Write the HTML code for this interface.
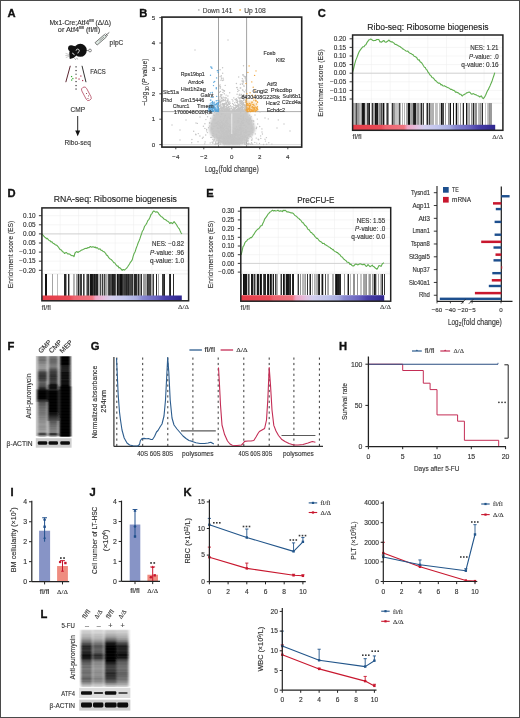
<!DOCTYPE html>
<html><head><meta charset="utf-8"><style>
html,body{margin:0;padding:0;background:#fff;}
body{width:520px;height:718px;overflow:hidden;position:relative;font-family:"Liberation Sans",sans-serif;}
svg{position:absolute;left:0;top:0;display:block;filter:blur(0.45px);}
.brd{position:absolute;left:0;top:0;width:518px;height:716px;border:1px solid #4a4a4a;}
</style></head><body>
<svg width="520" height="718" viewBox="0 0 520 718">
<text x="7.6" y="16.599999999999998" font-size="11.2" font-weight="bold" fill="#111" font-family='"Liberation Sans", sans-serif' stroke="#111" stroke-width="0.35">A</text>
<text x="80.2" y="24.5" font-size="6.9" text-anchor="middle" textLength="61.5" lengthAdjust="spacingAndGlyphs" fill="#333" stroke="#333" stroke-width="0.14" font-family='"Liberation Sans", sans-serif'>Mx1-Cre;Atf4<tspan font-size="3.6" dy="-2.8">fl/fl</tspan><tspan dy="2.8"> (Δ/Δ)</tspan></text>
<text x="79" y="31.5" font-size="6.9" text-anchor="middle" textLength="42.4" lengthAdjust="spacingAndGlyphs" fill="#333" stroke="#333" stroke-width="0.14" font-family='"Liberation Sans", sans-serif'>or Atf4<tspan font-size="3.6" dy="-2.8">fl/fl</tspan><tspan dy="2.8"> (fl/fl)</tspan></text>
<g transform="rotate(-41 101 39.6)"><rect x="94.5" y="38" width="12.5" height="3.2" fill="#dde8e2" stroke="#555" stroke-width="0.7"/><line x1="99" y1="39.6" x2="105" y2="39.6" stroke="#888" stroke-width="0.8"/><line x1="107" y1="39.6" x2="112" y2="39.6" stroke="#555" stroke-width="0.8"/><line x1="108.5" y1="38" x2="108.5" y2="41.2" stroke="#555" stroke-width="0.7"/></g>
<text x="109.5" y="45.2" font-size="6.6" textLength="13.8" lengthAdjust="spacingAndGlyphs" fill="#333" stroke="#333" stroke-width="0.14" font-family='"Liberation Sans", sans-serif'>pIpC</text>
<g><circle cx="80.3" cy="50.3" r="6.5" fill="#111"/><circle cx="71" cy="48.2" r="2.9" fill="#111"/><path d="M71 46 C74 45 77 46.5 78.5 49 C79 53 76 57 72.5 58.3 L69.8 59 C69.2 56 69 53 69.8 50 Z" fill="#111"/><path d="M76.1 50.6 A1.6 1.6 0 1 1 78.3 52.2 L77.8 53.4" stroke="#fff" stroke-width="0.85" fill="none"/><path d="M72.6 53.3 L74.2 54.5" stroke="#fff" stroke-width="1.0" stroke-linecap="round"/><path d="M69.3 54.6 L65.6 53.4 M69.3 55.3 L65.3 55.6 M69.5 56 L65.8 57.6" stroke="#999" stroke-width="0.5"/><path d="M74.5 58.2 L75.8 59.8 M76.6 57.8 L77.6 59.4" stroke="#888" stroke-width="0.8"/><path d="M86.7 50.6 L88.7 50.5" stroke="#333" stroke-width="0.6" fill="none"/><circle cx="90" cy="50.5" r="1.4" fill="#fff" stroke="#555" stroke-width="0.7"/></g>
<line x1="70.3" y1="65.8" x2="65.8" y2="82.2" stroke="#5a2530" stroke-width="1.0"/>
<line x1="82.0" y1="65.8" x2="86.0" y2="82.2" stroke="#333" stroke-width="1.0"/>
<rect x="75.45" y="66.25" width="1.2" height="1.2" fill="#333"/>
<rect x="75.45" y="69.95" width="1.2" height="1.2" fill="#333"/>
<rect x="75.45" y="73.65" width="1.2" height="1.2" fill="#555"/>
<rect x="75.45" y="77.45" width="1.2" height="1.2" fill="#933"/>
<rect x="75.45" y="80.95" width="1.2" height="1.2" fill="#333"/>
<rect x="75.45" y="84.95" width="1.2" height="1.2" fill="#333"/>
<rect x="75.45" y="88.45" width="1.2" height="1.2" fill="#333"/>
<rect x="80.25" y="75.45" width="1.2" height="1.2" fill="#b03050"/>
<rect x="78.45" y="78.45" width="1.2" height="1.2" fill="#b03050"/>
<rect x="82.05" y="79.95" width="1.2" height="1.2" fill="#b03050"/>
<rect x="70.95" y="75.95" width="1.2" height="1.2" fill="#3a3"/>
<rect x="72.25" y="77.95" width="1.2" height="1.2" fill="#3a3"/>
<rect x="71.05" y="79.45" width="1.2" height="1.2" fill="#3a3"/>
<g transform="rotate(-28 86.5 94)"><rect x="83.8" y="86.5" width="5.4" height="14.5" rx="2.6" fill="none" stroke="#b0405a" stroke-width="0.7"/></g>
<rect x="86" y="93" width="0.9" height="0.9" fill="#8a2a3a"/>
<rect x="88" y="95.5" width="0.9" height="0.9" fill="#8a2a3a"/>
<rect x="87.5" y="98" width="0.9" height="0.9" fill="#8a2a3a"/>
<text x="90.3" y="74" font-size="7.0" textLength="15.5" lengthAdjust="spacingAndGlyphs" fill="#333" stroke="#333" stroke-width="0.14" font-family='"Liberation Sans", sans-serif'>FACS</text>
<text x="70.5" y="112.1" font-size="7.0" textLength="14.5" lengthAdjust="spacingAndGlyphs" fill="#333" stroke="#333" stroke-width="0.14" font-family='"Liberation Sans", sans-serif'>CMP</text>
<line x1="77.7" y1="116" x2="77.7" y2="131" stroke="#111" stroke-width="0.9"/>
<path d="M75.2 130.5 L80.2 130.5 L77.7 136.2 Z" fill="#111"/>
<text x="64.6" y="145.4" font-size="7.2" textLength="26.2" lengthAdjust="spacingAndGlyphs" fill="#333" stroke="#333" stroke-width="0.14" font-family='"Liberation Sans", sans-serif'>Ribo-seq</text>
<text x="139.3" y="16.599999999999998" font-size="11.2" font-weight="bold" fill="#111" font-family='"Liberation Sans", sans-serif' stroke="#111" stroke-width="0.35">B</text>
<circle cx="198.8" cy="9.9" r="0.9" fill="#bbb"/>
<text x="202.7" y="12.5" font-size="6.8" textLength="29.7" lengthAdjust="spacingAndGlyphs" fill="#444" stroke="#444" stroke-width="0.14" font-family='"Liberation Sans", sans-serif'>Down 141</text>
<circle cx="240.1" cy="9.9" r="0.9" fill="#f0b050"/>
<text x="244.2" y="12.5" font-size="6.8" textLength="21.6" lengthAdjust="spacingAndGlyphs" fill="#444" stroke="#444" stroke-width="0.14" font-family='"Liberation Sans", sans-serif'>Up 108</text>
<line x1="218.5" y1="17.1" x2="218.5" y2="147.1" stroke="#8a8a8a" stroke-width="0.8"/>
<line x1="246.6" y1="17.1" x2="246.6" y2="147.1" stroke="#8a8a8a" stroke-width="0.8"/>
<line x1="161.9" y1="111.6" x2="301.7" y2="111.6" stroke="#8a8a8a" stroke-width="0.7"/>
<line x1="161.9" y1="144.6" x2="301.7" y2="144.6" stroke="#bbb" stroke-width="0.5"/>
<defs><filter id="vb" x="-10%" y="-10%" width="120%" height="120%"><feGaussianBlur stdDeviation="1.2"/></filter></defs>
<path d="M215.5 111 L212 117 L210 123 L209 129.5 L210.5 134.5 L214 138.5 L219 142.8 L224 145 L240 145 L244 142.8 L249 138.5 L253.5 134 L255.5 129.5 L254 124 L251.5 118 L247.5 111 Z" fill="#c8c8c8" filter="url(#vb)"/>
<g fill="#c4c4c4"><circle cx="218.1" cy="137.8" r="0.7"/><circle cx="242.9" cy="136.4" r="0.7"/><circle cx="216.9" cy="143.4" r="0.7"/><circle cx="237.2" cy="132.2" r="0.7"/><circle cx="218.2" cy="121.5" r="0.7"/><circle cx="239.7" cy="138.3" r="0.7"/><circle cx="249.0" cy="124.3" r="0.7"/><circle cx="230.7" cy="142.4" r="0.7"/><circle cx="260.6" cy="135.9" r="0.7"/><circle cx="223.0" cy="128.7" r="0.7"/><circle cx="232.9" cy="143.5" r="0.7"/><circle cx="227.9" cy="144.0" r="0.7"/><circle cx="234.9" cy="138.1" r="0.7"/><circle cx="244.1" cy="141.1" r="0.7"/><circle cx="211.8" cy="128.5" r="0.7"/><circle cx="215.9" cy="141.2" r="0.7"/><circle cx="215.3" cy="144.6" r="0.7"/><circle cx="223.1" cy="141.6" r="0.7"/><circle cx="268.8" cy="142.8" r="0.7"/><circle cx="241.2" cy="125.4" r="0.7"/><circle cx="228.6" cy="138.3" r="0.7"/><circle cx="230.8" cy="141.7" r="0.7"/><circle cx="233.0" cy="136.6" r="0.7"/><circle cx="238.1" cy="134.8" r="0.7"/><circle cx="252.8" cy="132.6" r="0.7"/><circle cx="239.5" cy="144.6" r="0.7"/><circle cx="242.5" cy="135.3" r="0.7"/><circle cx="243.0" cy="142.6" r="0.7"/><circle cx="245.9" cy="133.2" r="0.7"/><circle cx="233.4" cy="138.2" r="0.7"/><circle cx="240.4" cy="138.1" r="0.7"/><circle cx="250.2" cy="136.4" r="0.7"/><circle cx="238.0" cy="138.5" r="0.7"/><circle cx="235.0" cy="142.6" r="0.7"/><circle cx="233.8" cy="139.4" r="0.7"/><circle cx="220.4" cy="138.2" r="0.7"/><circle cx="238.4" cy="126.1" r="0.7"/><circle cx="242.7" cy="128.0" r="0.7"/><circle cx="240.5" cy="134.9" r="0.7"/><circle cx="233.9" cy="137.9" r="0.7"/><circle cx="251.7" cy="137.1" r="0.7"/><circle cx="224.0" cy="118.8" r="0.7"/><circle cx="234.5" cy="135.7" r="0.7"/><circle cx="241.6" cy="127.8" r="0.7"/><circle cx="233.8" cy="138.2" r="0.7"/><circle cx="233.2" cy="137.4" r="0.7"/><circle cx="230.5" cy="141.6" r="0.7"/><circle cx="244.3" cy="132.6" r="0.7"/><circle cx="232.5" cy="134.4" r="0.7"/><circle cx="223.3" cy="133.7" r="0.7"/><circle cx="244.3" cy="139.7" r="0.7"/><circle cx="211.7" cy="123.8" r="0.7"/><circle cx="234.5" cy="139.8" r="0.7"/><circle cx="249.1" cy="123.7" r="0.7"/><circle cx="231.8" cy="140.1" r="0.7"/><circle cx="230.0" cy="124.7" r="0.7"/><circle cx="240.8" cy="111.8" r="0.7"/><circle cx="243.0" cy="130.0" r="0.7"/><circle cx="227.2" cy="142.2" r="0.7"/><circle cx="259.7" cy="126.5" r="0.7"/><circle cx="233.1" cy="132.1" r="0.7"/><circle cx="230.9" cy="130.2" r="0.7"/><circle cx="224.1" cy="138.4" r="0.7"/><circle cx="239.9" cy="125.5" r="0.7"/><circle cx="239.1" cy="140.7" r="0.7"/><circle cx="211.4" cy="128.0" r="0.7"/><circle cx="225.0" cy="138.0" r="0.7"/><circle cx="238.4" cy="140.5" r="0.7"/><circle cx="240.6" cy="143.4" r="0.7"/><circle cx="228.1" cy="143.4" r="0.7"/><circle cx="236.6" cy="135.3" r="0.7"/><circle cx="226.5" cy="142.0" r="0.7"/><circle cx="216.5" cy="113.8" r="0.7"/><circle cx="248.1" cy="141.0" r="0.7"/><circle cx="226.4" cy="130.7" r="0.7"/><circle cx="233.7" cy="142.8" r="0.7"/><circle cx="256.2" cy="138.1" r="0.7"/><circle cx="247.6" cy="140.9" r="0.7"/><circle cx="213.8" cy="140.7" r="0.7"/><circle cx="244.3" cy="134.9" r="0.7"/><circle cx="229.8" cy="126.3" r="0.7"/><circle cx="230.4" cy="132.0" r="0.7"/><circle cx="238.5" cy="118.3" r="0.7"/><circle cx="221.6" cy="126.2" r="0.7"/><circle cx="250.2" cy="119.0" r="0.7"/><circle cx="214.6" cy="126.4" r="0.7"/><circle cx="241.4" cy="130.2" r="0.7"/><circle cx="224.0" cy="135.4" r="0.7"/><circle cx="218.5" cy="132.6" r="0.7"/><circle cx="245.8" cy="132.1" r="0.7"/><circle cx="254.8" cy="142.4" r="0.7"/><circle cx="230.3" cy="136.5" r="0.7"/><circle cx="230.4" cy="134.0" r="0.7"/><circle cx="211.9" cy="128.7" r="0.7"/><circle cx="247.9" cy="128.0" r="0.7"/><circle cx="246.7" cy="139.8" r="0.7"/><circle cx="223.8" cy="143.4" r="0.7"/><circle cx="227.6" cy="133.1" r="0.7"/><circle cx="212.8" cy="111.8" r="0.7"/><circle cx="231.7" cy="143.5" r="0.7"/><circle cx="226.5" cy="128.6" r="0.7"/><circle cx="233.8" cy="139.6" r="0.7"/><circle cx="245.4" cy="129.9" r="0.7"/><circle cx="209.7" cy="126.1" r="0.7"/><circle cx="224.1" cy="127.4" r="0.7"/><circle cx="235.6" cy="134.5" r="0.7"/><circle cx="240.4" cy="115.9" r="0.7"/><circle cx="239.9" cy="135.6" r="0.7"/><circle cx="223.3" cy="138.6" r="0.7"/><circle cx="240.4" cy="132.3" r="0.7"/><circle cx="243.1" cy="118.0" r="0.7"/><circle cx="225.2" cy="115.5" r="0.7"/><circle cx="230.7" cy="139.9" r="0.7"/><circle cx="223.2" cy="141.2" r="0.7"/><circle cx="234.4" cy="135.5" r="0.7"/><circle cx="222.6" cy="132.7" r="0.7"/><circle cx="223.3" cy="120.4" r="0.7"/><circle cx="244.0" cy="142.5" r="0.7"/><circle cx="234.3" cy="143.6" r="0.7"/><circle cx="234.1" cy="142.8" r="0.7"/><circle cx="228.1" cy="132.1" r="0.7"/><circle cx="224.6" cy="123.6" r="0.7"/><circle cx="237.8" cy="143.8" r="0.7"/><circle cx="229.4" cy="144.0" r="0.7"/><circle cx="235.8" cy="138.0" r="0.7"/><circle cx="234.0" cy="142.5" r="0.7"/><circle cx="223.4" cy="133.8" r="0.7"/><circle cx="220.6" cy="127.7" r="0.7"/><circle cx="228.8" cy="138.9" r="0.7"/><circle cx="224.9" cy="143.4" r="0.7"/><circle cx="244.4" cy="143.3" r="0.7"/><circle cx="230.2" cy="139.6" r="0.7"/><circle cx="230.4" cy="137.2" r="0.7"/><circle cx="227.4" cy="132.6" r="0.7"/><circle cx="217.6" cy="124.4" r="0.7"/><circle cx="216.2" cy="123.3" r="0.7"/><circle cx="235.8" cy="142.2" r="0.7"/><circle cx="248.1" cy="131.4" r="0.7"/><circle cx="240.2" cy="133.6" r="0.7"/><circle cx="214.5" cy="112.2" r="0.7"/><circle cx="221.4" cy="130.7" r="0.7"/><circle cx="246.3" cy="121.8" r="0.7"/><circle cx="243.5" cy="138.3" r="0.7"/><circle cx="227.4" cy="138.8" r="0.7"/><circle cx="228.2" cy="126.6" r="0.7"/><circle cx="220.6" cy="124.9" r="0.7"/><circle cx="237.3" cy="120.8" r="0.7"/><circle cx="262.4" cy="134.0" r="0.7"/><circle cx="212.5" cy="135.5" r="0.7"/><circle cx="221.3" cy="114.1" r="0.7"/><circle cx="238.2" cy="135.8" r="0.7"/><circle cx="242.3" cy="136.4" r="0.7"/><circle cx="213.6" cy="133.2" r="0.7"/><circle cx="229.1" cy="144.4" r="0.7"/><circle cx="233.3" cy="141.8" r="0.7"/><circle cx="233.9" cy="139.5" r="0.7"/><circle cx="221.8" cy="121.9" r="0.7"/><circle cx="235.8" cy="140.1" r="0.7"/><circle cx="213.9" cy="141.1" r="0.7"/><circle cx="241.0" cy="126.1" r="0.7"/><circle cx="244.1" cy="138.1" r="0.7"/><circle cx="236.3" cy="143.2" r="0.7"/><circle cx="234.2" cy="133.8" r="0.7"/><circle cx="227.3" cy="128.0" r="0.7"/><circle cx="223.0" cy="131.6" r="0.7"/><circle cx="239.8" cy="130.4" r="0.7"/><circle cx="227.7" cy="135.3" r="0.7"/><circle cx="245.4" cy="113.0" r="0.7"/><circle cx="237.5" cy="122.9" r="0.7"/><circle cx="245.2" cy="140.4" r="0.7"/><circle cx="225.1" cy="140.9" r="0.7"/><circle cx="218.9" cy="140.0" r="0.7"/><circle cx="229.7" cy="143.3" r="0.7"/><circle cx="245.0" cy="140.6" r="0.7"/><circle cx="215.5" cy="123.6" r="0.7"/><circle cx="219.8" cy="137.2" r="0.7"/><circle cx="230.3" cy="141.8" r="0.7"/><circle cx="220.6" cy="140.6" r="0.7"/><circle cx="256.3" cy="128.5" r="0.7"/><circle cx="230.3" cy="135.4" r="0.7"/><circle cx="240.1" cy="134.2" r="0.7"/><circle cx="241.5" cy="115.7" r="0.7"/><circle cx="222.1" cy="142.7" r="0.7"/><circle cx="237.4" cy="129.8" r="0.7"/><circle cx="237.1" cy="141.9" r="0.7"/><circle cx="232.2" cy="143.1" r="0.7"/><circle cx="234.6" cy="138.4" r="0.7"/><circle cx="228.0" cy="136.4" r="0.7"/><circle cx="222.2" cy="128.6" r="0.7"/><circle cx="246.1" cy="126.3" r="0.7"/><circle cx="241.4" cy="132.4" r="0.7"/><circle cx="231.8" cy="139.9" r="0.7"/><circle cx="220.0" cy="141.3" r="0.7"/><circle cx="223.6" cy="134.8" r="0.7"/><circle cx="225.3" cy="143.3" r="0.7"/><circle cx="236.3" cy="130.3" r="0.7"/><circle cx="222.9" cy="131.4" r="0.7"/><circle cx="241.0" cy="128.8" r="0.7"/><circle cx="236.9" cy="138.3" r="0.7"/><circle cx="230.6" cy="130.2" r="0.7"/><circle cx="239.8" cy="137.9" r="0.7"/><circle cx="221.7" cy="113.4" r="0.7"/><circle cx="236.4" cy="140.9" r="0.7"/><circle cx="233.0" cy="131.8" r="0.7"/><circle cx="231.5" cy="141.3" r="0.7"/><circle cx="237.6" cy="134.0" r="0.7"/><circle cx="233.2" cy="140.5" r="0.7"/><circle cx="217.9" cy="128.8" r="0.7"/><circle cx="239.3" cy="143.6" r="0.7"/><circle cx="221.6" cy="114.3" r="0.7"/><circle cx="237.2" cy="143.5" r="0.7"/><circle cx="212.9" cy="143.3" r="0.7"/><circle cx="214.8" cy="144.1" r="0.7"/><circle cx="233.4" cy="141.7" r="0.7"/><circle cx="234.2" cy="143.1" r="0.7"/><circle cx="219.0" cy="138.0" r="0.7"/><circle cx="226.1" cy="141.9" r="0.7"/><circle cx="234.8" cy="138.8" r="0.7"/><circle cx="236.3" cy="142.5" r="0.7"/><circle cx="257.3" cy="119.1" r="0.7"/><circle cx="213.3" cy="135.9" r="0.7"/><circle cx="226.0" cy="133.0" r="0.7"/><circle cx="220.0" cy="142.9" r="0.7"/><circle cx="230.3" cy="143.8" r="0.7"/><circle cx="225.3" cy="122.2" r="0.7"/><circle cx="237.0" cy="133.5" r="0.7"/><circle cx="231.0" cy="136.9" r="0.7"/><circle cx="234.1" cy="139.6" r="0.7"/><circle cx="229.8" cy="144.5" r="0.7"/><circle cx="247.6" cy="122.7" r="0.7"/><circle cx="225.6" cy="121.8" r="0.7"/><circle cx="224.0" cy="134.8" r="0.7"/><circle cx="221.0" cy="133.8" r="0.7"/><circle cx="251.9" cy="140.1" r="0.7"/><circle cx="230.5" cy="127.0" r="0.7"/><circle cx="231.1" cy="131.5" r="0.7"/><circle cx="236.3" cy="134.7" r="0.7"/><circle cx="250.2" cy="117.6" r="0.7"/><circle cx="225.3" cy="125.0" r="0.7"/><circle cx="232.9" cy="136.6" r="0.7"/><circle cx="231.1" cy="141.7" r="0.7"/><circle cx="224.9" cy="132.8" r="0.7"/><circle cx="242.3" cy="143.6" r="0.7"/><circle cx="221.7" cy="128.5" r="0.7"/><circle cx="234.8" cy="122.1" r="0.7"/><circle cx="226.7" cy="135.9" r="0.7"/><circle cx="224.0" cy="130.1" r="0.7"/><circle cx="220.9" cy="141.4" r="0.7"/><circle cx="247.9" cy="144.6" r="0.7"/><circle cx="226.1" cy="125.9" r="0.7"/><circle cx="234.2" cy="144.4" r="0.7"/><circle cx="218.1" cy="125.1" r="0.7"/><circle cx="231.3" cy="137.1" r="0.7"/><circle cx="238.8" cy="142.0" r="0.7"/><circle cx="228.2" cy="141.4" r="0.7"/><circle cx="231.7" cy="129.2" r="0.7"/><circle cx="219.1" cy="138.3" r="0.7"/><circle cx="246.0" cy="139.7" r="0.7"/><circle cx="247.8" cy="143.7" r="0.7"/><circle cx="233.4" cy="141.5" r="0.7"/><circle cx="216.3" cy="125.8" r="0.7"/><circle cx="256.6" cy="127.3" r="0.7"/><circle cx="238.6" cy="132.8" r="0.7"/><circle cx="238.2" cy="132.3" r="0.7"/><circle cx="228.8" cy="142.5" r="0.7"/><circle cx="242.8" cy="139.0" r="0.7"/><circle cx="216.9" cy="140.3" r="0.7"/><circle cx="225.7" cy="137.3" r="0.7"/><circle cx="223.7" cy="130.4" r="0.7"/><circle cx="228.1" cy="129.1" r="0.7"/><circle cx="231.3" cy="143.4" r="0.7"/><circle cx="231.9" cy="142.5" r="0.7"/><circle cx="242.2" cy="123.3" r="0.7"/><circle cx="213.4" cy="115.1" r="0.7"/><circle cx="231.8" cy="142.3" r="0.7"/><circle cx="258.7" cy="139.8" r="0.7"/><circle cx="253.6" cy="121.0" r="0.7"/><circle cx="220.3" cy="136.7" r="0.7"/><circle cx="240.1" cy="142.9" r="0.7"/><circle cx="205.7" cy="135.0" r="0.7"/><circle cx="229.7" cy="135.0" r="0.7"/><circle cx="252.2" cy="138.9" r="0.7"/><circle cx="227.4" cy="141.5" r="0.7"/><circle cx="223.0" cy="133.7" r="0.7"/><circle cx="232.9" cy="142.1" r="0.7"/><circle cx="226.1" cy="143.6" r="0.7"/><circle cx="216.2" cy="134.5" r="0.7"/><circle cx="223.4" cy="141.7" r="0.7"/><circle cx="221.6" cy="136.8" r="0.7"/><circle cx="234.2" cy="133.8" r="0.7"/><circle cx="259.5" cy="143.5" r="0.7"/><circle cx="231.0" cy="139.0" r="0.7"/><circle cx="249.7" cy="115.2" r="0.7"/><circle cx="235.2" cy="131.4" r="0.7"/><circle cx="226.2" cy="137.5" r="0.7"/><circle cx="226.1" cy="130.9" r="0.7"/><circle cx="218.5" cy="131.0" r="0.7"/><circle cx="232.0" cy="140.0" r="0.7"/><circle cx="232.0" cy="124.6" r="0.7"/><circle cx="251.7" cy="120.9" r="0.7"/><circle cx="235.6" cy="143.7" r="0.7"/><circle cx="230.3" cy="136.0" r="0.7"/><circle cx="228.1" cy="141.4" r="0.7"/><circle cx="227.6" cy="143.6" r="0.7"/><circle cx="246.2" cy="130.3" r="0.7"/><circle cx="216.8" cy="136.2" r="0.7"/><circle cx="222.9" cy="133.1" r="0.7"/><circle cx="234.3" cy="136.6" r="0.7"/><circle cx="231.1" cy="130.2" r="0.7"/><circle cx="236.9" cy="142.1" r="0.7"/><circle cx="237.5" cy="129.6" r="0.7"/><circle cx="232.7" cy="139.3" r="0.7"/><circle cx="224.1" cy="140.0" r="0.7"/><circle cx="235.7" cy="135.6" r="0.7"/><circle cx="225.4" cy="131.0" r="0.7"/><circle cx="231.2" cy="127.8" r="0.7"/><circle cx="222.1" cy="138.4" r="0.7"/><circle cx="250.5" cy="119.0" r="0.7"/><circle cx="235.9" cy="142.6" r="0.7"/><circle cx="219.9" cy="137.2" r="0.7"/><circle cx="228.1" cy="136.9" r="0.7"/><circle cx="232.5" cy="141.6" r="0.7"/><circle cx="235.6" cy="130.3" r="0.7"/><circle cx="240.1" cy="138.9" r="0.7"/><circle cx="229.1" cy="130.7" r="0.7"/><circle cx="230.5" cy="140.2" r="0.7"/><circle cx="220.5" cy="124.5" r="0.7"/><circle cx="228.1" cy="140.9" r="0.7"/><circle cx="228.1" cy="132.1" r="0.7"/><circle cx="255.0" cy="115.0" r="0.7"/><circle cx="242.1" cy="136.2" r="0.7"/><circle cx="234.9" cy="137.0" r="0.7"/><circle cx="227.1" cy="134.7" r="0.7"/><circle cx="253.6" cy="124.0" r="0.7"/><circle cx="231.9" cy="137.9" r="0.7"/><circle cx="224.7" cy="135.6" r="0.7"/><circle cx="223.0" cy="136.1" r="0.7"/><circle cx="236.7" cy="131.4" r="0.7"/><circle cx="235.9" cy="132.4" r="0.7"/><circle cx="239.2" cy="130.4" r="0.7"/><circle cx="240.2" cy="123.9" r="0.7"/><circle cx="238.5" cy="137.8" r="0.7"/><circle cx="245.2" cy="141.6" r="0.7"/><circle cx="217.9" cy="138.2" r="0.7"/><circle cx="247.7" cy="138.6" r="0.7"/><circle cx="233.2" cy="141.8" r="0.7"/><circle cx="212.9" cy="133.3" r="0.7"/><circle cx="235.8" cy="142.5" r="0.7"/><circle cx="229.9" cy="126.4" r="0.7"/><circle cx="245.5" cy="131.7" r="0.7"/><circle cx="243.3" cy="123.6" r="0.7"/><circle cx="226.8" cy="138.0" r="0.7"/><circle cx="235.3" cy="128.2" r="0.7"/><circle cx="212.9" cy="139.5" r="0.7"/><circle cx="223.8" cy="137.1" r="0.7"/><circle cx="248.2" cy="138.7" r="0.7"/><circle cx="217.9" cy="143.7" r="0.7"/><circle cx="228.6" cy="129.9" r="0.7"/><circle cx="241.7" cy="136.8" r="0.7"/><circle cx="239.5" cy="127.4" r="0.7"/><circle cx="244.1" cy="120.4" r="0.7"/><circle cx="243.6" cy="114.9" r="0.7"/><circle cx="247.3" cy="137.4" r="0.7"/><circle cx="214.4" cy="139.7" r="0.7"/><circle cx="235.6" cy="134.7" r="0.7"/><circle cx="226.3" cy="141.5" r="0.7"/><circle cx="229.9" cy="118.6" r="0.7"/><circle cx="227.0" cy="140.0" r="0.7"/><circle cx="235.1" cy="134.9" r="0.7"/><circle cx="240.8" cy="140.2" r="0.7"/><circle cx="244.0" cy="128.7" r="0.7"/><circle cx="232.9" cy="139.7" r="0.7"/><circle cx="243.3" cy="137.8" r="0.7"/><circle cx="210.6" cy="118.2" r="0.7"/><circle cx="237.0" cy="143.4" r="0.7"/><circle cx="234.9" cy="138.5" r="0.7"/><circle cx="233.4" cy="131.5" r="0.7"/><circle cx="225.2" cy="139.7" r="0.7"/><circle cx="235.4" cy="137.2" r="0.7"/><circle cx="240.6" cy="123.7" r="0.7"/><circle cx="226.5" cy="131.5" r="0.7"/><circle cx="237.0" cy="133.0" r="0.7"/><circle cx="230.3" cy="127.5" r="0.7"/><circle cx="240.6" cy="138.0" r="0.7"/><circle cx="204.9" cy="123.7" r="0.7"/><circle cx="223.9" cy="143.6" r="0.7"/><circle cx="257.7" cy="124.0" r="0.7"/><circle cx="235.3" cy="135.5" r="0.7"/><circle cx="218.5" cy="140.9" r="0.7"/><circle cx="227.3" cy="138.1" r="0.7"/><circle cx="244.4" cy="143.3" r="0.7"/><circle cx="218.0" cy="121.4" r="0.7"/><circle cx="228.3" cy="131.6" r="0.7"/><circle cx="235.4" cy="139.8" r="0.7"/><circle cx="228.0" cy="137.6" r="0.7"/><circle cx="241.0" cy="132.0" r="0.7"/><circle cx="230.4" cy="134.6" r="0.7"/><circle cx="243.0" cy="122.4" r="0.7"/><circle cx="252.6" cy="144.2" r="0.7"/><circle cx="243.6" cy="119.5" r="0.7"/><circle cx="239.5" cy="139.4" r="0.7"/><circle cx="230.7" cy="141.1" r="0.7"/><circle cx="219.3" cy="142.2" r="0.7"/><circle cx="246.1" cy="137.8" r="0.7"/><circle cx="237.7" cy="136.8" r="0.7"/><circle cx="234.6" cy="135.3" r="0.7"/><circle cx="236.0" cy="142.3" r="0.7"/><circle cx="235.3" cy="138.7" r="0.7"/><circle cx="218.6" cy="138.8" r="0.7"/><circle cx="243.4" cy="118.9" r="0.7"/><circle cx="228.2" cy="136.7" r="0.7"/><circle cx="240.3" cy="139.2" r="0.7"/><circle cx="214.4" cy="137.8" r="0.7"/><circle cx="220.9" cy="126.2" r="0.7"/><circle cx="240.6" cy="135.9" r="0.7"/><circle cx="203.4" cy="126.2" r="0.7"/><circle cx="239.6" cy="127.7" r="0.7"/><circle cx="242.7" cy="143.4" r="0.7"/><circle cx="229.7" cy="138.5" r="0.7"/><circle cx="220.4" cy="137.6" r="0.7"/><circle cx="266.4" cy="137.6" r="0.7"/><circle cx="234.1" cy="138.9" r="0.7"/><circle cx="224.9" cy="137.7" r="0.7"/><circle cx="221.9" cy="131.5" r="0.7"/><circle cx="228.8" cy="136.5" r="0.7"/><circle cx="218.9" cy="128.5" r="0.7"/><circle cx="231.5" cy="139.8" r="0.7"/><circle cx="230.6" cy="137.6" r="0.7"/><circle cx="245.4" cy="136.8" r="0.7"/><circle cx="230.2" cy="137.2" r="0.7"/><circle cx="234.1" cy="141.2" r="0.7"/><circle cx="235.0" cy="141.3" r="0.7"/><circle cx="224.1" cy="126.1" r="0.7"/><circle cx="236.6" cy="134.6" r="0.7"/><circle cx="239.6" cy="129.5" r="0.7"/><circle cx="238.6" cy="139.8" r="0.7"/><circle cx="235.0" cy="140.5" r="0.7"/><circle cx="228.2" cy="142.5" r="0.7"/><circle cx="242.2" cy="136.9" r="0.7"/><circle cx="215.7" cy="142.5" r="0.7"/><circle cx="234.0" cy="128.5" r="0.7"/><circle cx="224.2" cy="136.9" r="0.7"/><circle cx="230.1" cy="143.8" r="0.7"/><circle cx="217.7" cy="128.1" r="0.7"/><circle cx="251.5" cy="140.1" r="0.7"/><circle cx="223.6" cy="128.9" r="0.7"/><circle cx="241.8" cy="143.0" r="0.7"/><circle cx="222.9" cy="127.5" r="0.7"/><circle cx="240.4" cy="136.3" r="0.7"/><circle cx="212.1" cy="142.2" r="0.7"/><circle cx="238.8" cy="129.2" r="0.7"/><circle cx="242.2" cy="122.7" r="0.7"/><circle cx="243.4" cy="132.9" r="0.7"/><circle cx="223.9" cy="132.1" r="0.7"/><circle cx="242.9" cy="125.1" r="0.7"/><circle cx="245.2" cy="142.8" r="0.7"/><circle cx="227.2" cy="124.8" r="0.7"/><circle cx="240.6" cy="112.7" r="0.7"/><circle cx="226.6" cy="139.3" r="0.7"/><circle cx="239.1" cy="139.8" r="0.7"/><circle cx="216.5" cy="130.9" r="0.7"/><circle cx="223.8" cy="133.2" r="0.7"/><circle cx="247.8" cy="112.4" r="0.7"/><circle cx="218.0" cy="138.4" r="0.7"/><circle cx="223.6" cy="140.7" r="0.7"/><circle cx="238.1" cy="129.8" r="0.7"/><circle cx="246.8" cy="120.0" r="0.7"/><circle cx="226.1" cy="120.7" r="0.7"/><circle cx="232.6" cy="134.6" r="0.7"/><circle cx="235.3" cy="139.1" r="0.7"/><circle cx="227.5" cy="143.4" r="0.7"/><circle cx="238.7" cy="143.0" r="0.7"/><circle cx="258.2" cy="139.2" r="0.7"/><circle cx="226.6" cy="136.6" r="0.7"/><circle cx="223.1" cy="124.5" r="0.7"/><circle cx="220.8" cy="130.3" r="0.7"/><circle cx="232.5" cy="143.3" r="0.7"/><circle cx="235.7" cy="133.8" r="0.7"/><circle cx="238.7" cy="134.9" r="0.7"/><circle cx="225.5" cy="141.5" r="0.7"/><circle cx="223.1" cy="143.2" r="0.7"/><circle cx="222.6" cy="139.3" r="0.7"/><circle cx="229.8" cy="142.8" r="0.7"/><circle cx="228.8" cy="140.0" r="0.7"/><circle cx="246.5" cy="138.2" r="0.7"/><circle cx="220.5" cy="141.5" r="0.7"/><circle cx="219.6" cy="126.7" r="0.7"/><circle cx="232.7" cy="131.7" r="0.7"/><circle cx="195.7" cy="134.3" r="0.7"/><circle cx="243.4" cy="117.5" r="0.7"/><circle cx="221.8" cy="135.9" r="0.7"/><circle cx="209.5" cy="123.0" r="0.7"/><circle cx="218.3" cy="141.1" r="0.7"/><circle cx="209.7" cy="122.6" r="0.7"/><circle cx="230.2" cy="142.1" r="0.7"/><circle cx="228.1" cy="123.6" r="0.7"/><circle cx="230.1" cy="133.4" r="0.7"/><circle cx="231.9" cy="138.6" r="0.7"/><circle cx="228.3" cy="142.5" r="0.7"/><circle cx="240.4" cy="133.9" r="0.7"/><circle cx="220.5" cy="144.3" r="0.7"/><circle cx="248.1" cy="134.7" r="0.7"/><circle cx="223.6" cy="143.0" r="0.7"/><circle cx="227.9" cy="135.1" r="0.7"/><circle cx="232.2" cy="141.9" r="0.7"/><circle cx="220.4" cy="116.8" r="0.7"/><circle cx="214.0" cy="126.4" r="0.7"/><circle cx="235.1" cy="128.9" r="0.7"/><circle cx="209.7" cy="122.9" r="0.7"/><circle cx="248.0" cy="124.1" r="0.7"/><circle cx="241.7" cy="131.6" r="0.7"/><circle cx="232.2" cy="144.5" r="0.7"/><circle cx="232.2" cy="138.5" r="0.7"/><circle cx="230.0" cy="141.9" r="0.7"/><circle cx="248.1" cy="122.1" r="0.7"/><circle cx="223.4" cy="136.9" r="0.7"/><circle cx="228.9" cy="143.1" r="0.7"/><circle cx="255.3" cy="133.9" r="0.7"/><circle cx="227.1" cy="132.8" r="0.7"/><circle cx="260.0" cy="111.9" r="0.7"/><circle cx="224.3" cy="143.1" r="0.7"/><circle cx="224.7" cy="117.1" r="0.7"/><circle cx="237.7" cy="139.9" r="0.7"/><circle cx="237.3" cy="135.5" r="0.7"/><circle cx="225.0" cy="143.3" r="0.7"/><circle cx="236.5" cy="130.1" r="0.7"/><circle cx="240.1" cy="118.5" r="0.7"/><circle cx="236.8" cy="143.0" r="0.7"/><circle cx="230.3" cy="137.6" r="0.7"/><circle cx="250.1" cy="119.0" r="0.7"/><circle cx="230.4" cy="140.4" r="0.7"/><circle cx="223.0" cy="113.5" r="0.7"/><circle cx="227.5" cy="143.2" r="0.7"/><circle cx="233.4" cy="137.6" r="0.7"/><circle cx="230.0" cy="139.2" r="0.7"/><circle cx="235.2" cy="138.1" r="0.7"/><circle cx="221.7" cy="121.7" r="0.7"/><circle cx="220.3" cy="127.5" r="0.7"/><circle cx="243.0" cy="130.5" r="0.7"/><circle cx="233.0" cy="137.9" r="0.7"/><circle cx="246.7" cy="132.2" r="0.7"/><circle cx="229.1" cy="131.7" r="0.7"/><circle cx="219.0" cy="136.9" r="0.7"/><circle cx="228.5" cy="144.0" r="0.7"/><circle cx="224.4" cy="138.4" r="0.7"/><circle cx="231.7" cy="131.8" r="0.7"/><circle cx="239.6" cy="139.0" r="0.7"/><circle cx="232.1" cy="139.2" r="0.7"/><circle cx="229.2" cy="133.4" r="0.7"/><circle cx="241.1" cy="116.3" r="0.7"/><circle cx="234.7" cy="144.4" r="0.7"/><circle cx="213.7" cy="136.1" r="0.7"/><circle cx="224.7" cy="144.6" r="0.7"/><circle cx="216.7" cy="135.1" r="0.7"/><circle cx="221.4" cy="127.3" r="0.7"/><circle cx="234.6" cy="133.7" r="0.7"/><circle cx="210.2" cy="142.9" r="0.7"/><circle cx="226.3" cy="132.0" r="0.7"/><circle cx="238.4" cy="142.3" r="0.7"/><circle cx="233.0" cy="139.9" r="0.7"/><circle cx="225.4" cy="139.0" r="0.7"/><circle cx="213.8" cy="131.2" r="0.7"/><circle cx="236.3" cy="126.4" r="0.7"/><circle cx="232.9" cy="135.5" r="0.7"/><circle cx="234.5" cy="132.8" r="0.7"/><circle cx="228.8" cy="144.6" r="0.7"/><circle cx="217.2" cy="127.8" r="0.7"/><circle cx="211.4" cy="123.8" r="0.7"/><circle cx="234.5" cy="139.8" r="0.7"/><circle cx="244.8" cy="142.3" r="0.7"/><circle cx="220.7" cy="137.8" r="0.7"/><circle cx="230.2" cy="129.8" r="0.7"/><circle cx="253.7" cy="121.1" r="0.7"/><circle cx="219.1" cy="135.6" r="0.7"/><circle cx="233.9" cy="138.4" r="0.7"/><circle cx="237.7" cy="136.6" r="0.7"/><circle cx="241.2" cy="141.3" r="0.7"/><circle cx="221.9" cy="132.1" r="0.7"/><circle cx="230.4" cy="133.9" r="0.7"/><circle cx="249.4" cy="124.0" r="0.7"/><circle cx="235.9" cy="137.7" r="0.7"/><circle cx="241.0" cy="126.1" r="0.7"/><circle cx="241.4" cy="122.1" r="0.7"/><circle cx="242.5" cy="138.6" r="0.7"/><circle cx="226.6" cy="138.8" r="0.7"/><circle cx="235.0" cy="144.1" r="0.7"/><circle cx="212.9" cy="142.1" r="0.7"/><circle cx="238.0" cy="144.0" r="0.7"/><circle cx="214.0" cy="134.9" r="0.7"/><circle cx="239.9" cy="142.2" r="0.7"/><circle cx="236.6" cy="140.8" r="0.7"/><circle cx="224.4" cy="137.9" r="0.7"/><circle cx="227.8" cy="142.7" r="0.7"/><circle cx="268.3" cy="118.9" r="0.7"/><circle cx="233.3" cy="131.3" r="0.7"/><circle cx="232.9" cy="138.7" r="0.7"/><circle cx="223.9" cy="141.4" r="0.7"/><circle cx="206.6" cy="129.5" r="0.7"/><circle cx="225.1" cy="136.2" r="0.7"/><circle cx="247.1" cy="141.5" r="0.7"/><circle cx="242.8" cy="140.6" r="0.7"/><circle cx="229.5" cy="142.1" r="0.7"/><circle cx="222.3" cy="125.9" r="0.7"/><circle cx="241.7" cy="129.7" r="0.7"/><circle cx="241.2" cy="134.0" r="0.7"/><circle cx="214.9" cy="120.1" r="0.7"/><circle cx="217.5" cy="122.8" r="0.7"/><circle cx="234.0" cy="136.7" r="0.7"/><circle cx="237.5" cy="131.3" r="0.7"/><circle cx="235.7" cy="138.8" r="0.7"/><circle cx="234.6" cy="134.5" r="0.7"/><circle cx="227.4" cy="133.9" r="0.7"/><circle cx="248.7" cy="143.3" r="0.7"/><circle cx="236.7" cy="139.0" r="0.7"/><circle cx="228.6" cy="142.1" r="0.7"/><circle cx="228.0" cy="135.7" r="0.7"/><circle cx="231.5" cy="143.2" r="0.7"/><circle cx="235.4" cy="137.6" r="0.7"/><circle cx="211.9" cy="112.3" r="0.7"/><circle cx="229.9" cy="138.0" r="0.7"/><circle cx="227.6" cy="140.0" r="0.7"/><circle cx="241.5" cy="139.2" r="0.7"/><circle cx="233.6" cy="131.2" r="0.7"/><circle cx="233.7" cy="143.6" r="0.7"/><circle cx="227.0" cy="135.0" r="0.7"/><circle cx="251.9" cy="120.8" r="0.7"/><circle cx="223.0" cy="123.2" r="0.7"/><circle cx="228.1" cy="144.2" r="0.7"/><circle cx="225.3" cy="139.1" r="0.7"/><circle cx="238.0" cy="142.9" r="0.7"/><circle cx="229.4" cy="143.3" r="0.7"/><circle cx="227.3" cy="134.3" r="0.7"/><circle cx="226.0" cy="142.9" r="0.7"/><circle cx="229.5" cy="138.0" r="0.7"/><circle cx="229.3" cy="131.4" r="0.7"/><circle cx="236.4" cy="138.9" r="0.7"/><circle cx="228.4" cy="129.6" r="0.7"/><circle cx="222.6" cy="136.7" r="0.7"/><circle cx="237.1" cy="138.6" r="0.7"/><circle cx="229.1" cy="136.5" r="0.7"/><circle cx="232.5" cy="142.5" r="0.7"/><circle cx="247.4" cy="140.4" r="0.7"/><circle cx="213.2" cy="128.6" r="0.7"/><circle cx="241.1" cy="142.7" r="0.7"/><circle cx="219.8" cy="111.9" r="0.7"/><circle cx="235.4" cy="129.9" r="0.7"/><circle cx="237.3" cy="138.5" r="0.7"/><circle cx="228.5" cy="141.5" r="0.7"/><circle cx="221.8" cy="138.0" r="0.7"/><circle cx="242.0" cy="139.1" r="0.7"/><circle cx="225.6" cy="132.3" r="0.7"/><circle cx="230.6" cy="140.0" r="0.7"/><circle cx="221.4" cy="134.6" r="0.7"/><circle cx="240.1" cy="127.2" r="0.7"/><circle cx="232.1" cy="141.4" r="0.7"/><circle cx="225.4" cy="134.0" r="0.7"/><circle cx="240.4" cy="129.7" r="0.7"/><circle cx="227.5" cy="132.0" r="0.7"/><circle cx="231.1" cy="143.0" r="0.7"/><circle cx="223.5" cy="136.4" r="0.7"/><circle cx="242.3" cy="138.6" r="0.7"/><circle cx="244.1" cy="138.0" r="0.7"/><circle cx="221.0" cy="135.6" r="0.7"/><circle cx="227.9" cy="137.7" r="0.7"/><circle cx="242.0" cy="142.5" r="0.7"/><circle cx="243.0" cy="131.6" r="0.7"/><circle cx="230.6" cy="132.8" r="0.7"/><circle cx="236.7" cy="133.3" r="0.7"/><circle cx="222.3" cy="130.1" r="0.7"/><circle cx="249.8" cy="131.6" r="0.7"/><circle cx="220.9" cy="129.0" r="0.7"/><circle cx="222.0" cy="136.4" r="0.7"/><circle cx="228.4" cy="126.5" r="0.7"/><circle cx="239.8" cy="135.6" r="0.7"/><circle cx="234.4" cy="143.2" r="0.7"/><circle cx="240.6" cy="132.1" r="0.7"/><circle cx="228.0" cy="135.8" r="0.7"/><circle cx="238.1" cy="143.6" r="0.7"/><circle cx="234.7" cy="138.4" r="0.7"/><circle cx="228.3" cy="138.1" r="0.7"/><circle cx="245.8" cy="144.5" r="0.7"/><circle cx="225.3" cy="139.0" r="0.7"/><circle cx="215.6" cy="143.4" r="0.7"/><circle cx="216.8" cy="136.7" r="0.7"/><circle cx="212.2" cy="128.7" r="0.7"/><circle cx="241.7" cy="142.0" r="0.7"/><circle cx="218.5" cy="114.4" r="0.7"/><circle cx="224.9" cy="126.3" r="0.7"/><circle cx="226.1" cy="128.0" r="0.7"/><circle cx="252.2" cy="134.9" r="0.7"/><circle cx="240.2" cy="128.5" r="0.7"/><circle cx="217.4" cy="143.2" r="0.7"/><circle cx="225.5" cy="137.4" r="0.7"/><circle cx="231.7" cy="135.9" r="0.7"/><circle cx="232.5" cy="138.9" r="0.7"/><circle cx="228.6" cy="139.3" r="0.7"/><circle cx="226.0" cy="144.1" r="0.7"/><circle cx="235.7" cy="143.1" r="0.7"/><circle cx="245.8" cy="127.6" r="0.7"/><circle cx="241.1" cy="134.3" r="0.7"/><circle cx="233.6" cy="135.1" r="0.7"/><circle cx="243.5" cy="116.6" r="0.7"/><circle cx="234.3" cy="142.4" r="0.7"/><circle cx="231.5" cy="136.0" r="0.7"/><circle cx="235.0" cy="135.5" r="0.7"/><circle cx="230.0" cy="138.3" r="0.7"/><circle cx="229.7" cy="137.1" r="0.7"/><circle cx="222.3" cy="123.3" r="0.7"/><circle cx="243.4" cy="119.2" r="0.7"/><circle cx="221.1" cy="137.9" r="0.7"/><circle cx="227.6" cy="130.7" r="0.7"/><circle cx="241.6" cy="121.3" r="0.7"/><circle cx="239.5" cy="135.6" r="0.7"/><circle cx="227.9" cy="138.2" r="0.7"/><circle cx="232.5" cy="143.4" r="0.7"/><circle cx="208.9" cy="113.8" r="0.7"/><circle cx="237.7" cy="143.4" r="0.7"/><circle cx="227.3" cy="134.4" r="0.7"/><circle cx="224.2" cy="134.9" r="0.7"/><circle cx="248.7" cy="134.9" r="0.7"/><circle cx="234.2" cy="142.8" r="0.7"/><circle cx="227.7" cy="128.4" r="0.7"/><circle cx="237.5" cy="144.4" r="0.7"/><circle cx="230.5" cy="143.0" r="0.7"/><circle cx="219.4" cy="139.5" r="0.7"/><circle cx="225.1" cy="137.0" r="0.7"/><circle cx="238.5" cy="122.3" r="0.7"/><circle cx="229.5" cy="136.0" r="0.7"/><circle cx="217.7" cy="123.7" r="0.7"/><circle cx="242.8" cy="142.7" r="0.7"/><circle cx="227.0" cy="131.8" r="0.7"/><circle cx="233.8" cy="140.0" r="0.7"/><circle cx="234.2" cy="140.8" r="0.7"/><circle cx="239.6" cy="140.5" r="0.7"/><circle cx="226.1" cy="144.2" r="0.7"/><circle cx="230.8" cy="143.2" r="0.7"/><circle cx="226.1" cy="142.0" r="0.7"/><circle cx="225.5" cy="137.8" r="0.7"/><circle cx="233.6" cy="135.0" r="0.7"/><circle cx="226.0" cy="137.9" r="0.7"/><circle cx="235.7" cy="143.4" r="0.7"/><circle cx="239.3" cy="137.6" r="0.7"/><circle cx="238.1" cy="141.0" r="0.7"/><circle cx="193.7" cy="131.3" r="0.7"/><circle cx="238.5" cy="121.0" r="0.7"/><circle cx="220.3" cy="142.9" r="0.7"/><circle cx="235.7" cy="135.1" r="0.7"/><circle cx="245.0" cy="136.7" r="0.7"/><circle cx="223.2" cy="128.4" r="0.7"/><circle cx="227.3" cy="120.0" r="0.7"/><circle cx="211.9" cy="129.5" r="0.7"/><circle cx="230.7" cy="139.8" r="0.7"/><circle cx="238.5" cy="143.3" r="0.7"/><circle cx="235.0" cy="142.0" r="0.7"/><circle cx="219.9" cy="123.3" r="0.7"/><circle cx="226.8" cy="132.4" r="0.7"/><circle cx="239.5" cy="144.0" r="0.7"/><circle cx="233.4" cy="144.3" r="0.7"/><circle cx="211.7" cy="137.4" r="0.7"/><circle cx="236.6" cy="127.6" r="0.7"/><circle cx="215.5" cy="123.3" r="0.7"/><circle cx="240.8" cy="123.2" r="0.7"/><circle cx="236.9" cy="144.1" r="0.7"/><circle cx="242.6" cy="139.7" r="0.7"/><circle cx="229.4" cy="138.1" r="0.7"/><circle cx="233.9" cy="143.6" r="0.7"/><circle cx="224.7" cy="140.4" r="0.7"/><circle cx="223.6" cy="136.2" r="0.7"/><circle cx="220.5" cy="120.3" r="0.7"/><circle cx="221.3" cy="128.1" r="0.7"/><circle cx="226.3" cy="137.3" r="0.7"/><circle cx="240.0" cy="137.9" r="0.7"/><circle cx="240.2" cy="137.7" r="0.7"/><circle cx="231.4" cy="139.6" r="0.7"/><circle cx="231.2" cy="135.2" r="0.7"/><circle cx="228.8" cy="139.3" r="0.7"/><circle cx="236.7" cy="140.9" r="0.7"/><circle cx="224.8" cy="133.8" r="0.7"/><circle cx="245.0" cy="143.4" r="0.7"/><circle cx="223.7" cy="137.8" r="0.7"/><circle cx="204.9" cy="128.4" r="0.7"/><circle cx="238.3" cy="120.5" r="0.7"/><circle cx="223.7" cy="124.3" r="0.7"/><circle cx="205.8" cy="114.4" r="0.7"/><circle cx="234.0" cy="135.8" r="0.7"/><circle cx="229.9" cy="139.5" r="0.7"/><circle cx="229.3" cy="131.3" r="0.7"/><circle cx="241.1" cy="140.5" r="0.7"/><circle cx="236.1" cy="135.7" r="0.7"/><circle cx="238.1" cy="144.1" r="0.7"/><circle cx="224.6" cy="135.3" r="0.7"/><circle cx="227.0" cy="138.7" r="0.7"/><circle cx="214.4" cy="115.4" r="0.7"/><circle cx="241.6" cy="128.3" r="0.7"/><circle cx="217.3" cy="143.9" r="0.7"/><circle cx="247.9" cy="119.8" r="0.7"/><circle cx="227.3" cy="133.8" r="0.7"/><circle cx="225.9" cy="134.1" r="0.7"/><circle cx="225.7" cy="138.9" r="0.7"/><circle cx="220.0" cy="132.0" r="0.7"/><circle cx="228.9" cy="144.4" r="0.7"/><circle cx="223.3" cy="133.9" r="0.7"/><circle cx="219.3" cy="132.0" r="0.7"/><circle cx="237.6" cy="141.8" r="0.7"/><circle cx="197.3" cy="123.4" r="0.7"/><circle cx="231.1" cy="138.1" r="0.7"/><circle cx="229.0" cy="116.9" r="0.7"/><circle cx="213.4" cy="119.5" r="0.7"/><circle cx="223.6" cy="144.0" r="0.7"/><circle cx="240.5" cy="127.6" r="0.7"/><circle cx="251.3" cy="128.4" r="0.7"/><circle cx="235.8" cy="133.0" r="0.7"/><circle cx="235.9" cy="144.5" r="0.7"/><circle cx="243.9" cy="125.5" r="0.7"/><circle cx="231.7" cy="131.8" r="0.7"/><circle cx="218.5" cy="138.4" r="0.7"/><circle cx="236.7" cy="139.2" r="0.7"/><circle cx="228.8" cy="131.4" r="0.7"/><circle cx="244.6" cy="134.9" r="0.7"/><circle cx="234.8" cy="134.0" r="0.7"/><circle cx="232.8" cy="130.6" r="0.7"/><circle cx="243.6" cy="122.4" r="0.7"/><circle cx="208.6" cy="127.7" r="0.7"/><circle cx="233.7" cy="139.9" r="0.7"/><circle cx="228.4" cy="141.3" r="0.7"/><circle cx="241.8" cy="141.4" r="0.7"/><circle cx="245.8" cy="118.7" r="0.7"/><circle cx="237.0" cy="139.8" r="0.7"/><circle cx="215.1" cy="119.2" r="0.7"/><circle cx="213.9" cy="113.9" r="0.7"/><circle cx="236.0" cy="130.5" r="0.7"/><circle cx="244.7" cy="125.1" r="0.7"/><circle cx="237.2" cy="128.7" r="0.7"/><circle cx="230.0" cy="144.0" r="0.7"/><circle cx="226.6" cy="136.4" r="0.7"/><circle cx="225.6" cy="137.6" r="0.7"/><circle cx="218.0" cy="127.9" r="0.7"/><circle cx="234.3" cy="140.3" r="0.7"/><circle cx="227.5" cy="133.6" r="0.7"/><circle cx="235.6" cy="141.0" r="0.7"/><circle cx="246.1" cy="135.4" r="0.7"/><circle cx="227.2" cy="139.1" r="0.7"/><circle cx="249.0" cy="143.6" r="0.7"/><circle cx="230.9" cy="137.3" r="0.7"/><circle cx="227.6" cy="134.7" r="0.7"/><circle cx="241.4" cy="128.2" r="0.7"/><circle cx="213.3" cy="126.3" r="0.7"/><circle cx="221.4" cy="135.5" r="0.7"/><circle cx="205.1" cy="141.9" r="0.7"/><circle cx="221.9" cy="125.5" r="0.7"/><circle cx="233.2" cy="134.0" r="0.7"/><circle cx="226.9" cy="122.9" r="0.7"/><circle cx="226.8" cy="123.6" r="0.7"/><circle cx="226.3" cy="133.4" r="0.7"/><circle cx="241.9" cy="138.6" r="0.7"/><circle cx="231.2" cy="134.4" r="0.7"/><circle cx="227.9" cy="143.4" r="0.7"/><circle cx="223.8" cy="139.3" r="0.7"/><circle cx="205.9" cy="119.6" r="0.7"/><circle cx="227.2" cy="128.8" r="0.7"/><circle cx="227.9" cy="137.9" r="0.7"/><circle cx="226.7" cy="141.5" r="0.7"/><circle cx="238.6" cy="138.8" r="0.7"/><circle cx="222.8" cy="138.4" r="0.7"/><circle cx="241.2" cy="119.2" r="0.7"/><circle cx="220.0" cy="133.5" r="0.7"/><circle cx="251.1" cy="116.7" r="0.7"/><circle cx="240.8" cy="137.5" r="0.7"/><circle cx="219.2" cy="125.2" r="0.7"/><circle cx="226.8" cy="135.8" r="0.7"/><circle cx="247.5" cy="140.6" r="0.7"/><circle cx="221.4" cy="141.8" r="0.7"/><circle cx="222.3" cy="141.8" r="0.7"/><circle cx="224.5" cy="129.3" r="0.7"/><circle cx="261.9" cy="128.9" r="0.7"/><circle cx="240.7" cy="95.1" r="0.7"/><circle cx="223.6" cy="106.5" r="0.7"/><circle cx="238.7" cy="77.0" r="0.7"/><circle cx="224.5" cy="110.2" r="0.7"/><circle cx="221.2" cy="110.5" r="0.7"/><circle cx="221.9" cy="100.5" r="0.7"/><circle cx="239.1" cy="98.3" r="0.7"/><circle cx="244.1" cy="110.0" r="0.7"/><circle cx="230.1" cy="103.2" r="0.7"/><circle cx="245.0" cy="111.3" r="0.7"/><circle cx="222.9" cy="103.6" r="0.7"/><circle cx="220.8" cy="107.1" r="0.7"/><circle cx="237.3" cy="106.2" r="0.7"/><circle cx="228.3" cy="107.4" r="0.7"/><circle cx="220.9" cy="108.1" r="0.7"/><circle cx="229.0" cy="110.3" r="0.7"/><circle cx="222.7" cy="105.0" r="0.7"/><circle cx="237.0" cy="100.0" r="0.7"/><circle cx="219.4" cy="101.5" r="0.7"/><circle cx="222.2" cy="89.5" r="0.7"/><circle cx="240.9" cy="111.5" r="0.7"/><circle cx="220.5" cy="94.9" r="0.7"/><circle cx="237.8" cy="106.4" r="0.7"/><circle cx="227.9" cy="109.4" r="0.7"/><circle cx="243.0" cy="90.3" r="0.7"/><circle cx="224.1" cy="110.8" r="0.7"/><circle cx="227.9" cy="96.0" r="0.7"/><circle cx="223.4" cy="100.8" r="0.7"/><circle cx="245.4" cy="100.4" r="0.7"/><circle cx="245.1" cy="105.0" r="0.7"/><circle cx="221.2" cy="108.0" r="0.7"/><circle cx="223.9" cy="105.3" r="0.7"/><circle cx="223.9" cy="105.8" r="0.7"/><circle cx="220.4" cy="110.8" r="0.7"/><circle cx="242.2" cy="106.2" r="0.7"/><circle cx="228.1" cy="108.8" r="0.7"/><circle cx="223.4" cy="108.9" r="0.7"/><circle cx="241.6" cy="111.5" r="0.7"/><circle cx="219.4" cy="111.5" r="0.7"/><circle cx="245.5" cy="105.4" r="0.7"/><circle cx="240.4" cy="108.3" r="0.7"/><circle cx="242.6" cy="107.4" r="0.7"/><circle cx="223.1" cy="97.1" r="0.7"/><circle cx="228.2" cy="109.9" r="0.7"/><circle cx="220.7" cy="104.7" r="0.7"/><circle cx="240.8" cy="108.4" r="0.7"/><circle cx="236.6" cy="87.6" r="0.7"/><circle cx="240.0" cy="108.3" r="0.7"/><circle cx="244.2" cy="98.9" r="0.7"/><circle cx="221.0" cy="111.0" r="0.7"/><circle cx="242.2" cy="83.7" r="0.7"/><circle cx="235.1" cy="99.4" r="0.7"/><circle cx="242.5" cy="111.5" r="0.7"/><circle cx="241.0" cy="100.7" r="0.7"/><circle cx="245.2" cy="110.6" r="0.7"/><circle cx="241.2" cy="98.0" r="0.7"/><circle cx="223.8" cy="106.0" r="0.7"/><circle cx="225.1" cy="100.1" r="0.7"/><circle cx="227.8" cy="100.4" r="0.7"/><circle cx="242.2" cy="110.3" r="0.7"/><circle cx="225.2" cy="85.4" r="0.7"/><circle cx="245.2" cy="108.4" r="0.7"/><circle cx="222.9" cy="92.4" r="0.7"/><circle cx="220.1" cy="103.3" r="0.7"/><circle cx="223.9" cy="107.0" r="0.7"/><circle cx="245.3" cy="102.6" r="0.7"/><circle cx="240.6" cy="97.6" r="0.7"/><circle cx="221.1" cy="109.4" r="0.7"/><circle cx="238.5" cy="108.4" r="0.7"/><circle cx="224.8" cy="103.6" r="0.7"/><circle cx="240.6" cy="103.7" r="0.7"/><circle cx="240.3" cy="103.7" r="0.7"/><circle cx="219.3" cy="106.2" r="0.7"/><circle cx="238.9" cy="109.2" r="0.7"/><circle cx="242.4" cy="108.4" r="0.7"/><circle cx="220.5" cy="105.6" r="0.7"/><circle cx="241.1" cy="102.3" r="0.7"/><circle cx="245.6" cy="79.0" r="0.7"/><circle cx="223.4" cy="108.9" r="0.7"/><circle cx="236.9" cy="109.4" r="0.7"/><circle cx="235.5" cy="105.8" r="0.7"/><circle cx="242.2" cy="107.3" r="0.7"/><circle cx="219.6" cy="92.2" r="0.7"/><circle cx="236.8" cy="102.4" r="0.7"/><circle cx="226.6" cy="106.0" r="0.7"/><circle cx="237.2" cy="102.4" r="0.7"/><circle cx="245.1" cy="77.9" r="0.7"/><circle cx="240.4" cy="84.3" r="0.7"/><circle cx="239.6" cy="95.3" r="0.7"/><circle cx="239.3" cy="109.3" r="0.7"/><circle cx="222.9" cy="108.5" r="0.7"/><circle cx="225.9" cy="110.5" r="0.7"/><circle cx="225.6" cy="108.8" r="0.7"/><circle cx="223.2" cy="90.3" r="0.7"/><circle cx="220.2" cy="86.8" r="0.7"/><circle cx="242.2" cy="97.6" r="0.7"/><circle cx="243.2" cy="82.8" r="0.7"/><circle cx="239.2" cy="111.1" r="0.7"/><circle cx="240.4" cy="97.6" r="0.7"/><circle cx="223.7" cy="107.0" r="0.7"/><circle cx="245.4" cy="102.2" r="0.7"/><circle cx="240.2" cy="109.2" r="0.7"/><circle cx="237.1" cy="94.2" r="0.7"/><circle cx="236.4" cy="98.7" r="0.7"/><circle cx="222.6" cy="110.2" r="0.7"/><circle cx="239.8" cy="94.1" r="0.7"/><circle cx="221.8" cy="110.8" r="0.7"/><circle cx="222.6" cy="67.8" r="0.7"/><circle cx="244.7" cy="91.9" r="0.7"/><circle cx="236.5" cy="107.4" r="0.7"/><circle cx="223.0" cy="107.0" r="0.7"/><circle cx="226.6" cy="102.6" r="0.7"/><circle cx="223.4" cy="110.8" r="0.7"/><circle cx="222.7" cy="73.2" r="0.7"/><circle cx="237.5" cy="109.3" r="0.7"/><circle cx="221.5" cy="78.7" r="0.7"/><circle cx="245.4" cy="76.8" r="0.7"/><circle cx="245.3" cy="111.3" r="0.7"/><circle cx="222.4" cy="98.9" r="0.7"/><circle cx="242.8" cy="81.5" r="0.7"/><circle cx="223.1" cy="78.3" r="0.7"/><circle cx="227.9" cy="99.0" r="0.7"/><circle cx="235.2" cy="111.4" r="0.7"/><circle cx="243.4" cy="103.0" r="0.7"/><circle cx="244.0" cy="91.6" r="0.7"/><circle cx="228.7" cy="102.9" r="0.7"/><circle cx="244.6" cy="105.0" r="0.7"/><circle cx="224.8" cy="111.4" r="0.7"/><circle cx="239.2" cy="104.5" r="0.7"/><circle cx="240.1" cy="101.7" r="0.7"/><circle cx="226.1" cy="95.1" r="0.7"/><circle cx="227.3" cy="109.6" r="0.7"/><circle cx="220.8" cy="106.6" r="0.7"/><circle cx="221.9" cy="108.1" r="0.7"/><circle cx="239.1" cy="94.9" r="0.7"/><circle cx="226.1" cy="108.8" r="0.7"/><circle cx="221.3" cy="98.2" r="0.7"/><circle cx="242.1" cy="110.7" r="0.7"/><circle cx="239.0" cy="109.7" r="0.7"/><circle cx="219.3" cy="105.3" r="0.7"/><circle cx="227.5" cy="101.4" r="0.7"/><circle cx="240.1" cy="97.8" r="0.7"/><circle cx="225.5" cy="104.1" r="0.7"/><circle cx="241.5" cy="94.5" r="0.7"/><circle cx="223.3" cy="106.7" r="0.7"/><circle cx="219.8" cy="109.5" r="0.7"/><circle cx="220.1" cy="69.8" r="0.7"/><circle cx="240.2" cy="88.0" r="0.7"/><circle cx="221.4" cy="77.1" r="0.7"/><circle cx="227.5" cy="104.2" r="0.7"/><circle cx="243.7" cy="76.0" r="0.7"/><circle cx="224.5" cy="110.4" r="0.7"/><circle cx="219.6" cy="110.6" r="0.7"/><circle cx="224.8" cy="111.1" r="0.7"/><circle cx="226.8" cy="110.6" r="0.7"/><circle cx="242.1" cy="102.7" r="0.7"/><circle cx="242.0" cy="80.9" r="0.7"/><circle cx="226.3" cy="111.0" r="0.7"/><circle cx="221.0" cy="80.2" r="0.7"/><circle cx="237.9" cy="108.8" r="0.7"/><circle cx="239.6" cy="98.4" r="0.7"/><circle cx="241.4" cy="102.4" r="0.7"/><circle cx="241.4" cy="109.5" r="0.7"/><circle cx="245.6" cy="111.2" r="0.7"/><circle cx="240.8" cy="111.1" r="0.7"/><circle cx="226.9" cy="102.2" r="0.7"/><circle cx="230.0" cy="110.5" r="0.7"/><circle cx="241.7" cy="100.8" r="0.7"/><circle cx="226.8" cy="111.5" r="0.7"/><circle cx="229.3" cy="110.1" r="0.7"/><circle cx="240.4" cy="105.8" r="0.7"/><circle cx="239.9" cy="107.8" r="0.7"/><circle cx="242.5" cy="105.7" r="0.7"/><circle cx="241.4" cy="107.6" r="0.7"/><circle cx="238.9" cy="90.4" r="0.7"/><circle cx="244.9" cy="109.3" r="0.7"/><circle cx="245.7" cy="106.9" r="0.7"/><circle cx="221.3" cy="108.4" r="0.7"/><circle cx="237.8" cy="91.5" r="0.7"/><circle cx="228.2" cy="104.6" r="0.7"/><circle cx="222.7" cy="104.2" r="0.7"/><circle cx="241.9" cy="106.7" r="0.7"/><circle cx="223.3" cy="108.4" r="0.7"/><circle cx="242.9" cy="104.6" r="0.7"/><circle cx="223.3" cy="104.9" r="0.7"/><circle cx="245.6" cy="107.1" r="0.7"/><circle cx="228.4" cy="102.3" r="0.7"/><circle cx="220.5" cy="91.4" r="0.7"/><circle cx="219.9" cy="102.4" r="0.7"/><circle cx="222.7" cy="80.5" r="0.7"/><circle cx="223.4" cy="108.1" r="0.7"/><circle cx="241.8" cy="107.3" r="0.7"/><circle cx="226.4" cy="98.1" r="0.7"/><circle cx="245.6" cy="77.8" r="0.7"/><circle cx="244.3" cy="96.1" r="0.7"/><circle cx="244.3" cy="109.2" r="0.7"/><circle cx="239.7" cy="109.2" r="0.7"/><circle cx="235.1" cy="108.4" r="0.7"/><circle cx="220.8" cy="99.9" r="0.7"/><circle cx="245.3" cy="97.8" r="0.7"/><circle cx="221.8" cy="110.2" r="0.7"/><circle cx="244.9" cy="106.8" r="0.7"/><circle cx="221.5" cy="95.0" r="0.7"/><circle cx="242.9" cy="110.1" r="0.7"/><circle cx="236.1" cy="100.9" r="0.7"/><circle cx="244.2" cy="86.1" r="0.7"/><circle cx="245.4" cy="98.0" r="0.7"/><circle cx="224.4" cy="107.6" r="0.7"/><circle cx="227.1" cy="100.7" r="0.7"/><circle cx="221.9" cy="94.6" r="0.7"/><circle cx="241.9" cy="107.7" r="0.7"/><circle cx="226.7" cy="104.1" r="0.7"/><circle cx="245.4" cy="106.2" r="0.7"/><circle cx="245.2" cy="107.1" r="0.7"/><circle cx="242.8" cy="75.0" r="0.7"/><circle cx="240.1" cy="108.7" r="0.7"/><circle cx="241.6" cy="111.2" r="0.7"/><circle cx="242.1" cy="104.9" r="0.7"/><circle cx="239.1" cy="109.8" r="0.7"/><circle cx="239.0" cy="108.5" r="0.7"/><circle cx="229.1" cy="109.3" r="0.7"/><circle cx="245.4" cy="97.9" r="0.7"/><circle cx="224.2" cy="109.1" r="0.7"/><circle cx="219.5" cy="109.8" r="0.7"/><circle cx="221.6" cy="94.9" r="0.7"/><circle cx="243.0" cy="80.1" r="0.7"/><circle cx="239.1" cy="105.4" r="0.7"/><circle cx="242.0" cy="109.4" r="0.7"/><circle cx="236.0" cy="110.7" r="0.7"/><circle cx="239.4" cy="101.2" r="0.7"/><circle cx="239.9" cy="99.0" r="0.7"/><circle cx="243.6" cy="104.4" r="0.7"/><circle cx="228.0" cy="107.6" r="0.7"/><circle cx="245.0" cy="110.8" r="0.7"/><circle cx="225.7" cy="102.0" r="0.7"/><circle cx="227.6" cy="108.0" r="0.7"/><circle cx="243.9" cy="105.4" r="0.7"/><circle cx="243.4" cy="100.5" r="0.7"/><circle cx="221.4" cy="110.0" r="0.7"/><circle cx="223.5" cy="111.4" r="0.7"/><circle cx="224.3" cy="105.7" r="0.7"/><circle cx="219.5" cy="85.9" r="0.7"/><circle cx="222.4" cy="107.4" r="0.7"/><circle cx="237.2" cy="109.3" r="0.7"/><circle cx="220.2" cy="102.4" r="0.7"/><circle cx="224.2" cy="91.2" r="0.7"/><circle cx="220.8" cy="96.4" r="0.7"/><circle cx="224.6" cy="106.4" r="0.7"/><circle cx="225.1" cy="103.2" r="0.7"/><circle cx="225.3" cy="99.0" r="0.7"/><circle cx="223.5" cy="90.4" r="0.7"/><circle cx="224.5" cy="90.7" r="0.7"/><circle cx="244.2" cy="105.3" r="0.7"/><circle cx="243.8" cy="107.4" r="0.7"/><circle cx="245.4" cy="97.3" r="0.7"/><circle cx="241.1" cy="101.3" r="0.7"/><circle cx="220.9" cy="102.1" r="0.7"/><circle cx="240.1" cy="100.6" r="0.7"/><circle cx="224.1" cy="97.8" r="0.7"/><circle cx="222.2" cy="108.8" r="0.7"/><circle cx="219.2" cy="108.6" r="0.7"/><circle cx="236.1" cy="106.9" r="0.7"/><circle cx="244.6" cy="105.3" r="0.7"/><circle cx="243.6" cy="94.6" r="0.7"/><circle cx="242.5" cy="108.4" r="0.7"/><circle cx="242.3" cy="103.2" r="0.7"/><circle cx="237.5" cy="101.7" r="0.7"/><circle cx="221.3" cy="75.8" r="0.7"/><circle cx="222.6" cy="103.5" r="0.7"/><circle cx="227.0" cy="104.8" r="0.7"/><circle cx="243.2" cy="107.7" r="0.7"/><circle cx="241.0" cy="110.1" r="0.7"/><circle cx="241.4" cy="104.1" r="0.7"/><circle cx="242.4" cy="78.6" r="0.7"/><circle cx="221.0" cy="110.6" r="0.7"/><circle cx="221.6" cy="97.9" r="0.7"/><circle cx="240.6" cy="108.6" r="0.7"/><circle cx="222.9" cy="111.3" r="0.7"/><circle cx="221.8" cy="109.7" r="0.7"/><circle cx="220.1" cy="76.6" r="0.7"/><circle cx="226.9" cy="110.7" r="0.7"/><circle cx="220.7" cy="94.9" r="0.7"/><circle cx="223.4" cy="99.5" r="0.7"/><circle cx="220.5" cy="86.9" r="0.7"/><circle cx="221.5" cy="97.5" r="0.7"/><circle cx="220.1" cy="108.4" r="0.7"/><circle cx="225.2" cy="106.6" r="0.7"/><circle cx="242.4" cy="101.5" r="0.7"/><circle cx="238.7" cy="109.7" r="0.7"/><circle cx="237.7" cy="89.2" r="0.7"/><circle cx="223.8" cy="106.1" r="0.7"/><circle cx="245.2" cy="96.7" r="0.7"/><circle cx="224.7" cy="100.6" r="0.7"/><circle cx="220.1" cy="84.9" r="0.7"/><circle cx="224.6" cy="109.2" r="0.7"/><circle cx="235.8" cy="105.5" r="0.7"/><circle cx="220.4" cy="101.6" r="0.7"/><circle cx="236.8" cy="111.3" r="0.7"/><circle cx="219.3" cy="99.1" r="0.7"/><circle cx="236.2" cy="111.0" r="0.7"/><circle cx="221.5" cy="109.3" r="0.7"/><circle cx="221.8" cy="97.9" r="0.7"/><circle cx="223.6" cy="108.2" r="0.7"/><circle cx="240.3" cy="107.6" r="0.7"/><circle cx="225.4" cy="109.1" r="0.7"/><circle cx="225.2" cy="103.9" r="0.7"/><circle cx="227.9" cy="100.0" r="0.7"/><circle cx="223.1" cy="107.7" r="0.7"/><circle cx="243.9" cy="99.8" r="0.7"/><circle cx="243.4" cy="103.5" r="0.7"/><circle cx="224.3" cy="105.1" r="0.7"/><circle cx="223.0" cy="103.6" r="0.7"/><circle cx="245.0" cy="108.3" r="0.7"/><circle cx="225.3" cy="111.3" r="0.7"/><circle cx="242.8" cy="107.8" r="0.7"/><circle cx="220.2" cy="88.3" r="0.7"/><circle cx="243.4" cy="95.6" r="0.7"/><circle cx="224.3" cy="104.1" r="0.7"/><circle cx="245.7" cy="77.6" r="0.7"/><circle cx="236.4" cy="110.0" r="0.7"/><circle cx="242.2" cy="103.9" r="0.7"/><circle cx="220.2" cy="102.2" r="0.7"/><circle cx="236.4" cy="83.5" r="0.7"/><circle cx="227.3" cy="108.3" r="0.7"/><circle cx="237.1" cy="106.5" r="0.7"/><circle cx="241.1" cy="97.7" r="0.7"/><circle cx="242.5" cy="109.5" r="0.7"/><circle cx="219.9" cy="96.9" r="0.7"/><circle cx="223.8" cy="103.9" r="0.7"/><circle cx="222.5" cy="100.8" r="0.7"/><circle cx="226.3" cy="103.5" r="0.7"/><circle cx="228.6" cy="103.6" r="0.7"/><circle cx="219.5" cy="100.6" r="0.7"/><circle cx="222.0" cy="108.2" r="0.7"/><circle cx="243.7" cy="94.7" r="0.7"/><circle cx="229.5" cy="103.9" r="0.7"/><circle cx="226.5" cy="111.4" r="0.7"/><circle cx="223.5" cy="79.9" r="0.7"/><circle cx="225.8" cy="97.5" r="0.7"/><circle cx="222.0" cy="100.8" r="0.7"/><circle cx="235.7" cy="107.4" r="0.7"/><circle cx="220.5" cy="107.9" r="0.7"/><circle cx="238.2" cy="106.7" r="0.7"/><circle cx="239.0" cy="109.0" r="0.7"/><circle cx="243.3" cy="110.8" r="0.7"/><circle cx="226.1" cy="108.9" r="0.7"/><circle cx="243.5" cy="65.8" r="0.7"/><circle cx="242.9" cy="106.2" r="0.7"/><circle cx="241.7" cy="111.0" r="0.7"/><circle cx="224.4" cy="104.6" r="0.7"/><circle cx="229.7" cy="92.7" r="0.7"/><circle cx="225.0" cy="110.2" r="0.7"/><circle cx="245.2" cy="109.0" r="0.7"/><circle cx="241.7" cy="96.8" r="0.7"/><circle cx="238.9" cy="109.9" r="0.7"/><circle cx="236.5" cy="100.3" r="0.7"/><circle cx="226.7" cy="107.0" r="0.7"/><circle cx="242.8" cy="96.3" r="0.7"/><circle cx="243.7" cy="110.9" r="0.7"/><circle cx="237.7" cy="110.4" r="0.7"/><circle cx="229.7" cy="101.9" r="0.7"/><circle cx="228.4" cy="111.3" r="0.7"/><circle cx="242.7" cy="84.3" r="0.7"/><circle cx="227.9" cy="109.5" r="0.7"/><circle cx="227.9" cy="110.2" r="0.7"/><circle cx="238.0" cy="110.3" r="0.7"/><circle cx="240.5" cy="110.1" r="0.7"/><circle cx="241.8" cy="106.5" r="0.7"/><circle cx="229.4" cy="106.9" r="0.7"/><circle cx="224.9" cy="111.5" r="0.7"/><circle cx="242.5" cy="106.2" r="0.7"/><circle cx="245.4" cy="109.7" r="0.7"/><circle cx="221.4" cy="106.1" r="0.7"/><circle cx="245.1" cy="111.0" r="0.7"/><circle cx="225.4" cy="100.0" r="0.7"/><circle cx="243.5" cy="81.2" r="0.7"/><circle cx="224.3" cy="93.7" r="0.7"/><circle cx="237.1" cy="87.4" r="0.7"/><circle cx="244.8" cy="105.8" r="0.7"/><circle cx="245.5" cy="80.9" r="0.7"/><circle cx="243.1" cy="74.7" r="0.7"/><circle cx="224.2" cy="103.8" r="0.7"/><circle cx="220.8" cy="110.8" r="0.7"/><circle cx="239.4" cy="108.4" r="0.7"/><circle cx="238.3" cy="107.3" r="0.7"/><circle cx="245.7" cy="107.4" r="0.7"/><circle cx="221.5" cy="109.1" r="0.7"/><circle cx="238.4" cy="105.6" r="0.7"/><circle cx="230.9" cy="111.6" r="0.7"/><circle cx="225.0" cy="108.8" r="0.7"/><circle cx="243.0" cy="110.8" r="0.7"/><circle cx="238.9" cy="106.5" r="0.7"/><circle cx="244.7" cy="76.5" r="0.7"/><circle cx="225.1" cy="107.2" r="0.7"/><circle cx="221.2" cy="104.1" r="0.7"/><circle cx="237.7" cy="101.3" r="0.7"/><circle cx="238.5" cy="104.5" r="0.7"/><circle cx="229.5" cy="109.0" r="0.7"/><circle cx="221.2" cy="101.4" r="0.7"/><circle cx="245.6" cy="110.8" r="0.7"/><circle cx="229.5" cy="108.6" r="0.7"/><circle cx="243.4" cy="102.4" r="0.7"/><circle cx="240.5" cy="110.5" r="0.7"/><circle cx="235.2" cy="110.4" r="0.7"/><circle cx="227.1" cy="111.1" r="0.7"/><circle cx="237.4" cy="105.6" r="0.7"/><circle cx="240.2" cy="110.4" r="0.7"/><circle cx="243.7" cy="85.9" r="0.7"/><circle cx="242.5" cy="90.0" r="0.7"/><circle cx="245.6" cy="107.0" r="0.7"/><circle cx="242.9" cy="104.5" r="0.7"/><circle cx="223.5" cy="108.5" r="0.7"/><circle cx="241.8" cy="104.2" r="0.7"/><circle cx="227.6" cy="105.5" r="0.7"/><circle cx="245.7" cy="90.1" r="0.7"/><circle cx="223.7" cy="104.6" r="0.7"/><circle cx="240.7" cy="88.0" r="0.7"/><circle cx="226.9" cy="109.1" r="0.7"/><circle cx="233.1" cy="109.9" r="0.7"/><circle cx="234.2" cy="109.6" r="0.7"/><circle cx="232.5" cy="111.3" r="0.7"/><circle cx="231.1" cy="111.0" r="0.7"/><circle cx="229.6" cy="109.5" r="0.7"/><circle cx="224.9" cy="109.3" r="0.7"/><circle cx="226.8" cy="110.2" r="0.7"/><circle cx="224.6" cy="110.7" r="0.7"/><circle cx="241.2" cy="111.5" r="0.7"/><circle cx="237.3" cy="111.0" r="0.7"/><circle cx="228.3" cy="111.0" r="0.7"/><circle cx="239.7" cy="111.3" r="0.7"/><circle cx="226.6" cy="107.3" r="0.7"/><circle cx="233.9" cy="108.0" r="0.7"/><circle cx="238.4" cy="111.4" r="0.7"/><circle cx="237.2" cy="111.0" r="0.7"/><circle cx="230.5" cy="105.8" r="0.7"/><circle cx="233.7" cy="107.6" r="0.7"/><circle cx="233.5" cy="109.2" r="0.7"/><circle cx="240.5" cy="110.7" r="0.7"/><circle cx="226.7" cy="111.4" r="0.7"/><circle cx="227.5" cy="110.2" r="0.7"/><circle cx="228.7" cy="102.1" r="0.7"/><circle cx="234.6" cy="111.3" r="0.7"/><circle cx="240.3" cy="101.8" r="0.7"/><circle cx="239.9" cy="110.1" r="0.7"/><circle cx="230.0" cy="106.7" r="0.7"/><circle cx="240.7" cy="111.4" r="0.7"/><circle cx="226.8" cy="108.9" r="0.7"/><circle cx="237.0" cy="100.2" r="0.7"/><circle cx="237.9" cy="104.0" r="0.7"/><circle cx="232.6" cy="110.1" r="0.7"/><circle cx="239.6" cy="110.9" r="0.7"/><circle cx="232.1" cy="110.0" r="0.7"/><circle cx="223.1" cy="109.5" r="0.7"/><circle cx="229.5" cy="109.2" r="0.7"/><circle cx="224.0" cy="111.1" r="0.7"/><circle cx="235.3" cy="104.9" r="0.7"/><circle cx="234.4" cy="109.0" r="0.7"/><circle cx="229.2" cy="109.8" r="0.7"/><circle cx="228.3" cy="110.8" r="0.7"/><circle cx="240.0" cy="111.1" r="0.7"/><circle cx="231.3" cy="107.0" r="0.7"/><circle cx="226.2" cy="106.0" r="0.7"/><circle cx="228.0" cy="108.0" r="0.7"/><circle cx="243.1" cy="109.6" r="0.7"/><circle cx="222.1" cy="107.6" r="0.7"/><circle cx="228.4" cy="109.8" r="0.7"/><circle cx="236.6" cy="107.6" r="0.7"/><circle cx="229.4" cy="104.4" r="0.7"/><circle cx="236.7" cy="105.5" r="0.7"/><circle cx="227.7" cy="109.7" r="0.7"/><circle cx="222.9" cy="107.7" r="0.7"/><circle cx="232.5" cy="111.2" r="0.7"/><circle cx="237.4" cy="105.5" r="0.7"/><circle cx="236.7" cy="109.8" r="0.7"/><circle cx="230.2" cy="111.1" r="0.7"/><circle cx="237.5" cy="103.1" r="0.7"/><circle cx="238.7" cy="111.2" r="0.7"/><circle cx="232.2" cy="110.6" r="0.7"/><circle cx="241.9" cy="103.6" r="0.7"/><circle cx="228.7" cy="110.7" r="0.7"/><circle cx="237.6" cy="110.3" r="0.7"/><circle cx="228.5" cy="106.6" r="0.7"/><circle cx="234.6" cy="111.5" r="0.7"/><circle cx="226.0" cy="110.1" r="0.7"/><circle cx="224.8" cy="110.8" r="0.7"/><circle cx="234.1" cy="105.6" r="0.7"/><circle cx="234.0" cy="108.1" r="0.7"/><circle cx="238.6" cy="108.1" r="0.7"/><circle cx="233.1" cy="110.1" r="0.7"/><circle cx="238.2" cy="109.9" r="0.7"/><circle cx="233.8" cy="97.9" r="0.7"/><circle cx="224.4" cy="103.9" r="0.7"/><circle cx="242.3" cy="108.3" r="0.7"/><circle cx="239.6" cy="111.2" r="0.7"/><circle cx="239.7" cy="108.5" r="0.7"/><circle cx="234.5" cy="109.6" r="0.7"/><circle cx="233.9" cy="110.9" r="0.7"/><circle cx="239.8" cy="102.9" r="0.7"/><circle cx="232.1" cy="99.6" r="0.7"/><circle cx="232.9" cy="109.1" r="0.7"/><circle cx="224.4" cy="105.9" r="0.7"/><circle cx="230.9" cy="108.7" r="0.7"/><circle cx="229.6" cy="109.5" r="0.7"/><circle cx="223.7" cy="107.1" r="0.7"/><circle cx="231.6" cy="108.4" r="0.7"/><circle cx="235.0" cy="111.2" r="0.7"/><circle cx="222.4" cy="111.0" r="0.7"/><circle cx="235.7" cy="99.4" r="0.7"/><circle cx="233.5" cy="110.2" r="0.7"/><circle cx="226.7" cy="108.4" r="0.7"/><circle cx="234.8" cy="110.3" r="0.7"/><circle cx="233.4" cy="104.5" r="0.7"/><circle cx="227.6" cy="105.4" r="0.7"/><circle cx="239.6" cy="111.2" r="0.7"/><circle cx="232.6" cy="103.4" r="0.7"/><circle cx="236.5" cy="106.0" r="0.7"/><circle cx="234.4" cy="108.2" r="0.7"/><circle cx="229.6" cy="108.8" r="0.7"/><circle cx="227.5" cy="110.7" r="0.7"/><circle cx="228.3" cy="107.3" r="0.7"/><circle cx="233.5" cy="111.1" r="0.7"/><circle cx="234.9" cy="108.7" r="0.7"/><circle cx="235.3" cy="108.3" r="0.7"/><circle cx="232.8" cy="109.8" r="0.7"/><circle cx="238.2" cy="97.2" r="0.7"/><circle cx="241.3" cy="110.8" r="0.7"/><circle cx="232.9" cy="101.0" r="0.7"/><circle cx="222.2" cy="110.7" r="0.7"/><circle cx="234.9" cy="110.6" r="0.7"/><circle cx="234.8" cy="102.8" r="0.7"/><circle cx="237.9" cy="111.1" r="0.7"/><circle cx="229.1" cy="109.9" r="0.7"/><circle cx="232.9" cy="106.7" r="0.7"/><circle cx="240.6" cy="105.9" r="0.7"/><circle cx="226.8" cy="109.2" r="0.7"/><circle cx="234.9" cy="109.8" r="0.7"/><circle cx="203.2" cy="137.2" r="0.7"/><circle cx="240.1" cy="142.0" r="0.7"/><circle cx="250.4" cy="144.2" r="0.7"/><circle cx="237.2" cy="143.5" r="0.7"/><circle cx="266.7" cy="144.3" r="0.7"/><circle cx="218.5" cy="141.0" r="0.7"/><circle cx="248.9" cy="134.4" r="0.7"/><circle cx="251.7" cy="144.0" r="0.7"/><circle cx="265.0" cy="139.3" r="0.7"/><circle cx="235.0" cy="142.5" r="0.7"/><circle cx="238.2" cy="126.6" r="0.7"/><circle cx="247.6" cy="140.3" r="0.7"/><circle cx="218.2" cy="138.0" r="0.7"/><circle cx="249.3" cy="120.9" r="0.7"/><circle cx="191.9" cy="139.5" r="0.7"/><circle cx="202.4" cy="138.3" r="0.7"/><circle cx="235.2" cy="140.4" r="0.7"/><circle cx="222.4" cy="126.5" r="0.7"/><circle cx="243.8" cy="130.6" r="0.7"/><circle cx="271.9" cy="144.1" r="0.7"/><circle cx="226.4" cy="126.8" r="0.7"/><circle cx="251.5" cy="142.7" r="0.7"/><circle cx="232.7" cy="142.1" r="0.7"/><circle cx="263.6" cy="144.5" r="0.7"/><circle cx="210.8" cy="137.4" r="0.7"/><circle cx="244.7" cy="144.4" r="0.7"/><circle cx="223.7" cy="138.7" r="0.7"/><circle cx="216.0" cy="144.2" r="0.7"/><circle cx="227.0" cy="144.5" r="0.7"/><circle cx="247.6" cy="144.3" r="0.7"/><circle cx="245.2" cy="137.2" r="0.7"/><circle cx="219.0" cy="144.5" r="0.7"/><circle cx="237.3" cy="139.2" r="0.7"/><circle cx="207.4" cy="132.6" r="0.7"/><circle cx="241.6" cy="124.0" r="0.7"/><circle cx="195.9" cy="134.7" r="0.7"/><circle cx="206.6" cy="130.9" r="0.7"/><circle cx="226.4" cy="143.2" r="0.7"/><circle cx="232.1" cy="127.3" r="0.7"/><circle cx="204.7" cy="143.9" r="0.7"/><circle cx="198.0" cy="141.7" r="0.7"/><circle cx="265.5" cy="141.1" r="0.7"/><circle cx="199.9" cy="136.0" r="0.7"/><circle cx="234.0" cy="144.5" r="0.7"/><circle cx="227.6" cy="137.8" r="0.7"/><circle cx="191.7" cy="142.8" r="0.7"/><circle cx="231.0" cy="128.9" r="0.7"/><circle cx="224.9" cy="144.1" r="0.7"/><circle cx="227.0" cy="118.3" r="0.7"/><circle cx="239.6" cy="142.8" r="0.7"/><circle cx="227.5" cy="143.4" r="0.7"/><circle cx="260.8" cy="138.4" r="0.7"/><circle cx="207.6" cy="116.8" r="0.7"/><circle cx="242.3" cy="120.7" r="0.7"/><circle cx="233.8" cy="135.2" r="0.7"/><circle cx="246.3" cy="137.9" r="0.7"/><circle cx="248.7" cy="144.5" r="0.7"/><circle cx="230.9" cy="139.7" r="0.7"/><circle cx="234.9" cy="142.8" r="0.7"/><circle cx="227.0" cy="122.2" r="0.7"/><circle cx="231.0" cy="114.8" r="0.7"/><circle cx="240.9" cy="133.8" r="0.7"/><circle cx="231.1" cy="140.2" r="0.7"/><circle cx="198.3" cy="133.6" r="0.7"/><circle cx="219.2" cy="140.1" r="0.7"/><circle cx="256.8" cy="143.1" r="0.7"/><circle cx="278.3" cy="119.9" r="0.7"/><circle cx="220.0" cy="122.5" r="0.7"/><circle cx="224.8" cy="125.2" r="0.7"/><circle cx="228.7" cy="143.4" r="0.7"/><circle cx="172.0" cy="125.0" r="0.7"/><circle cx="180.0" cy="130.0" r="0.7"/><circle cx="186.0" cy="120.0" r="0.7"/><circle cx="277.0" cy="128.0" r="0.7"/><circle cx="284.0" cy="124.0" r="0.7"/><circle cx="290.0" cy="131.0" r="0.7"/><circle cx="265.0" cy="118.0" r="0.7"/><circle cx="196.0" cy="123.0" r="0.7"/><circle cx="200.0" cy="117.0" r="0.7"/><circle cx="195.0" cy="50.0" r="0.7"/><circle cx="228.0" cy="40.0" r="0.7"/><circle cx="250.0" cy="110.0" r="0.7"/><circle cx="262.0" cy="132.0" r="0.7"/><circle cx="180.0" cy="140.0" r="0.7"/></g>
<path d="M231.3 113.5 L232.3 113.5 L232.20000000000002 134 L231.4 134 Z" fill="#fff" opacity="0.7"/>
<path d="M209 105 L218 102 L218.5 111.5 L208 111.5 Z" fill="#7ab8e6" opacity="0.4" filter="url(#vb)"/>
<path d="M245.5 100 L257 103 L258 111.5 L245.5 111.5 Z" fill="#f3b45a" opacity="0.4" filter="url(#vb)"/>
<g fill="#4d9fd8" opacity="0.9"><circle cx="217.9" cy="110.8" r="0.7"/><circle cx="214.1" cy="105.2" r="0.7"/><circle cx="211.7" cy="67.3" r="0.7"/><circle cx="211.4" cy="105.7" r="0.7"/><circle cx="216.5" cy="103.5" r="0.7"/><circle cx="218.5" cy="109.0" r="0.7"/><circle cx="216.3" cy="110.5" r="0.7"/><circle cx="211.9" cy="68.4" r="0.7"/><circle cx="212.5" cy="110.7" r="0.7"/><circle cx="217.8" cy="103.9" r="0.7"/><circle cx="211.8" cy="104.5" r="0.7"/><circle cx="209.1" cy="107.2" r="0.7"/><circle cx="214.0" cy="103.9" r="0.7"/><circle cx="212.5" cy="110.9" r="0.7"/><circle cx="210.4" cy="100.1" r="0.7"/><circle cx="210.9" cy="100.1" r="0.7"/><circle cx="209.7" cy="110.9" r="0.7"/><circle cx="208.8" cy="111.1" r="0.7"/><circle cx="211.7" cy="107.7" r="0.7"/><circle cx="212.6" cy="108.8" r="0.7"/><circle cx="215.2" cy="107.9" r="0.7"/><circle cx="218.4" cy="111.1" r="0.7"/><circle cx="215.6" cy="104.8" r="0.7"/><circle cx="217.9" cy="111.1" r="0.7"/><circle cx="210.5" cy="110.5" r="0.7"/><circle cx="211.2" cy="97.3" r="0.7"/><circle cx="211.2" cy="102.6" r="0.7"/><circle cx="212.9" cy="97.4" r="0.7"/><circle cx="217.2" cy="105.0" r="0.7"/><circle cx="214.7" cy="81.4" r="0.7"/><circle cx="216.0" cy="110.6" r="0.7"/><circle cx="212.0" cy="106.9" r="0.7"/><circle cx="209.8" cy="107.8" r="0.7"/><circle cx="212.8" cy="105.3" r="0.7"/><circle cx="209.2" cy="105.4" r="0.7"/><circle cx="210.7" cy="66.9" r="0.7"/><circle cx="210.5" cy="75.3" r="0.7"/><circle cx="218.1" cy="111.4" r="0.7"/><circle cx="211.9" cy="104.9" r="0.7"/><circle cx="210.9" cy="105.6" r="0.7"/><circle cx="213.3" cy="110.8" r="0.7"/><circle cx="210.9" cy="107.0" r="0.7"/><circle cx="218.5" cy="102.5" r="0.7"/><circle cx="217.9" cy="107.3" r="0.7"/><circle cx="212.5" cy="101.5" r="0.7"/><circle cx="216.3" cy="100.7" r="0.7"/><circle cx="213.7" cy="106.9" r="0.7"/><circle cx="210.4" cy="109.0" r="0.7"/><circle cx="218.2" cy="72.5" r="0.7"/><circle cx="216.2" cy="104.4" r="0.7"/><circle cx="211.4" cy="111.5" r="0.7"/><circle cx="209.5" cy="108.3" r="0.7"/><circle cx="214.9" cy="109.8" r="0.7"/><circle cx="209.9" cy="110.5" r="0.7"/><circle cx="215.0" cy="109.9" r="0.7"/><circle cx="217.6" cy="105.9" r="0.7"/><circle cx="214.2" cy="110.0" r="0.7"/><circle cx="214.6" cy="107.5" r="0.7"/><circle cx="213.1" cy="103.0" r="0.7"/><circle cx="216.3" cy="88.8" r="0.7"/><circle cx="215.7" cy="109.3" r="0.7"/><circle cx="218.0" cy="70.4" r="0.7"/><circle cx="210.2" cy="107.5" r="0.7"/><circle cx="211.4" cy="107.8" r="0.7"/><circle cx="218.5" cy="109.9" r="0.7"/><circle cx="213.8" cy="82.2" r="0.7"/><circle cx="217.2" cy="106.6" r="0.7"/><circle cx="210.4" cy="92.9" r="0.7"/><circle cx="217.1" cy="110.2" r="0.7"/><circle cx="210.6" cy="111.5" r="0.7"/><circle cx="210.3" cy="106.8" r="0.7"/><circle cx="217.9" cy="102.7" r="0.7"/><circle cx="208.8" cy="110.1" r="0.7"/><circle cx="211.1" cy="105.8" r="0.7"/><circle cx="215.8" cy="110.1" r="0.7"/><circle cx="213.5" cy="85.6" r="0.7"/><circle cx="217.9" cy="109.4" r="0.7"/><circle cx="211.3" cy="111.0" r="0.7"/><circle cx="214.2" cy="102.3" r="0.7"/><circle cx="217.1" cy="108.2" r="0.7"/><circle cx="217.3" cy="70.7" r="0.7"/><circle cx="212.5" cy="108.8" r="0.7"/><circle cx="216.9" cy="109.8" r="0.7"/><circle cx="212.3" cy="92.4" r="0.7"/><circle cx="214.3" cy="104.1" r="0.7"/><circle cx="218.0" cy="100.5" r="0.7"/><circle cx="209.4" cy="109.3" r="0.7"/><circle cx="210.6" cy="107.9" r="0.7"/><circle cx="218.3" cy="107.8" r="0.7"/><circle cx="211.2" cy="109.6" r="0.7"/><circle cx="215.7" cy="111.3" r="0.7"/><circle cx="209.8" cy="107.3" r="0.7"/><circle cx="212.8" cy="111.2" r="0.7"/><circle cx="218.1" cy="103.5" r="0.7"/><circle cx="217.5" cy="111.1" r="0.7"/><circle cx="214.9" cy="108.5" r="0.7"/><circle cx="210.3" cy="104.0" r="0.7"/><circle cx="212.8" cy="110.6" r="0.7"/><circle cx="212.9" cy="111.4" r="0.7"/><circle cx="216.3" cy="87.7" r="0.7"/><circle cx="214.2" cy="107.6" r="0.7"/><circle cx="213.1" cy="105.8" r="0.7"/><circle cx="213.1" cy="111.3" r="0.7"/><circle cx="209.2" cy="108.7" r="0.7"/><circle cx="213.4" cy="108.2" r="0.7"/><circle cx="216.3" cy="110.6" r="0.7"/><circle cx="216.6" cy="77.9" r="0.7"/><circle cx="212.6" cy="108.3" r="0.7"/><circle cx="212.5" cy="109.8" r="0.7"/><circle cx="211.3" cy="105.6" r="0.7"/><circle cx="212.5" cy="102.5" r="0.7"/><circle cx="214.3" cy="108.7" r="0.7"/><circle cx="216.7" cy="96.4" r="0.7"/><circle cx="212.4" cy="107.1" r="0.7"/><circle cx="218.3" cy="104.1" r="0.7"/><circle cx="214.2" cy="106.8" r="0.7"/><circle cx="212.3" cy="103.7" r="0.7"/><circle cx="211.9" cy="109.1" r="0.7"/><circle cx="209.0" cy="108.2" r="0.7"/><circle cx="216.9" cy="111.2" r="0.7"/></g>
<g fill="#f0a030" opacity="0.9"><circle cx="254.3" cy="108.3" r="0.7"/><circle cx="256.0" cy="70.9" r="0.7"/><circle cx="256.6" cy="104.0" r="0.7"/><circle cx="250.0" cy="109.0" r="0.7"/><circle cx="247.2" cy="105.5" r="0.7"/><circle cx="252.9" cy="110.0" r="0.7"/><circle cx="252.9" cy="110.6" r="0.7"/><circle cx="253.5" cy="104.6" r="0.7"/><circle cx="247.7" cy="110.9" r="0.7"/><circle cx="249.0" cy="105.6" r="0.7"/><circle cx="255.3" cy="110.2" r="0.7"/><circle cx="249.8" cy="107.7" r="0.7"/><circle cx="251.0" cy="109.8" r="0.7"/><circle cx="256.2" cy="107.6" r="0.7"/><circle cx="252.7" cy="104.6" r="0.7"/><circle cx="254.6" cy="75.4" r="0.7"/><circle cx="246.0" cy="101.8" r="0.7"/><circle cx="247.9" cy="108.2" r="0.7"/><circle cx="246.0" cy="99.9" r="0.7"/><circle cx="251.6" cy="110.8" r="0.7"/><circle cx="256.0" cy="101.2" r="0.7"/><circle cx="250.2" cy="105.0" r="0.7"/><circle cx="256.8" cy="107.9" r="0.7"/><circle cx="249.1" cy="111.2" r="0.7"/><circle cx="248.7" cy="109.0" r="0.7"/><circle cx="254.0" cy="105.5" r="0.7"/><circle cx="257.6" cy="102.2" r="0.7"/><circle cx="247.9" cy="72.4" r="0.7"/><circle cx="247.0" cy="109.3" r="0.7"/><circle cx="248.9" cy="111.1" r="0.7"/><circle cx="247.6" cy="103.8" r="0.7"/><circle cx="252.2" cy="95.2" r="0.7"/><circle cx="255.1" cy="106.9" r="0.7"/><circle cx="251.8" cy="81.9" r="0.7"/><circle cx="249.2" cy="106.0" r="0.7"/><circle cx="251.2" cy="109.5" r="0.7"/><circle cx="250.6" cy="105.8" r="0.7"/><circle cx="249.6" cy="105.8" r="0.7"/><circle cx="250.5" cy="111.5" r="0.7"/><circle cx="247.6" cy="110.9" r="0.7"/><circle cx="250.6" cy="111.5" r="0.7"/><circle cx="250.9" cy="104.0" r="0.7"/><circle cx="247.0" cy="107.3" r="0.7"/><circle cx="251.5" cy="111.4" r="0.7"/><circle cx="253.3" cy="107.8" r="0.7"/><circle cx="256.6" cy="108.9" r="0.7"/><circle cx="246.0" cy="83.5" r="0.7"/><circle cx="246.6" cy="103.4" r="0.7"/><circle cx="254.9" cy="110.9" r="0.7"/><circle cx="252.0" cy="102.5" r="0.7"/><circle cx="248.0" cy="104.1" r="0.7"/><circle cx="252.5" cy="110.4" r="0.7"/><circle cx="255.8" cy="100.3" r="0.7"/><circle cx="255.0" cy="109.3" r="0.7"/><circle cx="248.7" cy="105.0" r="0.7"/><circle cx="252.3" cy="106.6" r="0.7"/><circle cx="248.6" cy="108.7" r="0.7"/><circle cx="249.5" cy="103.4" r="0.7"/><circle cx="253.3" cy="111.2" r="0.7"/><circle cx="257.4" cy="102.0" r="0.7"/><circle cx="253.6" cy="107.5" r="0.7"/><circle cx="252.0" cy="101.9" r="0.7"/><circle cx="249.1" cy="65.9" r="0.7"/><circle cx="257.4" cy="109.5" r="0.7"/><circle cx="246.0" cy="110.0" r="0.7"/><circle cx="253.8" cy="110.1" r="0.7"/><circle cx="247.9" cy="109.1" r="0.7"/><circle cx="255.5" cy="111.5" r="0.7"/><circle cx="247.5" cy="111.5" r="0.7"/><circle cx="254.3" cy="109.6" r="0.7"/><circle cx="254.4" cy="90.9" r="0.7"/><circle cx="252.4" cy="106.8" r="0.7"/><circle cx="253.9" cy="98.7" r="0.7"/><circle cx="254.9" cy="107.7" r="0.7"/><circle cx="252.4" cy="111.4" r="0.7"/><circle cx="252.7" cy="96.3" r="0.7"/><circle cx="247.2" cy="104.9" r="0.7"/><circle cx="256.5" cy="110.4" r="0.7"/><circle cx="249.2" cy="107.4" r="0.7"/><circle cx="257.1" cy="108.5" r="0.7"/><circle cx="254.5" cy="108.5" r="0.7"/><circle cx="250.1" cy="92.8" r="0.7"/><circle cx="246.9" cy="110.1" r="0.7"/><circle cx="257.4" cy="106.6" r="0.7"/><circle cx="255.8" cy="100.5" r="0.7"/><circle cx="246.6" cy="104.9" r="0.7"/><circle cx="253.2" cy="87.2" r="0.7"/><circle cx="251.6" cy="111.1" r="0.7"/><circle cx="247.6" cy="109.5" r="0.7"/><circle cx="257.2" cy="108.0" r="0.7"/><circle cx="249.5" cy="106.6" r="0.7"/><circle cx="253.8" cy="110.2" r="0.7"/><circle cx="249.7" cy="110.5" r="0.7"/><circle cx="246.9" cy="98.8" r="0.7"/><circle cx="249.4" cy="108.8" r="0.7"/><circle cx="252.0" cy="107.4" r="0.7"/><circle cx="246.9" cy="93.8" r="0.7"/><circle cx="249.3" cy="109.3" r="0.7"/><circle cx="252.0" cy="110.6" r="0.7"/><circle cx="255.6" cy="95.3" r="0.7"/><circle cx="252.2" cy="110.3" r="0.7"/><circle cx="257.7" cy="109.8" r="0.7"/><circle cx="253.0" cy="108.2" r="0.7"/><circle cx="253.9" cy="100.6" r="0.7"/><circle cx="247.1" cy="111.1" r="0.7"/></g>
<rect x="161.9" y="17.1" width="139.79999999999998" height="130.0" fill="none" stroke="#222" stroke-width="1.6"/>
<line x1="159.3" y1="144.6" x2="161.9" y2="144.6" stroke="#222" stroke-width="0.8"/>
<text x="155.3" y="146.7" font-size="6.2" text-anchor="end" fill="#333" stroke="#333" stroke-width="0.14" font-family='"Liberation Sans", sans-serif'>0</text>
<line x1="159.3" y1="119.19999999999999" x2="161.9" y2="119.19999999999999" stroke="#222" stroke-width="0.8"/>
<text x="155.3" y="121.29999999999998" font-size="6.2" text-anchor="end" fill="#333" stroke="#333" stroke-width="0.14" font-family='"Liberation Sans", sans-serif'>1</text>
<line x1="159.3" y1="93.8" x2="161.9" y2="93.8" stroke="#222" stroke-width="0.8"/>
<text x="155.3" y="95.89999999999999" font-size="6.2" text-anchor="end" fill="#333" stroke="#333" stroke-width="0.14" font-family='"Liberation Sans", sans-serif'>2</text>
<line x1="159.3" y1="68.4" x2="161.9" y2="68.4" stroke="#222" stroke-width="0.8"/>
<text x="155.3" y="70.5" font-size="6.2" text-anchor="end" fill="#333" stroke="#333" stroke-width="0.14" font-family='"Liberation Sans", sans-serif'>3</text>
<line x1="159.3" y1="43.0" x2="161.9" y2="43.0" stroke="#222" stroke-width="0.8"/>
<text x="155.3" y="45.1" font-size="6.2" text-anchor="end" fill="#333" stroke="#333" stroke-width="0.14" font-family='"Liberation Sans", sans-serif'>4</text>
<line x1="159.3" y1="17.599999999999994" x2="161.9" y2="17.599999999999994" stroke="#222" stroke-width="0.8"/>
<text x="155.3" y="19.699999999999996" font-size="6.2" text-anchor="end" fill="#333" stroke="#333" stroke-width="0.14" font-family='"Liberation Sans", sans-serif'>5</text>
<line x1="175.8" y1="147.1" x2="175.8" y2="149.29999999999998" stroke="#222" stroke-width="0.8"/>
<text x="175.8" y="159.4" font-size="6.2" text-anchor="middle" fill="#333" stroke="#333" stroke-width="0.14" font-family='"Liberation Sans", sans-serif'>−4</text>
<line x1="203.8" y1="147.1" x2="203.8" y2="149.29999999999998" stroke="#222" stroke-width="0.8"/>
<text x="203.8" y="159.4" font-size="6.2" text-anchor="middle" fill="#333" stroke="#333" stroke-width="0.14" font-family='"Liberation Sans", sans-serif'>−2</text>
<line x1="231.8" y1="147.1" x2="231.8" y2="149.29999999999998" stroke="#222" stroke-width="0.8"/>
<text x="231.8" y="159.4" font-size="6.2" text-anchor="middle" fill="#333" stroke="#333" stroke-width="0.14" font-family='"Liberation Sans", sans-serif'>0</text>
<line x1="259.8" y1="147.1" x2="259.8" y2="149.29999999999998" stroke="#222" stroke-width="0.8"/>
<text x="259.8" y="159.4" font-size="6.2" text-anchor="middle" fill="#333" stroke="#333" stroke-width="0.14" font-family='"Liberation Sans", sans-serif'>2</text>
<line x1="287.8" y1="147.1" x2="287.8" y2="149.29999999999998" stroke="#222" stroke-width="0.8"/>
<text x="287.8" y="159.4" font-size="6.2" text-anchor="middle" fill="#333" stroke="#333" stroke-width="0.14" font-family='"Liberation Sans", sans-serif'>4</text>
<text x="205.0" y="171.8" font-size="8.2" textLength="10.49" lengthAdjust="spacingAndGlyphs" fill="#333" stroke="#333" stroke-width="0.14" font-family='"Liberation Sans", sans-serif'>Log</text>
<text x="215.5986" y="173.5" font-size="4.755999999999999" fill="#333" stroke="#333" stroke-width="0.14" font-family='"Liberation Sans", sans-serif'>2</text>
<text x="218.45" y="171.8" font-size="8.2" textLength="40.35" lengthAdjust="spacingAndGlyphs" fill="#333" stroke="#333" stroke-width="0.14" font-family='"Liberation Sans", sans-serif'>(fold change)</text>
<g transform="translate(146.9 105.6) rotate(-90)">
<text x="0" y="0" font-size="8.0" textLength="13.6" lengthAdjust="spacingAndGlyphs" fill="#333" stroke="#333" stroke-width="0.14" font-family='"Liberation Sans", sans-serif'>−Log</text>
<text x="14.5" y="1.8" font-size="4.8" textLength="4.8" lengthAdjust="spacingAndGlyphs" fill="#333" stroke="#333" stroke-width="0.14" font-family='"Liberation Sans", sans-serif'>10</text>
<text x="20.4" y="0" font-size="8.0" textLength="26.6" lengthAdjust="spacingAndGlyphs" fill="#333" stroke="#333" stroke-width="0.14" font-family='"Liberation Sans", sans-serif'>(<tspan font-style="italic">P</tspan> value)</text>
</g>
<text x="180.8" y="75.5" font-size="5.6" textLength="24.0" lengthAdjust="spacingAndGlyphs" fill="#333" stroke="#333" stroke-width="0.14" font-family='"Liberation Sans", sans-serif'>Rps19bp1</text>
<text x="188" y="83.8" font-size="5.6" textLength="15.8" lengthAdjust="spacingAndGlyphs" fill="#333" stroke="#333" stroke-width="0.14" font-family='"Liberation Sans", sans-serif'>Arrdc4</text>
<text x="180.8" y="90.5" font-size="5.6" textLength="25.0" lengthAdjust="spacingAndGlyphs" fill="#333" stroke="#333" stroke-width="0.14" font-family='"Liberation Sans", sans-serif'>Hist1h2ag</text>
<text x="163" y="94.4" font-size="5.6" textLength="15.8" lengthAdjust="spacingAndGlyphs" fill="#333" stroke="#333" stroke-width="0.14" font-family='"Liberation Sans", sans-serif'>Slc51a</text>
<text x="200.4" y="97" font-size="5.6" textLength="13.1" lengthAdjust="spacingAndGlyphs" fill="#333" stroke="#333" stroke-width="0.14" font-family='"Liberation Sans", sans-serif'>Galnt</text>
<text x="163" y="101.7" font-size="5.6" textLength="9" lengthAdjust="spacingAndGlyphs" fill="#333" stroke="#333" stroke-width="0.14" font-family='"Liberation Sans", sans-serif'>Rhd</text>
<text x="180.4" y="101.7" font-size="5.6" textLength="23.8" lengthAdjust="spacingAndGlyphs" fill="#333" stroke="#333" stroke-width="0.14" font-family='"Liberation Sans", sans-serif'>Gm15446</text>
<text x="172.7" y="108" font-size="5.6" textLength="16.7" lengthAdjust="spacingAndGlyphs" fill="#333" stroke="#333" stroke-width="0.14" font-family='"Liberation Sans", sans-serif'>Churc1</text>
<text x="197" y="108.2" font-size="5.6" textLength="16.5" lengthAdjust="spacingAndGlyphs" fill="#333" stroke="#333" stroke-width="0.14" font-family='"Liberation Sans", sans-serif'>Tmem</text>
<text x="174" y="113.8" font-size="5.6" textLength="38.5" lengthAdjust="spacingAndGlyphs" fill="#333" stroke="#333" stroke-width="0.14" font-family='"Liberation Sans", sans-serif'>1700048O20Rik</text>
<text x="263.6" y="55" font-size="5.6" textLength="11.9" lengthAdjust="spacingAndGlyphs" fill="#333" stroke="#333" stroke-width="0.14" font-family='"Liberation Sans", sans-serif'>Fosb</text>
<text x="276" y="62" font-size="5.6" textLength="9" lengthAdjust="spacingAndGlyphs" fill="#333" stroke="#333" stroke-width="0.14" font-family='"Liberation Sans", sans-serif'>Klf2</text>
<text x="266.7" y="85.7" font-size="5.6" textLength="10.3" lengthAdjust="spacingAndGlyphs" fill="#333" stroke="#333" stroke-width="0.14" font-family='"Liberation Sans", sans-serif'>Atf3</text>
<text x="270.8" y="91.7" font-size="5.6" textLength="21.2" lengthAdjust="spacingAndGlyphs" fill="#333" stroke="#333" stroke-width="0.14" font-family='"Liberation Sans", sans-serif'>Prkcdbp</text>
<text x="252.5" y="92.5" font-size="5.6" textLength="15.5" lengthAdjust="spacingAndGlyphs" fill="#333" stroke="#333" stroke-width="0.14" font-family='"Liberation Sans", sans-serif'>Gngt2</text>
<text x="282.6" y="97.7" font-size="5.6" textLength="18.4" lengthAdjust="spacingAndGlyphs" fill="#333" stroke="#333" stroke-width="0.14" font-family='"Liberation Sans", sans-serif'>Sult6b1</text>
<text x="241.4" y="99.3" font-size="5.6" textLength="38.6" lengthAdjust="spacingAndGlyphs" fill="#333" stroke="#333" stroke-width="0.14" font-family='"Liberation Sans", sans-serif'>8430408G22Rik</text>
<text x="266" y="104.7" font-size="5.6" textLength="14" lengthAdjust="spacingAndGlyphs" fill="#333" stroke="#333" stroke-width="0.14" font-family='"Liberation Sans", sans-serif'>Hcar2</text>
<text x="281.7" y="104.1" font-size="5.6" textLength="19.3" lengthAdjust="spacingAndGlyphs" fill="#333" stroke="#333" stroke-width="0.14" font-family='"Liberation Sans", sans-serif'>C2cd4a</text>
<text x="266.7" y="111.9" font-size="5.6" textLength="18.3" lengthAdjust="spacingAndGlyphs" fill="#333" stroke="#333" stroke-width="0.14" font-family='"Liberation Sans", sans-serif'>Echdc2</text>
<text x="317.8" y="17.299999999999997" font-size="11.2" font-weight="bold" fill="#111" font-family='"Liberation Sans", sans-serif' stroke="#111" stroke-width="0.35">C</text>
<g stroke="#ececec" stroke-width="0.5"><line x1="352.6" y1="38.8" x2="502.9" y2="38.8"/><line x1="352.6" y1="47.4" x2="502.9" y2="47.4"/><line x1="352.6" y1="56.0" x2="502.9" y2="56.0"/><line x1="352.6" y1="64.6" x2="502.9" y2="64.6"/><line x1="352.6" y1="73.2" x2="502.9" y2="73.2"/><line x1="352.6" y1="81.8" x2="502.9" y2="81.8"/><line x1="352.6" y1="90.4" x2="502.9" y2="90.4"/><line x1="352.6" y1="99.0" x2="502.9" y2="99.0"/><line x1="371.4" y1="35.0" x2="371.4" y2="103.2"/><line x1="390.2" y1="35.0" x2="390.2" y2="103.2"/><line x1="409.0" y1="35.0" x2="409.0" y2="103.2"/><line x1="427.8" y1="35.0" x2="427.8" y2="103.2"/><line x1="446.5" y1="35.0" x2="446.5" y2="103.2"/><line x1="465.3" y1="35.0" x2="465.3" y2="103.2"/><line x1="484.1" y1="35.0" x2="484.1" y2="103.2"/></g>
<line x1="352.6" y1="73.2" x2="502.9" y2="73.2" stroke="#bbb" stroke-width="0.6"/>
<line x1="352.6" y1="103.2" x2="502.9" y2="103.2" stroke="#ddd" stroke-width="0.5"/>
<g shape-rendering="crispEdges"><rect x="353.1" y="103.2" width="1.0" height="21.6" fill="rgb(174,174,174)"/><rect x="354.1" y="103.2" width="1.3" height="21.6" fill="rgb(178,178,178)"/><rect x="355.4" y="103.2" width="0.8" height="21.6" fill="rgb(144,144,144)"/><rect x="356.2" y="103.2" width="1.0" height="21.6" fill="rgb(75,75,75)"/><rect x="357.2" y="103.2" width="1.3" height="21.6" fill="rgb(152,152,152)"/><rect x="358.5" y="103.2" width="1.3" height="21.6" fill="rgb(175,175,175)"/><rect x="359.8" y="103.2" width="1.0" height="21.6" fill="rgb(195,195,195)"/><rect x="360.8" y="103.2" width="1.3" height="21.6" fill="rgb(149,149,149)"/><rect x="362.1" y="103.2" width="1.0" height="21.6" fill="rgb(23,23,23)"/><rect x="363.1" y="103.2" width="1.0" height="21.6" fill="rgb(20,20,20)"/><rect x="364.1" y="103.2" width="1.3" height="21.6" fill="rgb(49,49,49)"/><rect x="365.4" y="103.2" width="1.3" height="21.6" fill="rgb(198,198,198)"/><rect x="366.7" y="103.2" width="1.3" height="21.6" fill="rgb(69,69,69)"/><rect x="368.0" y="103.2" width="1.0" height="21.6" fill="rgb(71,71,71)"/><rect x="369.0" y="103.2" width="0.8" height="21.6" fill="rgb(27,27,27)"/><rect x="370.8" y="103.2" width="1.3" height="21.6" fill="rgb(183,183,183)"/><rect x="372.1" y="103.2" width="1.3" height="21.6" fill="rgb(53,53,53)"/><rect x="373.4" y="103.2" width="1.0" height="21.6" fill="rgb(164,164,164)"/><rect x="374.4" y="103.2" width="1.0" height="21.6" fill="rgb(166,166,166)"/><rect x="375.4" y="103.2" width="1.0" height="21.6" fill="rgb(18,18,18)"/><rect x="376.4" y="103.2" width="1.0" height="21.6" fill="rgb(35,35,35)"/><rect x="377.4" y="103.2" width="1.0" height="21.6" fill="rgb(28,28,28)"/><rect x="378.4" y="103.2" width="1.0" height="21.6" fill="rgb(176,176,176)"/><rect x="379.4" y="103.2" width="1.3" height="21.6" fill="rgb(144,144,144)"/><rect x="380.7" y="103.2" width="0.8" height="21.6" fill="rgb(76,76,76)"/><rect x="381.5" y="103.2" width="1.3" height="21.6" fill="rgb(144,144,144)"/><rect x="382.8" y="103.2" width="1.0" height="21.6" fill="rgb(17,17,17)"/><rect x="383.8" y="103.2" width="0.8" height="21.6" fill="rgb(166,166,166)"/><rect x="385.6" y="103.2" width="1.3" height="21.6" fill="rgb(142,142,142)"/><rect x="386.9" y="103.2" width="1.0" height="21.6" fill="rgb(57,57,57)"/><rect x="387.9" y="103.2" width="1.0" height="21.6" fill="rgb(142,142,142)"/><rect x="390.9" y="103.2" width="1.0" height="21.6" fill="rgb(200,200,200)"/><rect x="391.9" y="103.2" width="1.0" height="21.6" fill="rgb(52,52,52)"/><rect x="392.9" y="103.2" width="1.0" height="21.6" fill="rgb(142,142,142)"/><rect x="393.9" y="103.2" width="1.3" height="21.6" fill="rgb(148,148,148)"/><rect x="395.2" y="103.2" width="1.3" height="21.6" fill="rgb(195,195,195)"/><rect x="396.5" y="103.2" width="0.8" height="21.6" fill="rgb(178,178,178)"/><rect x="397.3" y="103.2" width="1.0" height="21.6" fill="rgb(200,200,200)"/><rect x="398.3" y="103.2" width="1.0" height="21.6" fill="rgb(186,186,186)"/><rect x="399.3" y="103.2" width="1.0" height="21.6" fill="rgb(70,70,70)"/><rect x="400.3" y="103.2" width="1.0" height="21.6" fill="rgb(175,175,175)"/><rect x="402.3" y="103.2" width="1.0" height="21.6" fill="rgb(177,177,177)"/><rect x="404.3" y="103.2" width="1.0" height="21.6" fill="rgb(180,180,180)"/><rect x="406.3" y="103.2" width="1.0" height="21.6" fill="rgb(169,169,169)"/><rect x="407.3" y="103.2" width="1.0" height="21.6" fill="rgb(162,162,162)"/><rect x="408.3" y="103.2" width="0.8" height="21.6" fill="rgb(17,17,17)"/><rect x="409.1" y="103.2" width="1.0" height="21.6" fill="rgb(17,17,17)"/><rect x="410.1" y="103.2" width="1.0" height="21.6" fill="rgb(169,169,169)"/><rect x="411.1" y="103.2" width="1.0" height="21.6" fill="rgb(160,160,160)"/><rect x="412.1" y="103.2" width="1.0" height="21.6" fill="rgb(160,160,160)"/><rect x="413.1" y="103.2" width="1.0" height="21.6" fill="rgb(48,48,48)"/><rect x="414.1" y="103.2" width="0.8" height="21.6" fill="rgb(28,28,28)"/><rect x="414.9" y="103.2" width="1.0" height="21.6" fill="rgb(31,31,31)"/><rect x="415.9" y="103.2" width="1.0" height="21.6" fill="rgb(181,181,181)"/><rect x="416.9" y="103.2" width="1.3" height="21.6" fill="rgb(151,151,151)"/><rect x="418.2" y="103.2" width="0.8" height="21.6" fill="rgb(146,146,146)"/><rect x="419.0" y="103.2" width="1.0" height="21.6" fill="rgb(200,200,200)"/><rect x="420.0" y="103.2" width="1.3" height="21.6" fill="rgb(154,154,154)"/><rect x="421.3" y="103.2" width="0.8" height="21.6" fill="rgb(36,36,36)"/><rect x="422.1" y="103.2" width="1.0" height="21.6" fill="rgb(181,181,181)"/><rect x="423.1" y="103.2" width="1.0" height="21.6" fill="rgb(72,72,72)"/><rect x="426.1" y="103.2" width="1.0" height="21.6" fill="rgb(152,152,152)"/><rect x="427.1" y="103.2" width="1.0" height="21.6" fill="rgb(38,38,38)"/><rect x="428.1" y="103.2" width="0.8" height="21.6" fill="rgb(192,192,192)"/><rect x="428.9" y="103.2" width="1.0" height="21.6" fill="rgb(59,59,59)"/><rect x="429.9" y="103.2" width="1.0" height="21.6" fill="rgb(173,173,173)"/><rect x="430.9" y="103.2" width="1.3" height="21.6" fill="rgb(180,180,180)"/><rect x="432.2" y="103.2" width="1.3" height="21.6" fill="rgb(176,176,176)"/><rect x="434.5" y="103.2" width="0.8" height="21.6" fill="rgb(152,152,152)"/><rect x="435.3" y="103.2" width="1.3" height="21.6" fill="rgb(193,193,193)"/><rect x="436.6" y="103.2" width="1.0" height="21.6" fill="rgb(199,199,199)"/><rect x="438.6" y="103.2" width="1.0" height="21.6" fill="rgb(188,188,188)"/><rect x="439.6" y="103.2" width="1.0" height="21.6" fill="rgb(196,196,196)"/><rect x="440.6" y="103.2" width="0.8" height="21.6" fill="rgb(51,51,51)"/><rect x="441.4" y="103.2" width="0.8" height="21.6" fill="rgb(20,20,20)"/><rect x="442.2" y="103.2" width="1.0" height="21.6" fill="rgb(80,80,80)"/><rect x="443.2" y="103.2" width="0.8" height="21.6" fill="rgb(70,70,70)"/><rect x="445.0" y="103.2" width="1.0" height="21.6" fill="rgb(150,150,150)"/><rect x="448.0" y="103.2" width="0.8" height="21.6" fill="rgb(143,143,143)"/><rect x="448.8" y="103.2" width="1.3" height="21.6" fill="rgb(156,156,156)"/><rect x="450.1" y="103.2" width="1.0" height="21.6" fill="rgb(22,22,22)"/><rect x="453.1" y="103.2" width="1.0" height="21.6" fill="rgb(30,30,30)"/><rect x="455.1" y="103.2" width="1.0" height="21.6" fill="rgb(196,196,196)"/><rect x="456.1" y="103.2" width="1.3" height="21.6" fill="rgb(15,15,15)"/><rect x="457.4" y="103.2" width="1.3" height="21.6" fill="rgb(195,195,195)"/><rect x="459.7" y="103.2" width="1.3" height="21.6" fill="rgb(157,157,157)"/><rect x="462.0" y="103.2" width="0.8" height="21.6" fill="rgb(192,192,192)"/><rect x="462.8" y="103.2" width="0.8" height="21.6" fill="rgb(31,31,31)"/><rect x="465.6" y="103.2" width="1.3" height="21.6" fill="rgb(26,26,26)"/><rect x="466.9" y="103.2" width="0.8" height="21.6" fill="rgb(160,160,160)"/><rect x="467.7" y="103.2" width="1.3" height="21.6" fill="rgb(181,181,181)"/><rect x="469.0" y="103.2" width="1.0" height="21.6" fill="rgb(163,163,163)"/><rect x="471.0" y="103.2" width="1.0" height="21.6" fill="rgb(147,147,147)"/><rect x="472.0" y="103.2" width="1.3" height="21.6" fill="rgb(185,185,185)"/><rect x="473.3" y="103.2" width="0.8" height="21.6" fill="rgb(37,37,37)"/><rect x="474.1" y="103.2" width="1.3" height="21.6" fill="rgb(178,178,178)"/><rect x="475.4" y="103.2" width="1.3" height="21.6" fill="rgb(142,142,142)"/><rect x="477.7" y="103.2" width="1.0" height="21.6" fill="rgb(188,188,188)"/><rect x="478.7" y="103.2" width="1.3" height="21.6" fill="rgb(184,184,184)"/><rect x="480.0" y="103.2" width="1.0" height="21.6" fill="rgb(155,155,155)"/><rect x="481.0" y="103.2" width="0.8" height="21.6" fill="rgb(184,184,184)"/><rect x="481.8" y="103.2" width="1.3" height="21.6" fill="rgb(43,43,43)"/><rect x="485.1" y="103.2" width="1.0" height="21.6" fill="rgb(197,197,197)"/><rect x="487.1" y="103.2" width="1.3" height="21.6" fill="rgb(200,200,200)"/><rect x="488.4" y="103.2" width="1.0" height="21.6" fill="rgb(186,186,186)"/><rect x="489.4" y="103.2" width="0.8" height="21.6" fill="rgb(146,146,146)"/><rect x="490.2" y="103.2" width="1.3" height="21.6" fill="rgb(155,155,155)"/><rect x="494.5" y="103.2" width="0.8" height="21.6" fill="rgb(37,37,37)"/></g>
<defs><linearGradient id="cb3" x1="0" x2="1" y1="0" y2="0"><stop offset="0" stop-color="#e43c48"/><stop offset="0.2" stop-color="#e84a56"/><stop offset="0.23" stop-color="#ee6470"/><stop offset="0.36" stop-color="#f07480"/><stop offset="0.385" stop-color="#f0a4c4"/><stop offset="0.45" stop-color="#e4c0e0"/><stop offset="0.5" stop-color="#d4d0f0"/><stop offset="0.6" stop-color="#c0c4ec"/><stop offset="0.68" stop-color="#a8ace0"/><stop offset="0.72" stop-color="#8888d0"/><stop offset="0.82" stop-color="#6a64c0"/><stop offset="0.88" stop-color="#4a40aa"/><stop offset="1" stop-color="#2e268e"/></linearGradient></defs>
<rect x="352.6" y="124.8" width="142.6" height="5.5" fill="url(#cb3)"/>
<polyline points="352.4,72.7 353.5,69.0 354.6,64.4 355.8,60.1 356.9,57.6 358.0,54.5 359.0,52.0 360.0,50.4 361.5,48.4 363.0,46.7 364.0,46.7 364.9,45.2 365.9,44.8 366.9,42.7 368.0,41.2 368.9,39.8 369.9,39.6 370.8,39.1 371.6,39.4 372.5,40.3 373.5,40.7 374.5,40.5 375.5,40.5 376.5,39.6 377.6,39.5 378.8,39.5 380.0,41.9 380.9,41.7 381.7,42.2 383.0,40.9 384.0,40.6 385.0,41.9 386.0,42.3 387.5,41.3 389.0,40.0 390.0,41.3 391.0,41.9 392.1,41.8 393.3,42.6 394.2,43.2 395.1,44.5 396.1,44.4 397.0,45.1 397.8,45.3 398.6,46.0 399.4,46.3 400.3,46.8 401.1,47.5 401.9,48.0 402.7,48.9 403.5,49.1 404.4,49.9 405.2,50.4 406.0,51.0 406.9,51.2 407.8,51.1 408.8,52.4 409.7,53.0 410.6,53.4 411.5,53.8 412.4,54.6 413.2,54.8 414.1,56.2 415.0,56.6 415.8,57.0 416.7,57.5 417.5,59.2 418.4,60.1 419.2,59.8 420.1,61.7 420.9,62.3 421.8,63.0 422.6,64.2 423.5,65.8 424.4,67.2 425.3,67.5 426.1,69.4 427.0,70.0 427.9,72.0 428.7,72.7 429.5,74.3 430.4,75.4 431.2,76.0 432.0,77.5 432.9,77.8 433.8,78.5 434.7,80.0 435.6,80.4 436.5,81.6 437.4,82.3 438.3,83.1 439.2,83.1 440.1,83.5 441.0,84.9 441.8,84.6 442.7,85.7 443.5,86.0 444.4,85.7 445.2,86.2 446.1,86.7 447.1,87.3 448.1,87.7 449.0,88.1 449.8,88.6 450.6,89.4 451.4,89.3 452.2,89.7 453.0,90.4 453.8,90.3 454.6,90.9 455.5,92.1 456.3,92.1 457.2,92.6 458.0,92.5 458.9,93.5 459.8,94.2 460.7,94.2 461.6,95.4 462.5,95.9 463.3,94.7 464.2,94.7 465.0,94.0 465.8,93.7 466.6,92.8 467.5,92.7 468.3,92.3 469.2,92.0 470.1,92.5 471.0,93.7 472.0,94.2 473.0,93.6 474.0,94.0 475.0,94.6 476.0,94.8 477.0,95.4 477.9,95.8 478.9,96.3 479.8,97.0 480.6,96.2 481.5,95.9 482.4,97.9 483.3,98.7 484.5,97.1 485.6,95.2 486.6,92.7 487.5,90.7 488.3,89.7 489.2,87.5 490.0,85.9 490.9,83.7 491.9,81.6 492.8,78.6 493.8,75.7 494.8,72.7" stroke="#5fae4e" stroke-width="1.1" fill="none" stroke-linejoin="round"/>
<rect x="352.6" y="35.0" width="150.3" height="95.3" fill="none" stroke="#222" stroke-width="1.5"/>
<line x1="349.6" y1="38.800000000000004" x2="352.6" y2="38.800000000000004" stroke="#222" stroke-width="0.9"/>
<text x="346.20000000000005" y="41.00000000000001" font-size="6.4" text-anchor="end" fill="#333" stroke="#333" stroke-width="0.14" font-family='"Liberation Sans", sans-serif'>0.20</text>
<line x1="349.6" y1="47.400000000000006" x2="352.6" y2="47.400000000000006" stroke="#222" stroke-width="0.9"/>
<text x="346.20000000000005" y="49.60000000000001" font-size="6.4" text-anchor="end" fill="#333" stroke="#333" stroke-width="0.14" font-family='"Liberation Sans", sans-serif'>0.15</text>
<line x1="349.6" y1="56.0" x2="352.6" y2="56.0" stroke="#222" stroke-width="0.9"/>
<text x="346.20000000000005" y="58.2" font-size="6.4" text-anchor="end" fill="#333" stroke="#333" stroke-width="0.14" font-family='"Liberation Sans", sans-serif'>0.10</text>
<line x1="349.6" y1="64.60000000000001" x2="352.6" y2="64.60000000000001" stroke="#222" stroke-width="0.9"/>
<text x="346.20000000000005" y="66.80000000000001" font-size="6.4" text-anchor="end" fill="#333" stroke="#333" stroke-width="0.14" font-family='"Liberation Sans", sans-serif'>0.05</text>
<line x1="349.6" y1="73.2" x2="352.6" y2="73.2" stroke="#222" stroke-width="0.9"/>
<text x="346.20000000000005" y="75.4" font-size="6.4" text-anchor="end" fill="#333" stroke="#333" stroke-width="0.14" font-family='"Liberation Sans", sans-serif'>0.00</text>
<line x1="349.6" y1="81.8" x2="352.6" y2="81.8" stroke="#222" stroke-width="0.9"/>
<text x="346.20000000000005" y="84.0" font-size="6.4" text-anchor="end" fill="#333" stroke="#333" stroke-width="0.14" font-family='"Liberation Sans", sans-serif'>−0.05</text>
<line x1="349.6" y1="90.4" x2="352.6" y2="90.4" stroke="#222" stroke-width="0.9"/>
<text x="346.20000000000005" y="92.60000000000001" font-size="6.4" text-anchor="end" fill="#333" stroke="#333" stroke-width="0.14" font-family='"Liberation Sans", sans-serif'>−0.10</text>
<line x1="349.6" y1="99.0" x2="352.6" y2="99.0" stroke="#222" stroke-width="0.9"/>
<text x="346.20000000000005" y="101.2" font-size="6.4" text-anchor="end" fill="#333" stroke="#333" stroke-width="0.14" font-family='"Liberation Sans", sans-serif'>−0.15</text>
<text x="367.3" y="29.7" font-size="8.9" textLength="121.3" lengthAdjust="spacingAndGlyphs" fill="#222" stroke="#222" stroke-width="0.14" font-family='"Liberation Sans", sans-serif'>Ribo-seq: Ribosome biogenesis</text>
<text x="498.6" y="50.4" font-size="6.5" text-anchor="end" textLength="28.4" lengthAdjust="spacingAndGlyphs" fill="#333" stroke="#333" stroke-width="0.14" font-family='"Liberation Sans", sans-serif'>NES: 1.21</text>
<text x="498.6" y="59" font-size="6.5" text-anchor="end" textLength="29.6" lengthAdjust="spacingAndGlyphs" fill="#333" stroke="#333" stroke-width="0.14" font-family='"Liberation Sans", sans-serif'><tspan font-style="italic">P</tspan>-value: .0</text>
<text x="498.6" y="67.2" font-size="6.5" text-anchor="end" textLength="37.3" lengthAdjust="spacingAndGlyphs" fill="#333" stroke="#333" stroke-width="0.14" font-family='"Liberation Sans", sans-serif'>q-value: 0.16</text>
<text x="323.5" y="83.1" font-size="7.8" text-anchor="middle" textLength="67.5" lengthAdjust="spacingAndGlyphs" transform="rotate(-90 323.5 83.1)" fill="#333" stroke="#333" stroke-width="0.14" font-family='"Liberation Sans", sans-serif'>Enrichment score (ES)</text>
<text x="352.40000000000003" y="139.20000000000002" font-size="7.2" textLength="9.3" lengthAdjust="spacingAndGlyphs" fill="#444" stroke="#444" stroke-width="0.14" font-family='"Liberation Sans", sans-serif'>fl/fl</text>
<text x="503.29999999999995" y="138.5" font-size="6.2" text-anchor="end" textLength="11" lengthAdjust="spacingAndGlyphs" fill="#444" stroke="#444" stroke-width="0.14" font-family='"Liberation Serif", serif'>Δ/Δ</text>
<text x="7.5" y="196.6" font-size="11.2" font-weight="bold" fill="#111" font-family='"Liberation Sans", sans-serif' stroke="#111" stroke-width="0.35">D</text>
<g stroke="#ececec" stroke-width="0.5"><line x1="41.9" y1="215.7" x2="188.6" y2="215.7"/><line x1="41.9" y1="224.8" x2="188.6" y2="224.8"/><line x1="41.9" y1="233.9" x2="188.6" y2="233.9"/><line x1="41.9" y1="243.0" x2="188.6" y2="243.0"/><line x1="41.9" y1="252.1" x2="188.6" y2="252.1"/><line x1="41.9" y1="261.2" x2="188.6" y2="261.2"/><line x1="41.9" y1="270.3" x2="188.6" y2="270.3"/><line x1="60.2" y1="207.9" x2="60.2" y2="273.9"/><line x1="78.6" y1="207.9" x2="78.6" y2="273.9"/><line x1="96.9" y1="207.9" x2="96.9" y2="273.9"/><line x1="115.2" y1="207.9" x2="115.2" y2="273.9"/><line x1="133.6" y1="207.9" x2="133.6" y2="273.9"/><line x1="151.9" y1="207.9" x2="151.9" y2="273.9"/><line x1="170.3" y1="207.9" x2="170.3" y2="273.9"/></g>
<line x1="41.9" y1="233.9" x2="188.6" y2="233.9" stroke="#bbb" stroke-width="0.6"/>
<line x1="41.9" y1="273.9" x2="188.6" y2="273.9" stroke="#ddd" stroke-width="0.5"/>
<g shape-rendering="crispEdges"><rect x="45.4" y="273.9" width="1.3" height="21.6" fill="rgb(18,18,18)"/><rect x="51.7" y="273.9" width="0.8" height="21.6" fill="rgb(164,164,164)"/><rect x="56.5" y="273.9" width="1.3" height="21.6" fill="rgb(189,189,189)"/><rect x="63.8" y="273.9" width="1.0" height="21.6" fill="rgb(41,41,41)"/><rect x="64.8" y="273.9" width="1.0" height="21.6" fill="rgb(36,36,36)"/><rect x="65.8" y="273.9" width="1.0" height="21.6" fill="rgb(152,152,152)"/><rect x="67.8" y="273.9" width="1.3" height="21.6" fill="rgb(40,40,40)"/><rect x="69.1" y="273.9" width="1.3" height="21.6" fill="rgb(163,163,163)"/><rect x="73.4" y="273.9" width="0.8" height="21.6" fill="rgb(178,178,178)"/><rect x="74.2" y="273.9" width="1.0" height="21.6" fill="rgb(185,185,185)"/><rect x="76.2" y="273.9" width="1.3" height="21.6" fill="rgb(159,159,159)"/><rect x="77.5" y="273.9" width="1.3" height="21.6" fill="rgb(38,38,38)"/><rect x="78.8" y="273.9" width="0.8" height="21.6" fill="rgb(151,151,151)"/><rect x="79.6" y="273.9" width="0.8" height="21.6" fill="rgb(200,200,200)"/><rect x="80.4" y="273.9" width="1.3" height="21.6" fill="rgb(60,60,60)"/><rect x="82.7" y="273.9" width="1.3" height="21.6" fill="rgb(61,61,61)"/><rect x="84.0" y="273.9" width="1.3" height="21.6" fill="rgb(140,140,140)"/><rect x="86.3" y="273.9" width="0.8" height="21.6" fill="rgb(152,152,152)"/><rect x="87.1" y="273.9" width="1.0" height="21.6" fill="rgb(74,74,74)"/><rect x="88.1" y="273.9" width="1.3" height="21.6" fill="rgb(47,47,47)"/><rect x="89.4" y="273.9" width="1.0" height="21.6" fill="rgb(187,187,187)"/><rect x="90.4" y="273.9" width="1.3" height="21.6" fill="rgb(19,19,19)"/><rect x="91.7" y="273.9" width="1.0" height="21.6" fill="rgb(26,26,26)"/><rect x="92.7" y="273.9" width="1.0" height="21.6" fill="rgb(61,61,61)"/><rect x="93.7" y="273.9" width="1.0" height="21.6" fill="rgb(26,26,26)"/><rect x="94.7" y="273.9" width="1.0" height="21.6" fill="rgb(54,54,54)"/><rect x="95.7" y="273.9" width="1.0" height="21.6" fill="rgb(34,34,34)"/><rect x="96.7" y="273.9" width="0.8" height="21.6" fill="rgb(35,35,35)"/><rect x="97.5" y="273.9" width="1.3" height="21.6" fill="rgb(178,178,178)"/><rect x="98.8" y="273.9" width="1.0" height="21.6" fill="rgb(187,187,187)"/><rect x="99.8" y="273.9" width="1.3" height="21.6" fill="rgb(73,73,73)"/><rect x="101.1" y="273.9" width="0.8" height="21.6" fill="rgb(198,198,198)"/><rect x="101.9" y="273.9" width="1.0" height="21.6" fill="rgb(57,57,57)"/><rect x="102.9" y="273.9" width="1.0" height="21.6" fill="rgb(186,186,186)"/><rect x="103.9" y="273.9" width="0.8" height="21.6" fill="rgb(67,67,67)"/><rect x="104.7" y="273.9" width="1.0" height="21.6" fill="rgb(163,163,163)"/><rect x="105.7" y="273.9" width="1.0" height="21.6" fill="rgb(166,166,166)"/><rect x="106.7" y="273.9" width="1.0" height="21.6" fill="rgb(199,199,199)"/><rect x="107.7" y="273.9" width="1.3" height="21.6" fill="rgb(73,73,73)"/><rect x="109.0" y="273.9" width="1.3" height="21.6" fill="rgb(55,55,55)"/><rect x="110.3" y="273.9" width="1.3" height="21.6" fill="rgb(75,75,75)"/><rect x="111.6" y="273.9" width="1.3" height="21.6" fill="rgb(29,29,29)"/><rect x="112.9" y="273.9" width="1.3" height="21.6" fill="rgb(37,37,37)"/><rect x="114.2" y="273.9" width="0.8" height="21.6" fill="rgb(38,38,38)"/><rect x="115.0" y="273.9" width="1.0" height="21.6" fill="rgb(80,80,80)"/><rect x="116.0" y="273.9" width="1.0" height="21.6" fill="rgb(190,190,190)"/><rect x="117.0" y="273.9" width="1.0" height="21.6" fill="rgb(19,19,19)"/><rect x="118.0" y="273.9" width="1.3" height="21.6" fill="rgb(50,50,50)"/><rect x="119.3" y="273.9" width="1.0" height="21.6" fill="rgb(52,52,52)"/><rect x="120.3" y="273.9" width="1.3" height="21.6" fill="rgb(16,16,16)"/><rect x="121.6" y="273.9" width="1.0" height="21.6" fill="rgb(47,47,47)"/><rect x="122.6" y="273.9" width="1.0" height="21.6" fill="rgb(74,74,74)"/><rect x="123.6" y="273.9" width="1.0" height="21.6" fill="rgb(60,60,60)"/><rect x="124.6" y="273.9" width="1.3" height="21.6" fill="rgb(59,59,59)"/><rect x="125.9" y="273.9" width="1.3" height="21.6" fill="rgb(37,37,37)"/><rect x="127.2" y="273.9" width="1.0" height="21.6" fill="rgb(57,57,57)"/><rect x="128.2" y="273.9" width="1.0" height="21.6" fill="rgb(36,36,36)"/><rect x="129.2" y="273.9" width="1.0" height="21.6" fill="rgb(76,76,76)"/><rect x="130.2" y="273.9" width="1.0" height="21.6" fill="rgb(68,68,68)"/><rect x="131.2" y="273.9" width="1.0" height="21.6" fill="rgb(68,68,68)"/><rect x="132.2" y="273.9" width="0.8" height="21.6" fill="rgb(49,49,49)"/><rect x="133.0" y="273.9" width="1.3" height="21.6" fill="rgb(177,177,177)"/><rect x="134.3" y="273.9" width="1.0" height="21.6" fill="rgb(38,38,38)"/><rect x="135.3" y="273.9" width="0.8" height="21.6" fill="rgb(38,38,38)"/><rect x="136.1" y="273.9" width="1.0" height="21.6" fill="rgb(43,43,43)"/><rect x="137.1" y="273.9" width="0.8" height="21.6" fill="rgb(148,148,148)"/><rect x="137.9" y="273.9" width="1.3" height="21.6" fill="rgb(38,38,38)"/><rect x="139.2" y="273.9" width="1.3" height="21.6" fill="rgb(142,142,142)"/><rect x="140.5" y="273.9" width="0.8" height="21.6" fill="rgb(63,63,63)"/><rect x="141.3" y="273.9" width="1.0" height="21.6" fill="rgb(45,45,45)"/><rect x="143.3" y="273.9" width="1.3" height="21.6" fill="rgb(157,157,157)"/><rect x="144.6" y="273.9" width="0.8" height="21.6" fill="rgb(62,62,62)"/><rect x="145.4" y="273.9" width="0.8" height="21.6" fill="rgb(159,159,159)"/><rect x="146.2" y="273.9" width="1.0" height="21.6" fill="rgb(172,172,172)"/><rect x="147.2" y="273.9" width="1.0" height="21.6" fill="rgb(52,52,52)"/><rect x="148.2" y="273.9" width="1.3" height="21.6" fill="rgb(68,68,68)"/><rect x="149.5" y="273.9" width="1.3" height="21.6" fill="rgb(62,62,62)"/><rect x="150.8" y="273.9" width="1.3" height="21.6" fill="rgb(178,178,178)"/><rect x="152.1" y="273.9" width="1.0" height="21.6" fill="rgb(152,152,152)"/><rect x="153.1" y="273.9" width="0.8" height="21.6" fill="rgb(59,59,59)"/><rect x="155.9" y="273.9" width="1.0" height="21.6" fill="rgb(33,33,33)"/><rect x="157.9" y="273.9" width="1.3" height="21.6" fill="rgb(164,164,164)"/><rect x="162.2" y="273.9" width="1.3" height="21.6" fill="rgb(63,63,63)"/><rect x="163.5" y="273.9" width="1.0" height="21.6" fill="rgb(35,35,35)"/><rect x="168.5" y="273.9" width="1.3" height="21.6" fill="rgb(54,54,54)"/><rect x="169.8" y="273.9" width="1.3" height="21.6" fill="rgb(33,33,33)"/><rect x="173.1" y="273.9" width="1.0" height="21.6" fill="rgb(46,46,46)"/></g>
<defs><linearGradient id="cb5" x1="0" x2="1" y1="0" y2="0"><stop offset="0" stop-color="#e43c48"/><stop offset="0.2" stop-color="#e84a56"/><stop offset="0.23" stop-color="#ee6470"/><stop offset="0.36" stop-color="#f07480"/><stop offset="0.385" stop-color="#f0a4c4"/><stop offset="0.45" stop-color="#e4c0e0"/><stop offset="0.5" stop-color="#d4d0f0"/><stop offset="0.6" stop-color="#c0c4ec"/><stop offset="0.68" stop-color="#a8ace0"/><stop offset="0.72" stop-color="#8888d0"/><stop offset="0.82" stop-color="#6a64c0"/><stop offset="0.88" stop-color="#4a40aa"/><stop offset="1" stop-color="#2e268e"/></linearGradient></defs>
<rect x="41.9" y="295.5" width="139.9" height="5.3" fill="url(#cb5)"/>
<polyline points="41.9,233.9 43.0,235.2 44.0,236.3 44.8,237.2 45.6,237.7 46.4,238.6 47.2,238.4 48.1,239.4 49.1,240.5 50.0,240.7 51.0,241.9 52.0,241.9 53.0,243.3 54.0,243.6 55.0,244.5 56.0,245.1 56.9,245.3 57.8,246.4 58.7,247.4 59.6,249.0 60.6,249.8 61.5,250.1 62.5,251.8 63.5,252.0 64.5,253.5 65.5,252.8 66.5,252.5 67.7,254.0 68.8,253.9 69.9,254.2 71.0,255.3 72.0,255.7 73.0,255.5 74.0,256.7 75.0,253.0 76.0,252.1 77.0,251.6 78.0,252.5 78.8,251.7 79.6,251.5 80.4,250.9 81.3,250.1 82.1,250.0 83.0,249.6 84.0,249.1 85.1,248.5 86.1,248.3 87.0,248.4 88.0,247.5 88.8,247.8 89.7,247.0 90.5,246.5 91.3,247.2 92.2,246.9 93.0,246.8 93.8,247.1 94.6,247.5 95.4,247.0 96.2,248.1 97.1,247.5 98.1,248.7 99.0,249.2 100.0,248.8 101.0,250.2 102.0,250.4 102.9,251.3 103.8,251.5 104.6,252.3 105.5,253.1 106.4,255.1 107.3,255.3 108.3,256.9 109.2,258.2 110.2,259.1 111.1,259.4 112.0,260.4 113.0,261.5 113.8,262.7 114.7,262.8 115.6,264.3 116.4,265.2 117.3,266.2 118.1,266.1 119.0,268.0 119.8,267.6 120.6,268.5 121.4,269.3 122.2,270.3 123.3,269.5 124.5,270.1 125.5,269.1 126.5,268.4 127.5,267.0 128.5,265.5 129.5,264.0 130.4,262.3 131.4,261.1 132.3,259.6 133.2,256.2 134.1,253.5 135.0,252.0 136.0,248.8 137.1,245.9 138.1,243.0 139.1,240.8 140.0,238.4 140.8,235.9 141.6,233.7 142.4,231.2 143.4,229.8 144.5,226.5 145.6,225.0 146.7,223.4 147.8,220.6 149.0,219.3 150.0,217.2 151.0,214.5 152.0,213.6 152.9,211.7 153.9,210.9 155.5,212.1 156.5,211.9 157.4,212.0 158.3,212.9 159.2,214.5 160.1,215.4 161.0,216.5 162.0,216.9 163.0,217.9 164.0,219.1 165.0,219.5 166.0,220.0 167.0,220.9 167.9,221.3 168.9,222.2 169.8,223.5 171.0,222.5 172.5,223.6 174.1,221.6 175.1,222.9 176.0,224.0 176.8,225.2 177.6,226.7 178.4,227.8 179.3,228.9 180.2,231.0 181.0,232.7 181.9,234.0" stroke="#5fae4e" stroke-width="1.1" fill="none" stroke-linejoin="round"/>
<rect x="41.9" y="207.9" width="146.7" height="92.9" fill="none" stroke="#222" stroke-width="1.5"/>
<line x1="38.9" y1="215.70000000000002" x2="41.9" y2="215.70000000000002" stroke="#222" stroke-width="0.9"/>
<text x="35.5" y="217.9" font-size="6.4" text-anchor="end" fill="#333" stroke="#333" stroke-width="0.14" font-family='"Liberation Sans", sans-serif'>0.10</text>
<line x1="38.9" y1="224.8" x2="41.9" y2="224.8" stroke="#222" stroke-width="0.9"/>
<text x="35.5" y="227.0" font-size="6.4" text-anchor="end" fill="#333" stroke="#333" stroke-width="0.14" font-family='"Liberation Sans", sans-serif'>0.05</text>
<line x1="38.9" y1="233.9" x2="41.9" y2="233.9" stroke="#222" stroke-width="0.9"/>
<text x="35.5" y="236.1" font-size="6.4" text-anchor="end" fill="#333" stroke="#333" stroke-width="0.14" font-family='"Liberation Sans", sans-serif'>0.00</text>
<line x1="38.9" y1="243.0" x2="41.9" y2="243.0" stroke="#222" stroke-width="0.9"/>
<text x="35.5" y="245.2" font-size="6.4" text-anchor="end" fill="#333" stroke="#333" stroke-width="0.14" font-family='"Liberation Sans", sans-serif'>0.05</text>
<line x1="38.9" y1="252.1" x2="41.9" y2="252.1" stroke="#222" stroke-width="0.9"/>
<text x="35.5" y="254.29999999999998" font-size="6.4" text-anchor="end" fill="#333" stroke="#333" stroke-width="0.14" font-family='"Liberation Sans", sans-serif'>−0.10</text>
<line x1="38.9" y1="261.2" x2="41.9" y2="261.2" stroke="#222" stroke-width="0.9"/>
<text x="35.5" y="263.4" font-size="6.4" text-anchor="end" fill="#333" stroke="#333" stroke-width="0.14" font-family='"Liberation Sans", sans-serif'>−0.15</text>
<line x1="38.9" y1="270.3" x2="41.9" y2="270.3" stroke="#222" stroke-width="0.9"/>
<text x="35.5" y="272.5" font-size="6.4" text-anchor="end" fill="#333" stroke="#333" stroke-width="0.14" font-family='"Liberation Sans", sans-serif'>−0.20</text>
<text x="53.75" y="202" font-size="8.9" textLength="123.2" lengthAdjust="spacingAndGlyphs" fill="#222" stroke="#222" stroke-width="0.14" font-family='"Liberation Sans", sans-serif'>RNA-seq: Ribosome biogenesis</text>
<text x="184" y="246.3" font-size="6.5" text-anchor="end" textLength="32" lengthAdjust="spacingAndGlyphs" fill="#333" stroke="#333" stroke-width="0.14" font-family='"Liberation Sans", sans-serif'>NES: −0.82</text>
<text x="184" y="254.7" font-size="6.5" text-anchor="end" textLength="33.9" lengthAdjust="spacingAndGlyphs" fill="#333" stroke="#333" stroke-width="0.14" font-family='"Liberation Sans", sans-serif'><tspan font-style="italic">P</tspan>-value: .96</text>
<text x="184" y="262.9" font-size="6.5" text-anchor="end" textLength="33.9" lengthAdjust="spacingAndGlyphs" fill="#333" stroke="#333" stroke-width="0.14" font-family='"Liberation Sans", sans-serif'>q-value: 1.0</text>
<text x="13.299999999999999" y="254.5" font-size="7.8" text-anchor="middle" textLength="67.5" lengthAdjust="spacingAndGlyphs" transform="rotate(-90 13.299999999999999 254.5)" fill="#333" stroke="#333" stroke-width="0.14" font-family='"Liberation Sans", sans-serif'>Enrichment score (ES)</text>
<text x="41.699999999999996" y="309.7" font-size="7.2" textLength="9.3" lengthAdjust="spacingAndGlyphs" fill="#444" stroke="#444" stroke-width="0.14" font-family='"Liberation Sans", sans-serif'>fl/fl</text>
<text x="189.0" y="309.0" font-size="6.2" text-anchor="end" textLength="11" lengthAdjust="spacingAndGlyphs" fill="#444" stroke="#444" stroke-width="0.14" font-family='"Liberation Serif", serif'>Δ/Δ</text>
<text x="206.2" y="196.8" font-size="11.2" font-weight="bold" fill="#111" font-family='"Liberation Sans", sans-serif' stroke="#111" stroke-width="0.35">E</text>
<g stroke="#ececec" stroke-width="0.5"><line x1="240.8" y1="211.2" x2="390.7" y2="211.2"/><line x1="240.8" y1="219.9" x2="390.7" y2="219.9"/><line x1="240.8" y1="228.6" x2="390.7" y2="228.6"/><line x1="240.8" y1="237.3" x2="390.7" y2="237.3"/><line x1="240.8" y1="246.0" x2="390.7" y2="246.0"/><line x1="240.8" y1="254.7" x2="390.7" y2="254.7"/><line x1="240.8" y1="263.4" x2="390.7" y2="263.4"/><line x1="240.8" y1="272.1" x2="390.7" y2="272.1"/><line x1="259.5" y1="207.6" x2="259.5" y2="273.8"/><line x1="278.3" y1="207.6" x2="278.3" y2="273.8"/><line x1="297.0" y1="207.6" x2="297.0" y2="273.8"/><line x1="315.8" y1="207.6" x2="315.8" y2="273.8"/><line x1="334.5" y1="207.6" x2="334.5" y2="273.8"/><line x1="353.2" y1="207.6" x2="353.2" y2="273.8"/><line x1="372.0" y1="207.6" x2="372.0" y2="273.8"/></g>
<line x1="240.8" y1="263.4" x2="390.7" y2="263.4" stroke="#bbb" stroke-width="0.6"/>
<line x1="240.8" y1="273.8" x2="390.7" y2="273.8" stroke="#ddd" stroke-width="0.5"/>
<g shape-rendering="crispEdges"><rect x="241.3" y="273.8" width="1.0" height="21.4" fill="rgb(163,163,163)"/><rect x="243.3" y="273.8" width="1.0" height="21.4" fill="rgb(15,15,15)"/><rect x="244.3" y="273.8" width="1.0" height="21.4" fill="rgb(25,25,25)"/><rect x="245.3" y="273.8" width="1.3" height="21.4" fill="rgb(20,20,20)"/><rect x="246.6" y="273.8" width="1.3" height="21.4" fill="rgb(200,200,200)"/><rect x="247.9" y="273.8" width="1.0" height="21.4" fill="rgb(69,69,69)"/><rect x="248.9" y="273.8" width="0.8" height="21.4" fill="rgb(143,143,143)"/><rect x="250.7" y="273.8" width="1.3" height="21.4" fill="rgb(23,23,23)"/><rect x="252.0" y="273.8" width="1.0" height="21.4" fill="rgb(28,28,28)"/><rect x="253.0" y="273.8" width="1.3" height="21.4" fill="rgb(154,154,154)"/><rect x="254.3" y="273.8" width="1.0" height="21.4" fill="rgb(49,49,49)"/><rect x="255.3" y="273.8" width="0.8" height="21.4" fill="rgb(161,161,161)"/><rect x="256.1" y="273.8" width="0.8" height="21.4" fill="rgb(196,196,196)"/><rect x="256.9" y="273.8" width="1.3" height="21.4" fill="rgb(22,22,22)"/><rect x="258.2" y="273.8" width="0.8" height="21.4" fill="rgb(32,32,32)"/><rect x="259.0" y="273.8" width="0.8" height="21.4" fill="rgb(187,187,187)"/><rect x="259.8" y="273.8" width="0.8" height="21.4" fill="rgb(15,15,15)"/><rect x="260.6" y="273.8" width="1.0" height="21.4" fill="rgb(40,40,40)"/><rect x="261.6" y="273.8" width="0.8" height="21.4" fill="rgb(197,197,197)"/><rect x="263.4" y="273.8" width="0.8" height="21.4" fill="rgb(79,79,79)"/><rect x="264.2" y="273.8" width="1.3" height="21.4" fill="rgb(40,40,40)"/><rect x="266.5" y="273.8" width="0.8" height="21.4" fill="rgb(188,188,188)"/><rect x="267.3" y="273.8" width="1.0" height="21.4" fill="rgb(33,33,33)"/><rect x="268.3" y="273.8" width="0.8" height="21.4" fill="rgb(20,20,20)"/><rect x="269.1" y="273.8" width="1.0" height="21.4" fill="rgb(183,183,183)"/><rect x="270.1" y="273.8" width="0.8" height="21.4" fill="rgb(19,19,19)"/><rect x="270.9" y="273.8" width="1.0" height="21.4" fill="rgb(66,66,66)"/><rect x="271.9" y="273.8" width="0.8" height="21.4" fill="rgb(172,172,172)"/><rect x="272.7" y="273.8" width="1.0" height="21.4" fill="rgb(26,26,26)"/><rect x="274.7" y="273.8" width="1.3" height="21.4" fill="rgb(61,61,61)"/><rect x="276.0" y="273.8" width="0.8" height="21.4" fill="rgb(152,152,152)"/><rect x="276.8" y="273.8" width="1.0" height="21.4" fill="rgb(178,178,178)"/><rect x="279.8" y="273.8" width="1.0" height="21.4" fill="rgb(157,157,157)"/><rect x="280.8" y="273.8" width="1.0" height="21.4" fill="rgb(54,54,54)"/><rect x="282.8" y="273.8" width="1.3" height="21.4" fill="rgb(18,18,18)"/><rect x="284.1" y="273.8" width="1.3" height="21.4" fill="rgb(69,69,69)"/><rect x="285.4" y="273.8" width="1.0" height="21.4" fill="rgb(189,189,189)"/><rect x="286.4" y="273.8" width="1.3" height="21.4" fill="rgb(23,23,23)"/><rect x="287.7" y="273.8" width="1.3" height="21.4" fill="rgb(27,27,27)"/><rect x="289.0" y="273.8" width="1.0" height="21.4" fill="rgb(62,62,62)"/><rect x="290.0" y="273.8" width="1.0" height="21.4" fill="rgb(36,36,36)"/><rect x="292.0" y="273.8" width="1.0" height="21.4" fill="rgb(37,37,37)"/><rect x="293.0" y="273.8" width="1.0" height="21.4" fill="rgb(30,30,30)"/><rect x="297.0" y="273.8" width="0.8" height="21.4" fill="rgb(179,179,179)"/><rect x="297.8" y="273.8" width="1.0" height="21.4" fill="rgb(60,60,60)"/><rect x="299.8" y="273.8" width="0.8" height="21.4" fill="rgb(148,148,148)"/><rect x="300.6" y="273.8" width="0.8" height="21.4" fill="rgb(52,52,52)"/><rect x="302.4" y="273.8" width="1.3" height="21.4" fill="rgb(185,185,185)"/><rect x="303.7" y="273.8" width="1.0" height="21.4" fill="rgb(191,191,191)"/><rect x="304.7" y="273.8" width="1.3" height="21.4" fill="rgb(157,157,157)"/><rect x="307.0" y="273.8" width="1.0" height="21.4" fill="rgb(50,50,50)"/><rect x="309.0" y="273.8" width="1.0" height="21.4" fill="rgb(145,145,145)"/><rect x="310.0" y="273.8" width="0.8" height="21.4" fill="rgb(43,43,43)"/><rect x="311.8" y="273.8" width="1.3" height="21.4" fill="rgb(177,177,177)"/><rect x="314.1" y="273.8" width="1.0" height="21.4" fill="rgb(177,177,177)"/><rect x="315.1" y="273.8" width="0.8" height="21.4" fill="rgb(200,200,200)"/><rect x="315.9" y="273.8" width="1.3" height="21.4" fill="rgb(177,177,177)"/><rect x="317.2" y="273.8" width="0.8" height="21.4" fill="rgb(173,173,173)"/><rect x="318.0" y="273.8" width="0.8" height="21.4" fill="rgb(53,53,53)"/><rect x="318.8" y="273.8" width="0.8" height="21.4" fill="rgb(32,32,32)"/><rect x="320.6" y="273.8" width="1.3" height="21.4" fill="rgb(143,143,143)"/><rect x="321.9" y="273.8" width="0.8" height="21.4" fill="rgb(21,21,21)"/><rect x="322.7" y="273.8" width="1.3" height="21.4" fill="rgb(196,196,196)"/><rect x="325.0" y="273.8" width="1.0" height="21.4" fill="rgb(78,78,78)"/><rect x="327.0" y="273.8" width="0.8" height="21.4" fill="rgb(179,179,179)"/><rect x="327.8" y="273.8" width="0.8" height="21.4" fill="rgb(166,166,166)"/><rect x="330.6" y="273.8" width="0.8" height="21.4" fill="rgb(25,25,25)"/><rect x="332.4" y="273.8" width="1.3" height="21.4" fill="rgb(175,175,175)"/><rect x="334.7" y="273.8" width="0.8" height="21.4" fill="rgb(57,57,57)"/><rect x="335.5" y="273.8" width="1.3" height="21.4" fill="rgb(16,16,16)"/><rect x="336.8" y="273.8" width="1.3" height="21.4" fill="rgb(34,34,34)"/><rect x="338.1" y="273.8" width="0.8" height="21.4" fill="rgb(32,32,32)"/><rect x="338.9" y="273.8" width="1.3" height="21.4" fill="rgb(44,44,44)"/><rect x="340.2" y="273.8" width="1.0" height="21.4" fill="rgb(39,39,39)"/><rect x="344.2" y="273.8" width="1.0" height="21.4" fill="rgb(145,145,145)"/><rect x="347.2" y="273.8" width="1.0" height="21.4" fill="rgb(152,152,152)"/><rect x="348.2" y="273.8" width="1.0" height="21.4" fill="rgb(25,25,25)"/><rect x="350.2" y="273.8" width="1.0" height="21.4" fill="rgb(183,183,183)"/><rect x="353.2" y="273.8" width="1.3" height="21.4" fill="rgb(146,146,146)"/><rect x="356.5" y="273.8" width="0.8" height="21.4" fill="rgb(43,43,43)"/><rect x="357.3" y="273.8" width="1.0" height="21.4" fill="rgb(148,148,148)"/><rect x="360.3" y="273.8" width="1.3" height="21.4" fill="rgb(197,197,197)"/><rect x="361.6" y="273.8" width="0.8" height="21.4" fill="rgb(53,53,53)"/><rect x="363.4" y="273.8" width="1.0" height="21.4" fill="rgb(166,166,166)"/><rect x="364.4" y="273.8" width="1.3" height="21.4" fill="rgb(162,162,162)"/><rect x="365.7" y="273.8" width="1.0" height="21.4" fill="rgb(145,145,145)"/><rect x="367.7" y="273.8" width="1.3" height="21.4" fill="rgb(199,199,199)"/><rect x="369.0" y="273.8" width="1.0" height="21.4" fill="rgb(151,151,151)"/><rect x="370.0" y="273.8" width="0.8" height="21.4" fill="rgb(160,160,160)"/><rect x="371.8" y="273.8" width="1.0" height="21.4" fill="rgb(152,152,152)"/><rect x="372.8" y="273.8" width="1.0" height="21.4" fill="rgb(182,182,182)"/><rect x="373.8" y="273.8" width="1.0" height="21.4" fill="rgb(25,25,25)"/><rect x="374.8" y="273.8" width="1.0" height="21.4" fill="rgb(64,64,64)"/><rect x="375.8" y="273.8" width="1.0" height="21.4" fill="rgb(189,189,189)"/><rect x="377.8" y="273.8" width="1.3" height="21.4" fill="rgb(166,166,166)"/><rect x="380.1" y="273.8" width="0.8" height="21.4" fill="rgb(188,188,188)"/><rect x="380.9" y="273.8" width="1.0" height="21.4" fill="rgb(140,140,140)"/><rect x="381.9" y="273.8" width="0.8" height="21.4" fill="rgb(41,41,41)"/><rect x="383.7" y="273.8" width="0.8" height="21.4" fill="rgb(55,55,55)"/></g>
<defs><linearGradient id="cb9" x1="0" x2="1" y1="0" y2="0"><stop offset="0" stop-color="#e43c48"/><stop offset="0.2" stop-color="#e84a56"/><stop offset="0.23" stop-color="#ee6470"/><stop offset="0.36" stop-color="#f07480"/><stop offset="0.385" stop-color="#f0a4c4"/><stop offset="0.45" stop-color="#e4c0e0"/><stop offset="0.5" stop-color="#d4d0f0"/><stop offset="0.6" stop-color="#c0c4ec"/><stop offset="0.68" stop-color="#a8ace0"/><stop offset="0.72" stop-color="#8888d0"/><stop offset="0.82" stop-color="#6a64c0"/><stop offset="0.88" stop-color="#4a40aa"/><stop offset="1" stop-color="#2e268e"/></linearGradient></defs>
<rect x="240.8" y="295.2" width="143.4" height="6.0" fill="url(#cb9)"/>
<polyline points="241.1,255.0 242.1,250.9 243.0,246.6 243.9,245.6 244.9,242.8 245.8,241.5 246.7,241.1 247.6,239.4 248.5,239.1 249.5,238.7 250.5,237.6 251.5,237.6 252.3,236.7 253.2,235.2 254.0,234.2 255.2,232.1 256.3,230.7 257.4,229.5 258.5,228.8 259.5,227.9 260.5,226.1 262.0,225.5 262.9,223.2 263.7,221.7 264.6,219.2 266.0,217.3 267.0,215.9 268.0,214.2 268.9,213.3 269.8,212.2 270.8,211.6 271.6,210.9 272.5,210.3 273.6,211.0 274.6,210.5 275.8,211.0 276.9,210.8 277.9,210.3 279.0,211.1 279.8,211.2 280.6,210.7 281.5,211.1 282.3,211.6 283.1,210.4 284.0,210.6 285.1,210.3 286.2,211.1 287.1,212.0 288.1,211.8 289.0,212.2 290.0,212.4 291.0,213.0 291.9,212.8 292.9,213.2 293.8,214.0 294.9,215.5 295.9,215.9 297.0,216.9 297.9,218.0 298.8,218.2 299.7,219.6 300.6,220.0 301.5,221.3 302.4,222.8 303.3,222.8 304.2,224.4 305.1,225.6 306.0,226.1 306.8,227.1 307.6,228.8 308.4,229.7 309.2,229.7 310.0,231.2 310.8,232.4 311.6,232.5 312.5,233.9 313.3,234.2 314.2,235.4 315.0,236.7 315.8,237.4 316.7,238.4 317.5,238.4 318.3,239.5 319.2,240.8 320.0,241.3 320.8,241.7 321.7,242.2 322.5,243.4 323.3,243.5 324.2,243.4 325.0,244.8 325.8,244.9 326.7,245.5 327.5,245.9 328.4,246.7 329.2,247.1 330.0,247.4 330.8,248.5 331.6,248.5 332.4,249.7 333.2,249.4 334.0,250.8 334.9,251.4 335.8,251.7 336.7,252.5 337.6,252.6 338.5,253.8 339.4,254.3 340.2,255.0 341.1,256.6 342.0,256.9 342.8,257.7 343.7,259.1 344.5,259.4 345.4,260.5 346.2,260.8 347.1,262.3 348.1,262.3 349.1,262.8 350.0,264.5 350.9,264.1 351.9,265.4 352.9,265.9 353.8,265.9 354.9,264.6 356.0,264.0 357.0,264.4 358.0,264.9 359.0,264.3 360.0,263.8 361.0,264.0 362.0,264.6 363.0,264.8 364.0,264.1 365.1,265.0 366.2,266.5 367.1,265.9 368.0,264.5 369.0,265.7 370.0,266.7 371.1,266.1 372.3,265.1 373.1,266.5 374.0,266.6 375.0,267.8 376.0,268.5 377.0,269.2 378.0,267.4 379.0,265.6 380.0,265.7 381.0,266.4 382.5,263.6 384.0,262.7" stroke="#5fae4e" stroke-width="1.1" fill="none" stroke-linejoin="round"/>
<rect x="240.8" y="207.6" width="149.9" height="93.6" fill="none" stroke="#222" stroke-width="1.5"/>
<line x1="237.8" y1="211.2" x2="240.8" y2="211.2" stroke="#222" stroke-width="0.9"/>
<text x="234.4" y="213.39999999999998" font-size="6.4" text-anchor="end" fill="#333" stroke="#333" stroke-width="0.14" font-family='"Liberation Sans", sans-serif'>0.30</text>
<line x1="237.8" y1="219.89999999999998" x2="240.8" y2="219.89999999999998" stroke="#222" stroke-width="0.9"/>
<text x="234.4" y="222.09999999999997" font-size="6.4" text-anchor="end" fill="#333" stroke="#333" stroke-width="0.14" font-family='"Liberation Sans", sans-serif'>0.25</text>
<line x1="237.8" y1="228.59999999999997" x2="240.8" y2="228.59999999999997" stroke="#222" stroke-width="0.9"/>
<text x="234.4" y="230.79999999999995" font-size="6.4" text-anchor="end" fill="#333" stroke="#333" stroke-width="0.14" font-family='"Liberation Sans", sans-serif'>0.20</text>
<line x1="237.8" y1="237.29999999999998" x2="240.8" y2="237.29999999999998" stroke="#222" stroke-width="0.9"/>
<text x="234.4" y="239.49999999999997" font-size="6.4" text-anchor="end" fill="#333" stroke="#333" stroke-width="0.14" font-family='"Liberation Sans", sans-serif'>0.15</text>
<line x1="237.8" y1="245.99999999999997" x2="240.8" y2="245.99999999999997" stroke="#222" stroke-width="0.9"/>
<text x="234.4" y="248.19999999999996" font-size="6.4" text-anchor="end" fill="#333" stroke="#333" stroke-width="0.14" font-family='"Liberation Sans", sans-serif'>0.10</text>
<line x1="237.8" y1="254.7" x2="240.8" y2="254.7" stroke="#222" stroke-width="0.9"/>
<text x="234.4" y="256.9" font-size="6.4" text-anchor="end" fill="#333" stroke="#333" stroke-width="0.14" font-family='"Liberation Sans", sans-serif'>0.05</text>
<line x1="237.8" y1="263.4" x2="240.8" y2="263.4" stroke="#222" stroke-width="0.9"/>
<text x="234.4" y="265.59999999999997" font-size="6.4" text-anchor="end" fill="#333" stroke="#333" stroke-width="0.14" font-family='"Liberation Sans", sans-serif'>0.00</text>
<line x1="237.8" y1="272.09999999999997" x2="240.8" y2="272.09999999999997" stroke="#222" stroke-width="0.9"/>
<text x="234.4" y="274.29999999999995" font-size="6.4" text-anchor="end" fill="#333" stroke="#333" stroke-width="0.14" font-family='"Liberation Sans", sans-serif'>−0.05</text>
<text x="297.2" y="202.5" font-size="8.9" textLength="37.2" lengthAdjust="spacingAndGlyphs" fill="#222" stroke="#222" stroke-width="0.14" font-family='"Liberation Sans", sans-serif'>PreCFU-E</text>
<text x="385.2" y="222.6" font-size="6.5" text-anchor="end" textLength="28.5" lengthAdjust="spacingAndGlyphs" fill="#333" stroke="#333" stroke-width="0.14" font-family='"Liberation Sans", sans-serif'>NES: 1.55</text>
<text x="385.2" y="231" font-size="6.5" text-anchor="end" textLength="30.1" lengthAdjust="spacingAndGlyphs" fill="#333" stroke="#333" stroke-width="0.14" font-family='"Liberation Sans", sans-serif'><tspan font-style="italic">P</tspan>-value: .0</text>
<text x="385.2" y="239.2" font-size="6.5" text-anchor="end" textLength="33.9" lengthAdjust="spacingAndGlyphs" fill="#333" stroke="#333" stroke-width="0.14" font-family='"Liberation Sans", sans-serif'>q-value: 0.0</text>
<text x="212.5" y="254.5" font-size="7.8" text-anchor="middle" textLength="67.5" lengthAdjust="spacingAndGlyphs" transform="rotate(-90 212.5 254.5)" fill="#333" stroke="#333" stroke-width="0.14" font-family='"Liberation Sans", sans-serif'>Enrichment score (ES)</text>
<text x="240.60000000000002" y="310.09999999999997" font-size="7.2" textLength="9.3" lengthAdjust="spacingAndGlyphs" fill="#444" stroke="#444" stroke-width="0.14" font-family='"Liberation Sans", sans-serif'>fl/fl</text>
<text x="391.09999999999997" y="309.4" font-size="6.2" text-anchor="end" textLength="11" lengthAdjust="spacingAndGlyphs" fill="#444" stroke="#444" stroke-width="0.14" font-family='"Liberation Serif", serif'>Δ/Δ</text>
<line x1="437.0" y1="186" x2="437.0" y2="301.4" stroke="#222" stroke-width="1.1"/>
<line x1="437.0" y1="301.4" x2="512.5" y2="301.4" stroke="#222" stroke-width="1.1"/>
<line x1="501.3" y1="186.5" x2="501.3" y2="301.4" stroke="#1a1a1a" stroke-width="1.2"/>
<text x="429.9" y="194.89999999999998" font-size="6.4" text-anchor="end" textLength="18.9" lengthAdjust="spacingAndGlyphs" fill="#333" stroke="#333" stroke-width="0.14" font-family='"Liberation Sans", sans-serif'>Tysnd1</text>
<line x1="433.8" y1="192.7" x2="437.0" y2="192.7" stroke="#222" stroke-width="0.9"/>
<rect x="501.3" y="195.04999999999998" width="8.300000000000011" height="2.4" fill="#1d4f8e"/>
<text x="429.9" y="207.71999999999997" font-size="6.4" text-anchor="end" textLength="17.5" lengthAdjust="spacingAndGlyphs" fill="#333" stroke="#333" stroke-width="0.14" font-family='"Liberation Sans", sans-serif'>Aqp11</text>
<line x1="433.8" y1="205.51999999999998" x2="437.0" y2="205.51999999999998" stroke="#222" stroke-width="0.9"/>
<rect x="493" y="202.12" width="8.300000000000011" height="2.5" fill="#c8172e"/>
<rect x="495.8" y="207.86999999999998" width="5.5" height="2.4" fill="#1d4f8e"/>
<text x="429.9" y="220.53999999999996" font-size="6.4" text-anchor="end" textLength="11.5" lengthAdjust="spacingAndGlyphs" fill="#333" stroke="#333" stroke-width="0.14" font-family='"Liberation Sans", sans-serif'>Atl3</text>
<line x1="433.8" y1="218.33999999999997" x2="437.0" y2="218.33999999999997" stroke="#222" stroke-width="0.9"/>
<rect x="494.6" y="220.68999999999997" width="6.699999999999989" height="2.4" fill="#1d4f8e"/>
<text x="429.9" y="233.35999999999999" font-size="6.4" text-anchor="end" textLength="17.5" lengthAdjust="spacingAndGlyphs" fill="#333" stroke="#333" stroke-width="0.14" font-family='"Liberation Sans", sans-serif'>Lman1</text>
<line x1="433.8" y1="231.16" x2="437.0" y2="231.16" stroke="#222" stroke-width="0.9"/>
<rect x="494.6" y="233.51" width="6.699999999999989" height="2.4" fill="#1d4f8e"/>
<text x="429.9" y="246.17999999999998" font-size="6.4" text-anchor="end" textLength="19" lengthAdjust="spacingAndGlyphs" fill="#333" stroke="#333" stroke-width="0.14" font-family='"Liberation Sans", sans-serif'>Tspan8</text>
<line x1="433.8" y1="243.98" x2="437.0" y2="243.98" stroke="#222" stroke-width="0.9"/>
<rect x="481.2" y="240.58" width="20.100000000000023" height="2.5" fill="#c8172e"/>
<rect x="493.5" y="246.32999999999998" width="7.800000000000011" height="2.4" fill="#1d4f8e"/>
<text x="429.9" y="258.99999999999994" font-size="6.4" text-anchor="end" textLength="21" lengthAdjust="spacingAndGlyphs" fill="#333" stroke="#333" stroke-width="0.14" font-family='"Liberation Sans", sans-serif'>St3gal5</text>
<line x1="433.8" y1="256.79999999999995" x2="437.0" y2="256.79999999999995" stroke="#222" stroke-width="0.9"/>
<rect x="495.5" y="253.39999999999998" width="5.800000000000011" height="2.5" fill="#c8172e"/>
<rect x="493.5" y="259.15" width="7.800000000000011" height="2.4" fill="#1d4f8e"/>
<text x="429.9" y="271.82" font-size="6.4" text-anchor="end" textLength="17.5" lengthAdjust="spacingAndGlyphs" fill="#333" stroke="#333" stroke-width="0.14" font-family='"Liberation Sans", sans-serif'>Nup37</text>
<line x1="433.8" y1="269.62" x2="437.0" y2="269.62" stroke="#222" stroke-width="0.9"/>
<rect x="501.3" y="266.22" width="0.8999999999999773" height="2.5" fill="#c8172e"/>
<rect x="492.3" y="271.97" width="9.0" height="2.4" fill="#1d4f8e"/>
<text x="429.9" y="284.64" font-size="6.4" text-anchor="end" textLength="21" lengthAdjust="spacingAndGlyphs" fill="#333" stroke="#333" stroke-width="0.14" font-family='"Liberation Sans", sans-serif'>Slc40a1</text>
<line x1="433.8" y1="282.44" x2="437.0" y2="282.44" stroke="#222" stroke-width="0.9"/>
<rect x="491.8" y="279.04" width="9.5" height="2.5" fill="#c8172e"/>
<rect x="488.8" y="284.79" width="12.5" height="2.4" fill="#1d4f8e"/>
<text x="429.9" y="297.46" font-size="6.4" text-anchor="end" textLength="11" lengthAdjust="spacingAndGlyphs" fill="#333" stroke="#333" stroke-width="0.14" font-family='"Liberation Sans", sans-serif'>Rhd</text>
<line x1="433.8" y1="295.26" x2="437.0" y2="295.26" stroke="#222" stroke-width="0.9"/>
<rect x="474.9" y="291.86" width="26.400000000000034" height="2.5" fill="#c8172e"/>
<rect x="439.8" y="297.61" width="61.5" height="2.4" fill="#1d4f8e"/>
<rect x="443.0" y="187.0" width="5.7" height="5.7" fill="#1d4f8e"/>
<text x="452.1" y="191.8" font-size="6.4" textLength="6.7" lengthAdjust="spacingAndGlyphs" fill="#333" stroke="#333" stroke-width="0.14" font-family='"Liberation Sans", sans-serif'>TE</text>
<rect x="443.0" y="196.9" width="5.7" height="5.7" fill="#c8172e"/>
<text x="452.1" y="201.7" font-size="6.4" textLength="18.9" lengthAdjust="spacingAndGlyphs" fill="#333" stroke="#333" stroke-width="0.14" font-family='"Liberation Sans", sans-serif'>mRNA</text>
<line x1="437" y1="301.4" x2="437" y2="303.4" stroke="#222" stroke-width="0.8"/>
<text x="437" y="312.2" font-size="6.2" text-anchor="middle" fill="#333" stroke="#333" stroke-width="0.14" font-family='"Liberation Sans", sans-serif'>−60</text>
<line x1="450.4" y1="301.4" x2="450.4" y2="303.4" stroke="#222" stroke-width="0.8"/>
<text x="450.4" y="312.2" font-size="6.2" text-anchor="middle" fill="#333" stroke="#333" stroke-width="0.14" font-family='"Liberation Sans", sans-serif'>−40</text>
<line x1="462.9" y1="301.4" x2="462.9" y2="303.4" stroke="#222" stroke-width="0.8"/>
<text x="462.9" y="312.2" font-size="6.2" text-anchor="middle" fill="#333" stroke="#333" stroke-width="0.14" font-family='"Liberation Sans", sans-serif'>−20</text>
<line x1="472.1" y1="301.4" x2="472.1" y2="303.4" stroke="#222" stroke-width="0.8"/>
<text x="472.1" y="312.2" font-size="6.2" text-anchor="middle" fill="#333" stroke="#333" stroke-width="0.14" font-family='"Liberation Sans", sans-serif'>−5</text>
<line x1="501" y1="301.4" x2="501" y2="303.4" stroke="#222" stroke-width="0.8"/>
<text x="501" y="312.2" font-size="6.2" text-anchor="middle" fill="#333" stroke="#333" stroke-width="0.14" font-family='"Liberation Sans", sans-serif'>0</text>
<rect x="463.8" y="300.5" width="6.6" height="1.9" fill="#fff"/>
<line x1="461" y1="303.8" x2="465.6" y2="299.2" stroke="#222" stroke-width="0.8"/>
<line x1="468.8" y1="303.8" x2="473.4" y2="299.2" stroke="#222" stroke-width="0.8"/>
<text x="448.1" y="324.7" font-size="8.2" textLength="10.49" lengthAdjust="spacingAndGlyphs" fill="#333" stroke="#333" stroke-width="0.14" font-family='"Liberation Sans", sans-serif'>Log</text>
<text x="458.6986" y="326.4" font-size="4.755999999999999" fill="#333" stroke="#333" stroke-width="0.14" font-family='"Liberation Sans", sans-serif'>2</text>
<text x="461.55" y="324.7" font-size="8.2" textLength="40.35" lengthAdjust="spacingAndGlyphs" fill="#333" stroke="#333" stroke-width="0.14" font-family='"Liberation Sans", sans-serif'>(fold change)</text>
<text x="7.6" y="349.59999999999997" font-size="11.2" font-weight="bold" fill="#111" font-family='"Liberation Sans", sans-serif' stroke="#111" stroke-width="0.35">F</text>
<text x="40.9" y="353.4" font-size="6.6" textLength="15.3" lengthAdjust="spacingAndGlyphs" transform="rotate(-45 40.9 353.4)" fill="#333" stroke="#333" stroke-width="0.14" font-family='"Liberation Sans", sans-serif'>GMP</text>
<text x="51.5" y="353.4" font-size="6.6" textLength="15.3" lengthAdjust="spacingAndGlyphs" transform="rotate(-45 51.5 353.4)" fill="#333" stroke="#333" stroke-width="0.14" font-family='"Liberation Sans", sans-serif'>CMP</text>
<text x="62.3" y="353.4" font-size="6.6" textLength="15.3" lengthAdjust="spacingAndGlyphs" transform="rotate(-45 62.3 353.4)" fill="#333" stroke="#333" stroke-width="0.14" font-family='"Liberation Sans", sans-serif'>MEP</text>
<defs><filter id="bl" x="-20%" y="-5%" width="140%" height="110%"><feGaussianBlur stdDeviation="0.8 0.7"/></filter><filter id="blur1" x="-20%" y="-20%" width="140%" height="140%"><feGaussianBlur stdDeviation="0.6"/></filter></defs>
<rect x="35.8" y="356" width="35.8" height="80" fill="#cbcbcb"/>
<g filter="url(#bl)"><rect x="38.30" y="356.30" width="8.20" height="1.20" fill="rgb(132,132,132)"/><rect x="38.30" y="356.90" width="8.20" height="1.20" fill="rgb(121,121,121)"/><rect x="38.30" y="357.50" width="8.20" height="1.20" fill="rgb(119,119,119)"/><rect x="38.30" y="358.10" width="8.20" height="1.20" fill="rgb(123,123,123)"/><rect x="38.30" y="358.70" width="8.20" height="1.20" fill="rgb(117,117,117)"/><rect x="38.30" y="359.30" width="8.20" height="1.20" fill="rgb(115,115,115)"/><rect x="38.30" y="359.90" width="8.20" height="1.20" fill="rgb(110,110,110)"/><rect x="38.30" y="360.50" width="8.20" height="1.20" fill="rgb(112,112,112)"/><rect x="38.30" y="361.10" width="8.20" height="1.20" fill="rgb(125,125,125)"/><rect x="38.30" y="361.70" width="8.20" height="1.20" fill="rgb(130,130,130)"/><rect x="38.30" y="362.30" width="8.20" height="1.20" fill="rgb(124,124,124)"/><rect x="38.30" y="362.90" width="8.20" height="1.20" fill="rgb(133,133,133)"/><rect x="38.30" y="363.50" width="8.20" height="1.20" fill="rgb(133,133,133)"/><rect x="38.30" y="364.10" width="8.20" height="1.20" fill="rgb(147,147,147)"/><rect x="38.30" y="364.70" width="8.20" height="1.20" fill="rgb(144,144,144)"/><rect x="38.30" y="365.30" width="8.20" height="1.20" fill="rgb(143,143,143)"/><rect x="38.30" y="365.90" width="8.20" height="1.20" fill="rgb(153,153,153)"/><rect x="38.30" y="366.50" width="8.20" height="1.20" fill="rgb(147,147,147)"/><rect x="38.30" y="367.10" width="8.20" height="1.20" fill="rgb(149,149,149)"/><rect x="38.30" y="367.70" width="8.20" height="1.20" fill="rgb(154,154,154)"/><rect x="38.30" y="368.30" width="8.20" height="1.20" fill="rgb(148,148,148)"/><rect x="38.30" y="368.90" width="8.20" height="1.20" fill="rgb(135,135,135)"/><rect x="38.30" y="369.50" width="8.20" height="1.20" fill="rgb(124,124,124)"/><rect x="38.30" y="370.10" width="8.20" height="1.20" fill="rgb(123,123,123)"/><rect x="38.30" y="370.70" width="8.20" height="1.20" fill="rgb(107,107,107)"/><rect x="38.00" y="371.30" width="8.80" height="1.20" fill="rgb(87,87,87)"/><rect x="38.00" y="371.90" width="8.80" height="1.20" fill="rgb(74,74,74)"/><rect x="38.00" y="372.50" width="8.80" height="1.20" fill="rgb(66,66,66)"/><rect x="38.00" y="373.10" width="8.80" height="1.20" fill="rgb(61,61,61)"/><rect x="38.00" y="373.70" width="8.80" height="1.20" fill="rgb(57,57,57)"/><rect x="38.00" y="374.30" width="8.80" height="1.20" fill="rgb(58,58,58)"/><rect x="38.00" y="374.90" width="8.80" height="1.20" fill="rgb(56,56,56)"/><rect x="38.00" y="375.50" width="8.80" height="1.20" fill="rgb(53,53,53)"/><rect x="38.00" y="376.10" width="8.80" height="1.20" fill="rgb(48,48,48)"/><rect x="38.00" y="376.70" width="8.80" height="1.20" fill="rgb(54,54,54)"/><rect x="38.00" y="377.30" width="8.80" height="1.20" fill="rgb(61,61,61)"/><rect x="38.00" y="377.90" width="8.80" height="1.20" fill="rgb(54,54,54)"/><rect x="38.00" y="378.50" width="8.80" height="1.20" fill="rgb(61,61,61)"/><rect x="38.00" y="379.10" width="8.80" height="1.20" fill="rgb(64,64,64)"/><rect x="38.00" y="379.70" width="8.80" height="1.20" fill="rgb(76,76,76)"/><rect x="38.30" y="380.30" width="8.20" height="1.20" fill="rgb(72,72,72)"/><rect x="38.30" y="380.90" width="8.20" height="1.20" fill="rgb(80,80,80)"/><rect x="38.30" y="381.50" width="8.20" height="1.20" fill="rgb(96,96,96)"/><rect x="38.30" y="382.10" width="8.20" height="1.20" fill="rgb(99,99,99)"/><rect x="38.30" y="382.70" width="8.20" height="1.20" fill="rgb(91,91,91)"/><rect x="38.30" y="383.30" width="8.20" height="1.20" fill="rgb(89,89,89)"/><rect x="38.30" y="383.90" width="8.20" height="1.20" fill="rgb(84,84,84)"/><rect x="38.30" y="384.50" width="8.20" height="1.20" fill="rgb(89,89,89)"/><rect x="38.30" y="385.10" width="8.20" height="1.20" fill="rgb(80,80,80)"/><rect x="38.30" y="385.70" width="8.20" height="1.20" fill="rgb(74,74,74)"/><rect x="38.30" y="386.30" width="8.20" height="1.20" fill="rgb(70,70,70)"/><rect x="38.30" y="386.90" width="8.20" height="1.20" fill="rgb(58,58,58)"/><rect x="38.30" y="387.50" width="8.20" height="1.20" fill="rgb(45,45,45)"/><rect x="38.30" y="388.10" width="8.20" height="1.20" fill="rgb(37,37,37)"/><rect x="38.30" y="388.70" width="8.20" height="1.20" fill="rgb(32,32,32)"/><rect x="37.30" y="389.30" width="10.20" height="1.20" fill="rgb(21,21,21)"/><rect x="37.30" y="389.90" width="10.20" height="1.20" fill="rgb(18,18,18)"/><rect x="37.30" y="390.50" width="10.20" height="1.20" fill="rgb(12,12,12)"/><rect x="37.30" y="391.10" width="10.20" height="1.20" fill="rgb(3,3,3)"/><rect x="37.30" y="391.70" width="10.20" height="1.20" fill="rgb(6,6,6)"/><rect x="37.30" y="392.30" width="10.20" height="1.20" fill="rgb(7,7,7)"/><rect x="37.30" y="392.90" width="10.20" height="1.20" fill="rgb(0,0,0)"/><rect x="37.30" y="393.50" width="10.20" height="1.20" fill="rgb(0,0,0)"/><rect x="37.30" y="394.10" width="10.20" height="1.20" fill="rgb(0,0,0)"/><rect x="37.30" y="394.70" width="10.20" height="1.20" fill="rgb(2,2,2)"/><rect x="37.30" y="395.30" width="10.20" height="1.20" fill="rgb(1,1,1)"/><rect x="37.30" y="395.90" width="10.20" height="1.20" fill="rgb(0,0,0)"/><rect x="37.30" y="396.50" width="10.20" height="1.20" fill="rgb(0,0,0)"/><rect x="37.30" y="397.10" width="10.20" height="1.20" fill="rgb(0,0,0)"/><rect x="37.30" y="397.70" width="10.20" height="1.20" fill="rgb(1,1,1)"/><rect x="37.30" y="398.30" width="10.20" height="1.20" fill="rgb(7,7,7)"/><rect x="37.30" y="398.90" width="10.20" height="1.20" fill="rgb(25,25,25)"/><rect x="37.30" y="399.50" width="10.20" height="1.20" fill="rgb(38,38,38)"/><rect x="37.30" y="400.10" width="10.20" height="1.20" fill="rgb(42,42,42)"/><rect x="37.30" y="400.70" width="10.20" height="1.20" fill="rgb(47,47,47)"/><rect x="38.30" y="401.30" width="8.20" height="1.20" fill="rgb(60,60,60)"/><rect x="38.30" y="401.90" width="8.20" height="1.20" fill="rgb(72,72,72)"/><rect x="38.30" y="402.50" width="8.20" height="1.20" fill="rgb(83,83,83)"/><rect x="38.30" y="403.10" width="8.20" height="1.20" fill="rgb(87,87,87)"/><rect x="38.30" y="403.70" width="8.20" height="1.20" fill="rgb(84,84,84)"/><rect x="38.30" y="404.30" width="8.20" height="1.20" fill="rgb(89,89,89)"/><rect x="38.30" y="404.90" width="8.20" height="1.20" fill="rgb(96,96,96)"/><rect x="38.30" y="405.50" width="8.20" height="1.20" fill="rgb(95,95,95)"/><rect x="38.30" y="406.10" width="8.20" height="1.20" fill="rgb(106,106,106)"/><rect x="38.30" y="406.70" width="8.20" height="1.20" fill="rgb(106,106,106)"/><rect x="38.30" y="407.30" width="8.20" height="1.20" fill="rgb(102,102,102)"/><rect x="38.30" y="407.90" width="8.20" height="1.20" fill="rgb(108,108,108)"/><rect x="38.30" y="408.50" width="8.20" height="1.20" fill="rgb(111,111,111)"/><rect x="38.30" y="409.10" width="8.20" height="1.20" fill="rgb(115,115,115)"/><rect x="38.30" y="409.70" width="8.20" height="1.20" fill="rgb(113,113,113)"/><rect x="38.30" y="410.30" width="8.20" height="1.20" fill="rgb(109,109,109)"/><rect x="38.30" y="410.90" width="8.20" height="1.20" fill="rgb(122,122,122)"/><rect x="38.30" y="411.50" width="8.20" height="1.20" fill="rgb(114,114,114)"/><rect x="38.30" y="412.10" width="8.20" height="1.20" fill="rgb(114,114,114)"/><rect x="38.30" y="412.70" width="8.20" height="1.20" fill="rgb(115,115,115)"/><rect x="38.30" y="413.30" width="8.20" height="1.20" fill="rgb(118,118,118)"/><rect x="38.30" y="413.90" width="8.20" height="1.20" fill="rgb(118,118,118)"/><rect x="38.30" y="414.50" width="8.20" height="1.20" fill="rgb(123,123,123)"/><rect x="38.30" y="415.10" width="8.20" height="1.20" fill="rgb(124,124,124)"/><rect x="38.30" y="415.70" width="8.20" height="1.20" fill="rgb(127,127,127)"/><rect x="38.30" y="416.30" width="8.20" height="1.20" fill="rgb(133,133,133)"/><rect x="38.30" y="416.90" width="8.20" height="1.20" fill="rgb(124,124,124)"/><rect x="38.30" y="417.50" width="8.20" height="1.20" fill="rgb(130,130,130)"/><rect x="38.30" y="418.10" width="8.20" height="1.20" fill="rgb(136,136,136)"/><rect x="38.30" y="418.70" width="8.20" height="1.20" fill="rgb(134,134,134)"/><rect x="38.30" y="419.30" width="8.20" height="1.20" fill="rgb(136,136,136)"/><rect x="38.30" y="419.90" width="8.20" height="1.20" fill="rgb(140,140,140)"/><rect x="38.30" y="420.50" width="8.20" height="1.20" fill="rgb(142,142,142)"/><rect x="38.30" y="421.10" width="8.20" height="1.20" fill="rgb(141,141,141)"/><rect x="38.30" y="421.70" width="8.20" height="1.20" fill="rgb(142,142,142)"/><rect x="38.30" y="422.30" width="8.20" height="1.20" fill="rgb(143,143,143)"/><rect x="38.30" y="422.90" width="8.20" height="1.20" fill="rgb(146,146,146)"/><rect x="38.30" y="423.50" width="8.20" height="1.20" fill="rgb(152,152,152)"/><rect x="38.30" y="424.10" width="8.20" height="1.20" fill="rgb(150,150,150)"/><rect x="38.30" y="424.70" width="8.20" height="1.20" fill="rgb(151,151,151)"/><rect x="38.30" y="425.30" width="8.20" height="1.20" fill="rgb(147,147,147)"/><rect x="38.30" y="425.90" width="8.20" height="1.20" fill="rgb(144,144,144)"/><rect x="38.30" y="426.50" width="8.20" height="1.20" fill="rgb(145,145,145)"/><rect x="38.30" y="427.10" width="8.20" height="1.20" fill="rgb(146,146,146)"/><rect x="38.30" y="427.70" width="8.20" height="1.20" fill="rgb(146,146,146)"/><rect x="38.30" y="428.30" width="8.20" height="1.20" fill="rgb(154,154,154)"/><rect x="38.30" y="428.90" width="8.20" height="1.20" fill="rgb(147,147,147)"/><rect x="38.30" y="429.50" width="8.20" height="1.20" fill="rgb(150,150,150)"/><rect x="38.30" y="430.10" width="8.20" height="1.20" fill="rgb(158,158,158)"/><rect x="38.30" y="430.70" width="8.20" height="1.20" fill="rgb(160,160,160)"/><rect x="38.30" y="431.30" width="8.20" height="1.20" fill="rgb(160,160,160)"/><rect x="38.30" y="431.90" width="8.20" height="1.20" fill="rgb(151,151,151)"/><rect x="38.30" y="432.50" width="8.20" height="1.20" fill="rgb(119,119,119)"/><rect x="38.30" y="433.10" width="8.20" height="1.20" fill="rgb(73,73,73)"/><rect x="38.30" y="433.70" width="8.20" height="1.20" fill="rgb(59,59,59)"/><rect x="38.30" y="434.30" width="8.20" height="1.20" fill="rgb(62,62,62)"/><rect x="38.30" y="434.90" width="8.20" height="1.20" fill="rgb(102,102,102)"/><rect x="38.30" y="435.50" width="8.20" height="1.20" fill="rgb(155,155,155)"/><rect x="48.90" y="356.30" width="8.60" height="1.20" fill="rgb(117,117,117)"/><rect x="48.90" y="356.90" width="8.60" height="1.20" fill="rgb(112,112,112)"/><rect x="48.90" y="357.50" width="8.60" height="1.20" fill="rgb(120,120,120)"/><rect x="48.90" y="358.10" width="8.60" height="1.20" fill="rgb(115,115,115)"/><rect x="48.90" y="358.70" width="8.60" height="1.20" fill="rgb(101,101,101)"/><rect x="48.90" y="359.30" width="8.60" height="1.20" fill="rgb(100,100,100)"/><rect x="48.90" y="359.90" width="8.60" height="1.20" fill="rgb(102,102,102)"/><rect x="48.90" y="360.50" width="8.60" height="1.20" fill="rgb(107,107,107)"/><rect x="48.90" y="361.10" width="8.60" height="1.20" fill="rgb(104,104,104)"/><rect x="48.90" y="361.70" width="8.60" height="1.20" fill="rgb(105,105,105)"/><rect x="48.90" y="362.30" width="8.60" height="1.20" fill="rgb(106,106,106)"/><rect x="48.90" y="362.90" width="8.60" height="1.20" fill="rgb(112,112,112)"/><rect x="48.90" y="363.50" width="8.60" height="1.20" fill="rgb(113,113,113)"/><rect x="48.90" y="364.10" width="8.60" height="1.20" fill="rgb(118,118,118)"/><rect x="48.90" y="364.70" width="8.60" height="1.20" fill="rgb(119,119,119)"/><rect x="48.90" y="365.30" width="8.60" height="1.20" fill="rgb(121,121,121)"/><rect x="48.90" y="365.90" width="8.60" height="1.20" fill="rgb(127,127,127)"/><rect x="48.90" y="366.50" width="8.60" height="1.20" fill="rgb(124,124,124)"/><rect x="48.90" y="367.10" width="8.60" height="1.20" fill="rgb(115,115,115)"/><rect x="48.90" y="367.70" width="8.60" height="1.20" fill="rgb(107,107,107)"/><rect x="48.90" y="368.30" width="8.60" height="1.20" fill="rgb(100,100,100)"/><rect x="48.90" y="368.90" width="8.60" height="1.20" fill="rgb(90,90,90)"/><rect x="48.90" y="369.50" width="8.60" height="1.20" fill="rgb(79,79,79)"/><rect x="48.90" y="370.10" width="8.60" height="1.20" fill="rgb(76,76,76)"/><rect x="48.90" y="370.70" width="8.60" height="1.20" fill="rgb(72,72,72)"/><rect x="48.90" y="371.30" width="8.60" height="1.20" fill="rgb(61,61,61)"/><rect x="48.90" y="371.90" width="8.60" height="1.20" fill="rgb(61,61,61)"/><rect x="48.90" y="372.50" width="8.60" height="1.20" fill="rgb(57,57,57)"/><rect x="48.90" y="373.10" width="8.60" height="1.20" fill="rgb(57,57,57)"/><rect x="48.90" y="373.70" width="8.60" height="1.20" fill="rgb(56,56,56)"/><rect x="48.90" y="374.30" width="8.60" height="1.20" fill="rgb(50,50,50)"/><rect x="48.90" y="374.90" width="8.60" height="1.20" fill="rgb(53,53,53)"/><rect x="48.90" y="375.50" width="8.60" height="1.20" fill="rgb(50,50,50)"/><rect x="48.90" y="376.10" width="8.60" height="1.20" fill="rgb(44,44,44)"/><rect x="48.90" y="376.70" width="8.60" height="1.20" fill="rgb(49,49,49)"/><rect x="48.90" y="377.30" width="8.60" height="1.20" fill="rgb(57,57,57)"/><rect x="48.90" y="377.90" width="8.60" height="1.20" fill="rgb(49,49,49)"/><rect x="48.90" y="378.50" width="8.60" height="1.20" fill="rgb(52,52,52)"/><rect x="48.90" y="379.10" width="8.60" height="1.20" fill="rgb(55,55,55)"/><rect x="48.90" y="379.70" width="8.60" height="1.20" fill="rgb(55,55,55)"/><rect x="48.90" y="380.30" width="8.60" height="1.20" fill="rgb(59,59,59)"/><rect x="48.90" y="380.90" width="8.60" height="1.20" fill="rgb(61,61,61)"/><rect x="48.90" y="381.50" width="8.60" height="1.20" fill="rgb(69,69,69)"/><rect x="48.90" y="382.10" width="8.60" height="1.20" fill="rgb(61,61,61)"/><rect x="48.90" y="382.70" width="8.60" height="1.20" fill="rgb(49,49,49)"/><rect x="48.90" y="383.30" width="8.60" height="1.20" fill="rgb(48,48,48)"/><rect x="48.90" y="383.90" width="8.60" height="1.20" fill="rgb(29,29,29)"/><rect x="48.40" y="384.50" width="9.60" height="1.20" fill="rgb(18,18,18)"/><rect x="48.40" y="385.10" width="9.60" height="1.20" fill="rgb(11,11,11)"/><rect x="48.40" y="385.70" width="9.60" height="1.20" fill="rgb(10,10,10)"/><rect x="48.40" y="386.30" width="9.60" height="1.20" fill="rgb(11,11,11)"/><rect x="48.40" y="386.90" width="9.60" height="1.20" fill="rgb(5,5,5)"/><rect x="48.40" y="387.50" width="9.60" height="1.20" fill="rgb(11,11,11)"/><rect x="48.40" y="388.10" width="9.60" height="1.20" fill="rgb(9,9,9)"/><rect x="48.40" y="388.70" width="9.60" height="1.20" fill="rgb(28,28,28)"/><rect x="47.90" y="389.30" width="10.60" height="1.20" fill="rgb(34,34,34)"/><rect x="47.90" y="389.90" width="10.60" height="1.20" fill="rgb(26,26,26)"/><rect x="47.90" y="390.50" width="10.60" height="1.20" fill="rgb(15,15,15)"/><rect x="47.90" y="391.10" width="10.60" height="1.20" fill="rgb(0,0,0)"/><rect x="47.90" y="391.70" width="10.60" height="1.20" fill="rgb(0,0,0)"/><rect x="47.90" y="392.30" width="10.60" height="1.20" fill="rgb(0,0,0)"/><rect x="47.90" y="392.90" width="10.60" height="1.20" fill="rgb(0,0,0)"/><rect x="47.90" y="393.50" width="10.60" height="1.20" fill="rgb(4,4,4)"/><rect x="47.90" y="394.10" width="10.60" height="1.20" fill="rgb(2,2,2)"/><rect x="47.90" y="394.70" width="10.60" height="1.20" fill="rgb(0,0,0)"/><rect x="47.90" y="395.30" width="10.60" height="1.20" fill="rgb(4,4,4)"/><rect x="47.90" y="395.90" width="10.60" height="1.20" fill="rgb(0,0,0)"/><rect x="47.90" y="396.50" width="10.60" height="1.20" fill="rgb(3,3,3)"/><rect x="47.90" y="397.10" width="10.60" height="1.20" fill="rgb(0,0,0)"/><rect x="47.90" y="397.70" width="10.60" height="1.20" fill="rgb(2,2,2)"/><rect x="47.90" y="398.30" width="10.60" height="1.20" fill="rgb(0,0,0)"/><rect x="47.90" y="398.90" width="10.60" height="1.20" fill="rgb(0,0,0)"/><rect x="47.90" y="399.50" width="10.60" height="1.20" fill="rgb(0,0,0)"/><rect x="47.90" y="400.10" width="10.60" height="1.20" fill="rgb(0,0,0)"/><rect x="47.90" y="400.70" width="10.60" height="1.20" fill="rgb(0,0,0)"/><rect x="47.90" y="401.30" width="10.60" height="1.20" fill="rgb(0,0,0)"/><rect x="47.90" y="401.90" width="10.60" height="1.20" fill="rgb(2,2,2)"/><rect x="47.90" y="402.50" width="10.60" height="1.20" fill="rgb(4,4,4)"/><rect x="47.90" y="403.10" width="10.60" height="1.20" fill="rgb(0,0,0)"/><rect x="47.90" y="403.70" width="10.60" height="1.20" fill="rgb(0,0,0)"/><rect x="47.90" y="404.30" width="10.60" height="1.20" fill="rgb(0,0,0)"/><rect x="47.90" y="404.90" width="10.60" height="1.20" fill="rgb(5,5,5)"/><rect x="47.90" y="405.50" width="10.60" height="1.20" fill="rgb(0,0,0)"/><rect x="47.90" y="406.10" width="10.60" height="1.20" fill="rgb(0,0,0)"/><rect x="47.90" y="406.70" width="10.60" height="1.20" fill="rgb(0,0,0)"/><rect x="47.90" y="407.30" width="10.60" height="1.20" fill="rgb(4,4,4)"/><rect x="47.90" y="407.90" width="10.60" height="1.20" fill="rgb(0,0,0)"/><rect x="47.90" y="408.50" width="10.60" height="1.20" fill="rgb(6,6,6)"/><rect x="47.90" y="409.10" width="10.60" height="1.20" fill="rgb(0,0,0)"/><rect x="47.90" y="409.70" width="10.60" height="1.20" fill="rgb(3,3,3)"/><rect x="47.90" y="410.30" width="10.60" height="1.20" fill="rgb(5,5,5)"/><rect x="47.90" y="410.90" width="10.60" height="1.20" fill="rgb(0,0,0)"/><rect x="47.90" y="411.50" width="10.60" height="1.20" fill="rgb(13,13,13)"/><rect x="47.90" y="412.10" width="10.60" height="1.20" fill="rgb(11,11,11)"/><rect x="47.90" y="412.70" width="10.60" height="1.20" fill="rgb(10,10,10)"/><rect x="47.90" y="413.30" width="10.60" height="1.20" fill="rgb(21,21,21)"/><rect x="47.90" y="413.90" width="10.60" height="1.20" fill="rgb(25,25,25)"/><rect x="47.90" y="414.50" width="10.60" height="1.20" fill="rgb(19,19,19)"/><rect x="47.90" y="415.10" width="10.60" height="1.20" fill="rgb(28,28,28)"/><rect x="47.90" y="415.70" width="10.60" height="1.20" fill="rgb(28,28,28)"/><rect x="47.90" y="416.30" width="10.60" height="1.20" fill="rgb(42,42,42)"/><rect x="47.90" y="416.90" width="10.60" height="1.20" fill="rgb(44,44,44)"/><rect x="47.90" y="417.50" width="10.60" height="1.20" fill="rgb(53,53,53)"/><rect x="47.90" y="418.10" width="10.60" height="1.20" fill="rgb(53,53,53)"/><rect x="47.90" y="418.70" width="10.60" height="1.20" fill="rgb(67,67,67)"/><rect x="47.90" y="419.30" width="10.60" height="1.20" fill="rgb(62,62,62)"/><rect x="47.90" y="419.90" width="10.60" height="1.20" fill="rgb(80,80,80)"/><rect x="48.90" y="420.50" width="8.60" height="1.20" fill="rgb(76,76,76)"/><rect x="48.90" y="421.10" width="8.60" height="1.20" fill="rgb(89,89,89)"/><rect x="48.90" y="421.70" width="8.60" height="1.20" fill="rgb(89,89,89)"/><rect x="48.90" y="422.30" width="8.60" height="1.20" fill="rgb(86,86,86)"/><rect x="48.90" y="422.90" width="8.60" height="1.20" fill="rgb(98,98,98)"/><rect x="48.90" y="423.50" width="8.60" height="1.20" fill="rgb(102,102,102)"/><rect x="48.90" y="424.10" width="8.60" height="1.20" fill="rgb(99,99,99)"/><rect x="48.90" y="424.70" width="8.60" height="1.20" fill="rgb(107,107,107)"/><rect x="48.90" y="425.30" width="8.60" height="1.20" fill="rgb(114,114,114)"/><rect x="48.90" y="425.90" width="8.60" height="1.20" fill="rgb(104,104,104)"/><rect x="48.90" y="426.50" width="8.60" height="1.20" fill="rgb(117,117,117)"/><rect x="48.90" y="427.10" width="8.60" height="1.20" fill="rgb(121,121,121)"/><rect x="48.90" y="427.70" width="8.60" height="1.20" fill="rgb(119,119,119)"/><rect x="48.90" y="428.30" width="8.60" height="1.20" fill="rgb(117,117,117)"/><rect x="48.90" y="428.90" width="8.60" height="1.20" fill="rgb(118,118,118)"/><rect x="48.90" y="429.50" width="8.60" height="1.20" fill="rgb(128,128,128)"/><rect x="48.90" y="430.10" width="8.60" height="1.20" fill="rgb(127,127,127)"/><rect x="48.90" y="430.70" width="8.60" height="1.20" fill="rgb(132,132,132)"/><rect x="48.90" y="431.30" width="8.60" height="1.20" fill="rgb(128,128,128)"/><rect x="48.90" y="431.90" width="8.60" height="1.20" fill="rgb(125,125,125)"/><rect x="48.90" y="432.50" width="8.60" height="1.20" fill="rgb(126,126,126)"/><rect x="48.90" y="433.10" width="8.60" height="1.20" fill="rgb(54,54,54)"/><rect x="48.90" y="433.70" width="8.60" height="1.20" fill="rgb(44,44,44)"/><rect x="48.90" y="434.30" width="8.60" height="1.20" fill="rgb(43,43,43)"/><rect x="48.90" y="434.90" width="8.60" height="1.20" fill="rgb(75,75,75)"/><rect x="48.90" y="435.50" width="8.60" height="1.20" fill="rgb(140,140,140)"/><rect x="60.20" y="356.30" width="9.90" height="1.20" fill="rgb(13,13,13)"/><rect x="60.20" y="356.90" width="9.90" height="1.20" fill="rgb(5,5,5)"/><rect x="60.20" y="357.50" width="9.90" height="1.20" fill="rgb(4,4,4)"/><rect x="60.20" y="358.10" width="9.90" height="1.20" fill="rgb(0,0,0)"/><rect x="60.20" y="358.70" width="9.90" height="1.20" fill="rgb(0,0,0)"/><rect x="60.20" y="359.30" width="9.90" height="1.20" fill="rgb(6,6,6)"/><rect x="60.20" y="359.90" width="9.90" height="1.20" fill="rgb(6,6,6)"/><rect x="60.20" y="360.50" width="9.90" height="1.20" fill="rgb(0,0,0)"/><rect x="60.20" y="361.10" width="9.90" height="1.20" fill="rgb(3,3,3)"/><rect x="60.20" y="361.70" width="9.90" height="1.20" fill="rgb(3,3,3)"/><rect x="60.20" y="362.30" width="9.90" height="1.20" fill="rgb(0,0,0)"/><rect x="60.20" y="362.90" width="9.90" height="1.20" fill="rgb(0,0,0)"/><rect x="60.20" y="363.50" width="9.90" height="1.20" fill="rgb(0,0,0)"/><rect x="60.20" y="364.10" width="9.90" height="1.20" fill="rgb(2,2,2)"/><rect x="60.20" y="364.70" width="9.90" height="1.20" fill="rgb(9,9,9)"/><rect x="60.20" y="365.30" width="9.90" height="1.20" fill="rgb(25,25,25)"/><rect x="60.20" y="365.90" width="9.90" height="1.20" fill="rgb(29,29,29)"/><rect x="60.20" y="366.50" width="9.90" height="1.20" fill="rgb(28,28,28)"/><rect x="60.20" y="367.10" width="9.90" height="1.20" fill="rgb(32,32,32)"/><rect x="60.20" y="367.70" width="9.90" height="1.20" fill="rgb(29,29,29)"/><rect x="60.20" y="368.30" width="9.90" height="1.20" fill="rgb(30,30,30)"/><rect x="60.20" y="368.90" width="9.90" height="1.20" fill="rgb(38,38,38)"/><rect x="60.20" y="369.50" width="9.90" height="1.20" fill="rgb(27,27,27)"/><rect x="60.20" y="370.10" width="9.90" height="1.20" fill="rgb(27,27,27)"/><rect x="60.20" y="370.70" width="9.90" height="1.20" fill="rgb(28,28,28)"/><rect x="60.20" y="371.30" width="9.90" height="1.20" fill="rgb(30,30,30)"/><rect x="60.20" y="371.90" width="9.90" height="1.20" fill="rgb(17,17,17)"/><rect x="60.20" y="372.50" width="9.90" height="1.20" fill="rgb(19,19,19)"/><rect x="60.20" y="373.10" width="9.90" height="1.20" fill="rgb(14,14,14)"/><rect x="60.20" y="373.70" width="9.90" height="1.20" fill="rgb(12,12,12)"/><rect x="60.20" y="374.30" width="9.90" height="1.20" fill="rgb(14,14,14)"/><rect x="60.20" y="374.90" width="9.90" height="1.20" fill="rgb(11,11,11)"/><rect x="60.20" y="375.50" width="9.90" height="1.20" fill="rgb(18,18,18)"/><rect x="60.20" y="376.10" width="9.90" height="1.20" fill="rgb(12,12,12)"/><rect x="60.20" y="376.70" width="9.90" height="1.20" fill="rgb(17,17,17)"/><rect x="60.20" y="377.30" width="9.90" height="1.20" fill="rgb(10,10,10)"/><rect x="60.20" y="377.90" width="9.90" height="1.20" fill="rgb(11,11,11)"/><rect x="60.20" y="378.50" width="9.90" height="1.20" fill="rgb(21,21,21)"/><rect x="60.20" y="379.10" width="9.90" height="1.20" fill="rgb(20,20,20)"/><rect x="60.20" y="379.70" width="9.90" height="1.20" fill="rgb(19,19,19)"/><rect x="60.20" y="380.30" width="9.90" height="1.20" fill="rgb(9,9,9)"/><rect x="60.20" y="380.90" width="9.90" height="1.20" fill="rgb(15,15,15)"/><rect x="60.20" y="381.50" width="9.90" height="1.20" fill="rgb(11,11,11)"/><rect x="60.20" y="382.10" width="9.90" height="1.20" fill="rgb(15,15,15)"/><rect x="60.20" y="382.70" width="9.90" height="1.20" fill="rgb(11,11,11)"/><rect x="60.20" y="383.30" width="9.90" height="1.20" fill="rgb(12,12,12)"/><rect x="60.20" y="383.90" width="9.90" height="1.20" fill="rgb(11,11,11)"/><rect x="60.20" y="384.50" width="9.90" height="1.20" fill="rgb(8,8,8)"/><rect x="60.20" y="385.10" width="9.90" height="1.20" fill="rgb(7,7,7)"/><rect x="60.20" y="385.70" width="9.90" height="1.20" fill="rgb(2,2,2)"/><rect x="59.50" y="386.30" width="11.30" height="1.20" fill="rgb(4,4,4)"/><rect x="59.50" y="386.90" width="11.30" height="1.20" fill="rgb(0,0,0)"/><rect x="59.50" y="387.50" width="11.30" height="1.20" fill="rgb(0,0,0)"/><rect x="59.50" y="388.10" width="11.30" height="1.20" fill="rgb(0,0,0)"/><rect x="59.50" y="388.70" width="11.30" height="1.20" fill="rgb(0,0,0)"/><rect x="59.50" y="389.30" width="11.30" height="1.20" fill="rgb(5,5,5)"/><rect x="59.50" y="389.90" width="11.30" height="1.20" fill="rgb(0,0,0)"/><rect x="59.50" y="390.50" width="11.30" height="1.20" fill="rgb(0,0,0)"/><rect x="59.50" y="391.10" width="11.30" height="1.20" fill="rgb(0,0,0)"/><rect x="59.50" y="391.70" width="11.30" height="1.20" fill="rgb(0,0,0)"/><rect x="59.50" y="392.30" width="11.30" height="1.20" fill="rgb(0,0,0)"/><rect x="59.50" y="392.90" width="11.30" height="1.20" fill="rgb(4,4,4)"/><rect x="59.50" y="393.50" width="11.30" height="1.20" fill="rgb(0,0,0)"/><rect x="59.50" y="394.10" width="11.30" height="1.20" fill="rgb(0,0,0)"/><rect x="59.50" y="394.70" width="11.30" height="1.20" fill="rgb(3,3,3)"/><rect x="59.50" y="395.30" width="11.30" height="1.20" fill="rgb(6,6,6)"/><rect x="59.50" y="395.90" width="11.30" height="1.20" fill="rgb(0,0,0)"/><rect x="59.50" y="396.50" width="11.30" height="1.20" fill="rgb(0,0,0)"/><rect x="59.50" y="397.10" width="11.30" height="1.20" fill="rgb(5,5,5)"/><rect x="59.50" y="397.70" width="11.30" height="1.20" fill="rgb(0,0,0)"/><rect x="59.50" y="398.30" width="11.30" height="1.20" fill="rgb(1,1,1)"/><rect x="59.50" y="398.90" width="11.30" height="1.20" fill="rgb(5,5,5)"/><rect x="59.50" y="399.50" width="11.30" height="1.20" fill="rgb(3,3,3)"/><rect x="59.50" y="400.10" width="11.30" height="1.20" fill="rgb(0,0,0)"/><rect x="59.50" y="400.70" width="11.30" height="1.20" fill="rgb(0,0,0)"/><rect x="59.50" y="401.30" width="11.30" height="1.20" fill="rgb(6,6,6)"/><rect x="59.50" y="401.90" width="11.30" height="1.20" fill="rgb(0,0,0)"/><rect x="59.50" y="402.50" width="11.30" height="1.20" fill="rgb(6,6,6)"/><rect x="59.50" y="403.10" width="11.30" height="1.20" fill="rgb(0,0,0)"/><rect x="59.50" y="403.70" width="11.30" height="1.20" fill="rgb(2,2,2)"/><rect x="59.50" y="404.30" width="11.30" height="1.20" fill="rgb(0,0,0)"/><rect x="59.50" y="404.90" width="11.30" height="1.20" fill="rgb(0,0,0)"/><rect x="59.50" y="405.50" width="11.30" height="1.20" fill="rgb(0,0,0)"/><rect x="59.50" y="406.10" width="11.30" height="1.20" fill="rgb(0,0,0)"/><rect x="59.50" y="406.70" width="11.30" height="1.20" fill="rgb(2,2,2)"/><rect x="59.50" y="407.30" width="11.30" height="1.20" fill="rgb(5,5,5)"/><rect x="59.50" y="407.90" width="11.30" height="1.20" fill="rgb(0,0,0)"/><rect x="59.50" y="408.50" width="11.30" height="1.20" fill="rgb(6,6,6)"/><rect x="59.50" y="409.10" width="11.30" height="1.20" fill="rgb(4,4,4)"/><rect x="59.50" y="409.70" width="11.30" height="1.20" fill="rgb(1,1,1)"/><rect x="59.50" y="410.30" width="11.30" height="1.20" fill="rgb(0,0,0)"/><rect x="59.50" y="410.90" width="11.30" height="1.20" fill="rgb(4,4,4)"/><rect x="59.50" y="411.50" width="11.30" height="1.20" fill="rgb(6,6,6)"/><rect x="59.50" y="412.10" width="11.30" height="1.20" fill="rgb(0,0,0)"/><rect x="59.50" y="412.70" width="11.30" height="1.20" fill="rgb(2,2,2)"/><rect x="59.50" y="413.30" width="11.30" height="1.20" fill="rgb(0,0,0)"/><rect x="59.50" y="413.90" width="11.30" height="1.20" fill="rgb(0,0,0)"/><rect x="59.50" y="414.50" width="11.30" height="1.20" fill="rgb(2,2,2)"/><rect x="59.50" y="415.10" width="11.30" height="1.20" fill="rgb(1,1,1)"/><rect x="59.50" y="415.70" width="11.30" height="1.20" fill="rgb(0,0,0)"/><rect x="59.50" y="416.30" width="11.30" height="1.20" fill="rgb(0,0,0)"/><rect x="59.50" y="416.90" width="11.30" height="1.20" fill="rgb(0,0,0)"/><rect x="59.50" y="417.50" width="11.30" height="1.20" fill="rgb(0,0,0)"/><rect x="59.50" y="418.10" width="11.30" height="1.20" fill="rgb(0,0,0)"/><rect x="59.50" y="418.70" width="11.30" height="1.20" fill="rgb(0,0,0)"/><rect x="59.50" y="419.30" width="11.30" height="1.20" fill="rgb(0,0,0)"/><rect x="59.50" y="419.90" width="11.30" height="1.20" fill="rgb(1,1,1)"/><rect x="59.50" y="420.50" width="11.30" height="1.20" fill="rgb(0,0,0)"/><rect x="59.50" y="421.10" width="11.30" height="1.20" fill="rgb(3,3,3)"/><rect x="59.50" y="421.70" width="11.30" height="1.20" fill="rgb(3,3,3)"/><rect x="59.50" y="422.30" width="11.30" height="1.20" fill="rgb(0,0,0)"/><rect x="59.50" y="422.90" width="11.30" height="1.20" fill="rgb(0,0,0)"/><rect x="59.50" y="423.50" width="11.30" height="1.20" fill="rgb(0,0,0)"/><rect x="59.50" y="424.10" width="11.30" height="1.20" fill="rgb(6,6,6)"/><rect x="59.50" y="424.70" width="11.30" height="1.20" fill="rgb(1,1,1)"/><rect x="59.50" y="425.30" width="11.30" height="1.20" fill="rgb(0,0,0)"/><rect x="59.50" y="425.90" width="11.30" height="1.20" fill="rgb(6,6,6)"/><rect x="59.50" y="426.50" width="11.30" height="1.20" fill="rgb(0,0,0)"/><rect x="59.50" y="427.10" width="11.30" height="1.20" fill="rgb(0,0,0)"/><rect x="59.50" y="427.70" width="11.30" height="1.20" fill="rgb(6,6,6)"/><rect x="59.50" y="428.30" width="11.30" height="1.20" fill="rgb(0,0,0)"/><rect x="59.50" y="428.90" width="11.30" height="1.20" fill="rgb(0,0,0)"/><rect x="59.50" y="429.50" width="11.30" height="1.20" fill="rgb(0,0,0)"/><rect x="59.50" y="430.10" width="11.30" height="1.20" fill="rgb(2,2,2)"/><rect x="59.50" y="430.70" width="11.30" height="1.20" fill="rgb(0,0,0)"/><rect x="59.50" y="431.30" width="11.30" height="1.20" fill="rgb(0,0,0)"/><rect x="59.50" y="431.90" width="11.30" height="1.20" fill="rgb(6,6,6)"/><rect x="59.50" y="432.50" width="11.30" height="1.20" fill="rgb(6,6,6)"/><rect x="59.50" y="433.10" width="11.30" height="1.20" fill="rgb(0,0,0)"/><rect x="59.50" y="433.70" width="11.30" height="1.20" fill="rgb(0,0,0)"/><rect x="59.50" y="434.30" width="11.30" height="1.20" fill="rgb(3,3,3)"/><rect x="59.50" y="434.90" width="11.30" height="1.20" fill="rgb(1,1,1)"/><rect x="59.50" y="435.50" width="11.30" height="1.20" fill="rgb(0,0,0)"/></g>
<text x="31.3" y="396" font-size="6.6" text-anchor="middle" textLength="45" lengthAdjust="spacingAndGlyphs" transform="rotate(-90 31.3 396)" fill="#333" stroke="#333" stroke-width="0.14" font-family='"Liberation Sans", sans-serif'>Anti-puromycin</text>
<rect x="35.8" y="438.2" width="35.8" height="9.5" fill="#cdcdcd"/>
<g filter="url(#blur1)"><rect x="37.8" y="441.3" width="9.4" height="3.4" rx="1.2" fill="#111"/><rect x="48.6" y="441.3" width="9.4" height="3.4" rx="1.2" fill="#111"/><rect x="60.3" y="441.3" width="9.6" height="3.4" rx="1.2" fill="#111"/></g>
<text x="6.6" y="445.6" font-size="7.3" textLength="26.1" lengthAdjust="spacingAndGlyphs" fill="#333" stroke="#333" stroke-width="0.14" font-family='"Liberation Sans", sans-serif'>β-ACTIN</text>
<text x="90.8" y="350.2" font-size="11.2" font-weight="bold" fill="#111" font-family='"Liberation Sans", sans-serif' stroke="#111" stroke-width="0.35">G</text>
<line x1="113.9" y1="357" x2="113.9" y2="446.4" stroke="#333" stroke-width="1.2"/>
<line x1="113.9" y1="446.4" x2="323" y2="446.4" stroke="#333" stroke-width="1.3"/>
<line x1="116.8" y1="357.5" x2="116.8" y2="446.4" stroke="#222" stroke-width="0.9" stroke-dasharray="2.2 3.2"/>
<line x1="142.7" y1="357.5" x2="142.7" y2="446.4" stroke="#222" stroke-width="0.9" stroke-dasharray="2.2 3.2"/>
<line x1="167.8" y1="357.5" x2="167.8" y2="446.4" stroke="#222" stroke-width="0.9" stroke-dasharray="2.2 3.2"/>
<line x1="192.9" y1="357.5" x2="192.9" y2="446.4" stroke="#222" stroke-width="0.9" stroke-dasharray="2.2 3.2"/>
<line x1="218.2" y1="357.5" x2="218.2" y2="446.4" stroke="#222" stroke-width="0.9" stroke-dasharray="2.2 3.2"/>
<line x1="243.8" y1="357.5" x2="243.8" y2="446.4" stroke="#222" stroke-width="0.9" stroke-dasharray="2.2 3.2"/>
<line x1="269.2" y1="357.5" x2="269.2" y2="446.4" stroke="#222" stroke-width="0.9" stroke-dasharray="2.2 3.2"/>
<line x1="293.9" y1="357.5" x2="293.9" y2="446.4" stroke="#222" stroke-width="0.9" stroke-dasharray="2.2 3.2"/>
<line x1="319.4" y1="357.5" x2="319.4" y2="446.4" stroke="#222" stroke-width="0.9" stroke-dasharray="2.2 3.2"/>
<polyline points="116.5,358.0 117.3,375.0 118.2,395.0 119.5,412.0 120.5,420.0 122.0,430.0 124.2,438.0 127.0,443.0 129.6,445.0 133.0,445.8 137.7,446.0 139.5,444.5 140.4,440.5 142.0,438.6 144.0,438.4 146.5,438.8 148.5,438.6 151.0,439.5 152.5,439.5 154.5,436.5 156.5,432.0 158.0,430.5 160.0,427.0 162.0,424.0 164.0,416.0 165.5,400.0 166.8,375.0 167.7,357.5 168.8,372.0 170.2,400.0 172.0,418.0 174.0,425.0 177.0,429.0 180.0,432.5 183.0,436.0 186.0,438.5 189.0,440.5 192.3,441.4 196.0,442.8 200.0,443.5 204.6,443.5 208.0,443.0 210.8,442.2 213.8,444.0" stroke="#2d5d8e" stroke-width="1.1" fill="none" stroke-linejoin="round"/>
<polyline points="218.5,367.5 219.5,385.0 220.5,405.0 222.0,425.0 224.6,434.6 227.5,441.0 230.0,444.0 232.3,445.3 237.0,445.5 241.5,445.0 243.0,443.5 244.6,441.4 248.0,441.0 251.0,441.0 253.8,440.5 256.0,437.0 258.0,433.5 259.4,431.5 262.0,430.0 264.6,428.5 266.5,420.0 267.8,400.0 269.2,367.5 270.5,385.0 272.0,410.0 273.8,425.4 276.0,431.0 278.5,435.5 281.5,439.2 285.0,441.5 289.0,443.5 293.8,445.0 298.0,445.0 303.0,444.5 308.0,443.0 312.3,441.5 315.4,442.2" stroke="#c42d55" stroke-width="1.1" fill="none" stroke-linejoin="round"/>
<line x1="181" y1="430.8" x2="215.8" y2="430.8" stroke="#5a5a5a" stroke-width="1.2"/>
<line x1="281.5" y1="435.5" x2="315.4" y2="435.5" stroke="#5a5a5a" stroke-width="1.2"/>
<text x="137.2" y="455.8" font-size="6.8" textLength="36" lengthAdjust="spacingAndGlyphs" fill="#333" stroke="#333" stroke-width="0.14" font-family='"Liberation Sans", sans-serif'>40S 60S 80S</text>
<text x="182.1" y="455.8" font-size="6.8" textLength="31.5" lengthAdjust="spacingAndGlyphs" fill="#333" stroke="#333" stroke-width="0.14" font-family='"Liberation Sans", sans-serif'>polysomes</text>
<text x="238.5" y="455.8" font-size="6.8" textLength="33.8" lengthAdjust="spacingAndGlyphs" fill="#333" stroke="#333" stroke-width="0.14" font-family='"Liberation Sans", sans-serif'>40S 60S 80S</text>
<text x="283" y="455.8" font-size="6.8" textLength="30.8" lengthAdjust="spacingAndGlyphs" fill="#333" stroke="#333" stroke-width="0.14" font-family='"Liberation Sans", sans-serif'>polysomes</text>
<text x="97.0" y="402" font-size="7.7" text-anchor="middle" textLength="72.7" lengthAdjust="spacingAndGlyphs" transform="rotate(-90 97.0 402)" fill="#333" stroke="#333" stroke-width="0.14" font-family='"Liberation Sans", sans-serif'>Normalized absorbance</text>
<text x="105.8" y="401.4" font-size="7.7" text-anchor="middle" textLength="22.6" lengthAdjust="spacingAndGlyphs" transform="rotate(-90 105.8 401.4)" fill="#333" stroke="#333" stroke-width="0.14" font-family='"Liberation Sans", sans-serif'>254nm</text>
<line x1="189.4" y1="350" x2="201.9" y2="350" stroke="#2d5d8e" stroke-width="1.3"/>
<text x="204.4" y="352.3" font-size="6.6" textLength="10.6" lengthAdjust="spacingAndGlyphs" fill="#333" stroke="#333" stroke-width="0.14" font-family='"Liberation Sans", sans-serif'>fl/fl</text>
<line x1="220.6" y1="350" x2="233.1" y2="350" stroke="#c42d55" stroke-width="1.3"/>
<text x="236.3" y="352.4" font-size="6.4" textLength="11.2" lengthAdjust="spacingAndGlyphs" fill="#333" stroke="#333" stroke-width="0.14" font-family='"Liberation Serif", serif'>Δ/Δ</text>
<text x="339" y="349.79999999999995" font-size="11.2" font-weight="bold" fill="#111" font-family='"Liberation Sans", sans-serif' stroke="#111" stroke-width="0.35">H</text>
<polyline points="368.4,364.2 402.7,364.2 402.7,370.5 423.3,370.5 423.3,383.2 430.1,383.2 430.1,389.6 437.0,389.6 437.0,414.9 457.6,414.9 457.6,421.2 464.4,421.2 464.4,440.3 498.7,440.3 498.7,446.6" stroke="#c42d55" stroke-width="1.0" fill="none" stroke-linejoin="round"/>
<line x1="368.4" y1="364.2" x2="498" y2="364.2" stroke="#284c80" stroke-width="1.1"/>
<line x1="498" y1="362.8" x2="498" y2="364.2" stroke="#284c80" stroke-width="0.8"/>
<line x1="368.4" y1="356.5" x2="368.4" y2="446.6" stroke="#222" stroke-width="1.3"/>
<line x1="368.4" y1="446.6" x2="506" y2="446.6" stroke="#222" stroke-width="1.3"/>
<line x1="365.4" y1="446.6" x2="368.4" y2="446.6" stroke="#222" stroke-width="1.0"/>
<text x="362.4" y="449.0" font-size="6.9" text-anchor="end" fill="#333" stroke="#333" stroke-width="0.14" font-family='"Liberation Sans", sans-serif'>0</text>
<line x1="365.4" y1="405.40000000000003" x2="368.4" y2="405.40000000000003" stroke="#222" stroke-width="1.0"/>
<text x="362.4" y="407.8" font-size="6.9" text-anchor="end" fill="#333" stroke="#333" stroke-width="0.14" font-family='"Liberation Sans", sans-serif'>50</text>
<line x1="365.4" y1="364.20000000000005" x2="368.4" y2="364.20000000000005" stroke="#222" stroke-width="1.0"/>
<text x="362.4" y="366.6" font-size="6.9" text-anchor="end" fill="#333" stroke="#333" stroke-width="0.14" font-family='"Liberation Sans", sans-serif'>100</text>
<line x1="368.4" y1="446.6" x2="368.4" y2="449.20000000000005" stroke="#222" stroke-width="1.0"/>
<text x="368.4" y="459.2" font-size="6.9" text-anchor="middle" fill="#333" stroke="#333" stroke-width="0.14" font-family='"Liberation Sans", sans-serif'>0</text>
<line x1="402.7" y1="446.6" x2="402.7" y2="449.20000000000005" stroke="#222" stroke-width="1.0"/>
<text x="402.7" y="459.2" font-size="6.9" text-anchor="middle" fill="#333" stroke="#333" stroke-width="0.14" font-family='"Liberation Sans", sans-serif'>5</text>
<line x1="437.0" y1="446.6" x2="437.0" y2="449.20000000000005" stroke="#222" stroke-width="1.0"/>
<text x="437.0" y="459.2" font-size="6.9" text-anchor="middle" fill="#333" stroke="#333" stroke-width="0.14" font-family='"Liberation Sans", sans-serif'>10</text>
<line x1="471.29999999999995" y1="446.6" x2="471.29999999999995" y2="449.20000000000005" stroke="#222" stroke-width="1.0"/>
<text x="471.29999999999995" y="459.2" font-size="6.9" text-anchor="middle" fill="#333" stroke="#333" stroke-width="0.14" font-family='"Liberation Sans", sans-serif'>15</text>
<line x1="505.59999999999997" y1="446.6" x2="505.59999999999997" y2="449.20000000000005" stroke="#222" stroke-width="1.0"/>
<text x="505.59999999999997" y="459.2" font-size="6.9" text-anchor="middle" fill="#333" stroke="#333" stroke-width="0.14" font-family='"Liberation Sans", sans-serif'>20</text>
<text x="413.9" y="470.7" font-size="8.0" textLength="45.6" lengthAdjust="spacingAndGlyphs" fill="#333" stroke="#333" stroke-width="0.14" font-family='"Liberation Sans", sans-serif'>Days after 5-FU</text>
<text x="346.5" y="401.5" font-size="8.0" text-anchor="middle" textLength="37" lengthAdjust="spacingAndGlyphs" transform="rotate(-90 346.5 401.5)" fill="#333" stroke="#333" stroke-width="0.14" font-family='"Liberation Sans", sans-serif'>Survival rate</text>
<line x1="508.2" y1="364.8" x2="508.2" y2="438.2" stroke="#222" stroke-width="1.0"/>
<line x1="504.4" y1="364.8" x2="508.2" y2="364.8" stroke="#222" stroke-width="1.0"/>
<line x1="504.4" y1="438.2" x2="508.2" y2="438.2" stroke="#222" stroke-width="1.0"/>
<circle cx="498.9" cy="402.3" r="0.85" fill="#333"/>
<circle cx="502" cy="402.3" r="0.85" fill="#333"/>
<circle cx="505.1" cy="402.3" r="0.85" fill="#333"/>
<line x1="412" y1="351" x2="421.8" y2="351" stroke="#2d5d8e" stroke-width="1.2"/>
<path d="M415.6 351 L416.9 349.4 L418.2 351 Z" fill="#2d5d8e"/>
<text x="424.7" y="352.6" font-size="6.6" textLength="9.8" lengthAdjust="spacingAndGlyphs" fill="#444" stroke="#444" stroke-width="0.14" font-family='"Liberation Sans", sans-serif'>fl/fl</text>
<line x1="440.3" y1="351" x2="450.1" y2="351" stroke="#c42d55" stroke-width="1.2"/>
<path d="M443.9 351 L445.2 349.4 L446.5 351 Z" fill="#c42d55"/>
<text x="453.6" y="352.8" font-size="6.4" textLength="10.4" lengthAdjust="spacingAndGlyphs" fill="#444" stroke="#444" stroke-width="0.14" font-family='"Liberation Serif", serif'>Δ/Δ</text>
<text x="10.6" y="496.2" font-size="11.2" font-weight="bold" fill="#111" font-family='"Liberation Sans", sans-serif' stroke="#111" stroke-width="0.35">I</text>
<rect x="39.1" y="530.7275000000001" width="11.0" height="50.872499999999995" fill="#8794c6"/>
<line x1="44.6" y1="517.76" x2="44.6" y2="541.7" stroke="#1f4f8c" stroke-width="1.0"/>
<line x1="42.2" y1="517.76" x2="47.0" y2="517.76" stroke="#1f4f8c" stroke-width="1.0"/>
<circle cx="44.6" cy="519.8" r="1.3" fill="#1f4f8c"/>
<rect x="43.4" y="525.5375" width="2.4" height="2.4" fill="#1f4f8c"/>
<path d="M43.1 538.8100000000001 L46.1 538.8100000000001 L44.6 536.21 Z" fill="#1f4f8c"/>
<line x1="44.6" y1="581.6" x2="44.6" y2="584.4" stroke="#222" stroke-width="1.0"/>
<text x="44.6" y="593.7" font-size="6.6" text-anchor="middle" textLength="9.6" lengthAdjust="spacingAndGlyphs" fill="#333" stroke="#333" stroke-width="0.14" font-family='"Liberation Sans", sans-serif'>fl/fl</text>
<rect x="57.1" y="566.039" width="10.8" height="15.561" fill="#ef8c80"/>
<line x1="62.5" y1="560.6525" x2="62.5" y2="570.6275" stroke="#c8172e" stroke-width="1.0"/>
<line x1="60.1" y1="560.6525" x2="64.9" y2="560.6525" stroke="#c8172e" stroke-width="1.0"/>
<circle cx="60.1" cy="562.0" r="1.3" fill="#c8172e"/>
<rect x="64.2" y="561.8465" width="2.4" height="2.4" fill="#c8172e"/>
<path d="M61.0 571.7275000000001 L64.0 571.7275000000001 L62.5 569.1275 Z" fill="#c8172e"/>
<rect x="60.0" y="557.2" width="1.7" height="1.7" fill="#3a3a3a"/>
<rect x="63.2" y="557.2" width="1.7" height="1.7" fill="#3a3a3a"/>
<line x1="62.5" y1="581.6" x2="62.5" y2="584.4" stroke="#222" stroke-width="1.0"/>
<text x="62.5" y="593.7" font-size="6.4" text-anchor="middle" textLength="10.8" lengthAdjust="spacingAndGlyphs" fill="#333" stroke="#333" stroke-width="0.14" font-family='"Liberation Serif", serif'>Δ/Δ</text>
<line x1="31.8" y1="500.8025" x2="31.8" y2="581.6" stroke="#222" stroke-width="1.2"/>
<line x1="31.8" y1="581.6" x2="69.2" y2="581.6" stroke="#222" stroke-width="1.2"/>
<line x1="29.0" y1="581.6" x2="31.8" y2="581.6" stroke="#222" stroke-width="1.0"/>
<text x="27.200000000000003" y="584.0" font-size="6.9" text-anchor="end" fill="#333" stroke="#333" stroke-width="0.14" font-family='"Liberation Sans", sans-serif'>0</text>
<line x1="29.0" y1="561.65" x2="31.8" y2="561.65" stroke="#222" stroke-width="1.0"/>
<text x="27.200000000000003" y="564.05" font-size="6.9" text-anchor="end" fill="#333" stroke="#333" stroke-width="0.14" font-family='"Liberation Sans", sans-serif'>1</text>
<line x1="29.0" y1="541.7" x2="31.8" y2="541.7" stroke="#222" stroke-width="1.0"/>
<text x="27.200000000000003" y="544.1" font-size="6.9" text-anchor="end" fill="#333" stroke="#333" stroke-width="0.14" font-family='"Liberation Sans", sans-serif'>2</text>
<line x1="29.0" y1="521.75" x2="31.8" y2="521.75" stroke="#222" stroke-width="1.0"/>
<text x="27.200000000000003" y="524.15" font-size="6.9" text-anchor="end" fill="#333" stroke="#333" stroke-width="0.14" font-family='"Liberation Sans", sans-serif'>3</text>
<line x1="29.0" y1="501.8" x2="31.8" y2="501.8" stroke="#222" stroke-width="1.0"/>
<text x="27.200000000000003" y="504.2" font-size="6.9" text-anchor="end" fill="#333" stroke="#333" stroke-width="0.14" font-family='"Liberation Sans", sans-serif'>4</text>
<text x="16.4" y="539.8" font-size="7.6" text-anchor="middle" textLength="65" lengthAdjust="spacingAndGlyphs" transform="rotate(-90 16.4 539.8)" fill="#333" stroke="#333" stroke-width="0.14" font-family='"Liberation Sans", sans-serif'>BM cellularity (×10<tspan font-size="4.5" dy="-2.2">7</tspan><tspan dy="2.2">)</tspan></text>
<text x="89.5" y="495.7" font-size="11.2" font-weight="bold" fill="#111" font-family='"Liberation Sans", sans-serif' stroke="#111" stroke-width="0.35">J</text>
<rect x="129.7" y="524.5279999999999" width="10.6" height="56.772000000000006" fill="#8794c6"/>
<line x1="135" y1="509.58799999999997" x2="135" y2="537.476" stroke="#1f4f8c" stroke-width="1.0"/>
<line x1="132.6" y1="509.58799999999997" x2="137.4" y2="509.58799999999997" stroke="#1f4f8c" stroke-width="1.0"/>
<path d="M133.5 511.68399999999997 L136.5 511.68399999999997 L135 509.08399999999995 Z" fill="#1f4f8c"/>
<circle cx="135" cy="526.5" r="1.3" fill="#1f4f8c"/>
<rect x="133.8" y="535.2799999999999" width="2.4" height="2.4" fill="#1f4f8c"/>
<line x1="135" y1="581.3" x2="135" y2="584.0999999999999" stroke="#222" stroke-width="1.0"/>
<text x="135" y="593.4" font-size="6.6" text-anchor="middle" textLength="9.6" lengthAdjust="spacingAndGlyphs" fill="#333" stroke="#333" stroke-width="0.14" font-family='"Liberation Sans", sans-serif'>fl/fl</text>
<rect x="147.39999999999998" y="574.7263999999999" width="10.6" height="6.573600000000001" fill="#ef8c80"/>
<line x1="152.7" y1="566.9576" x2="152.7" y2="581.3" stroke="#c8172e" stroke-width="1.0"/>
<line x1="150.29999999999998" y1="566.9576" x2="155.1" y2="566.9576" stroke="#c8172e" stroke-width="1.0"/>
<circle cx="150.89999999999998" cy="577.3" r="1.3" fill="#c8172e"/>
<rect x="153.5" y="574.1239999999999" width="2.4" height="2.4" fill="#c8172e"/>
<path d="M151.2 568.0576 L154.2 568.0576 L152.7 565.4576 Z" fill="#c8172e"/>
<rect x="150.2" y="562.1" width="1.7" height="1.7" fill="#3a3a3a"/>
<rect x="153.4" y="562.1" width="1.7" height="1.7" fill="#3a3a3a"/>
<line x1="152.7" y1="581.3" x2="152.7" y2="584.0999999999999" stroke="#222" stroke-width="1.0"/>
<text x="152.7" y="593.4" font-size="6.4" text-anchor="middle" textLength="10.8" lengthAdjust="spacingAndGlyphs" fill="#333" stroke="#333" stroke-width="0.14" font-family='"Liberation Serif", serif'>Δ/Δ</text>
<line x1="121.5" y1="500.62399999999997" x2="121.5" y2="581.3" stroke="#222" stroke-width="1.2"/>
<line x1="121.5" y1="581.3" x2="160" y2="581.3" stroke="#222" stroke-width="1.2"/>
<line x1="118.7" y1="581.3" x2="121.5" y2="581.3" stroke="#222" stroke-width="1.0"/>
<text x="116.9" y="583.6999999999999" font-size="6.9" text-anchor="end" fill="#333" stroke="#333" stroke-width="0.14" font-family='"Liberation Sans", sans-serif'>0</text>
<line x1="118.7" y1="561.38" x2="121.5" y2="561.38" stroke="#222" stroke-width="1.0"/>
<text x="116.9" y="563.78" font-size="6.9" text-anchor="end" fill="#333" stroke="#333" stroke-width="0.14" font-family='"Liberation Sans", sans-serif'>1</text>
<line x1="118.7" y1="541.4599999999999" x2="121.5" y2="541.4599999999999" stroke="#222" stroke-width="1.0"/>
<text x="116.9" y="543.8599999999999" font-size="6.9" text-anchor="end" fill="#333" stroke="#333" stroke-width="0.14" font-family='"Liberation Sans", sans-serif'>2</text>
<line x1="118.7" y1="521.54" x2="121.5" y2="521.54" stroke="#222" stroke-width="1.0"/>
<text x="116.9" y="523.9399999999999" font-size="6.9" text-anchor="end" fill="#333" stroke="#333" stroke-width="0.14" font-family='"Liberation Sans", sans-serif'>3</text>
<line x1="118.7" y1="501.61999999999995" x2="121.5" y2="501.61999999999995" stroke="#222" stroke-width="1.0"/>
<text x="116.9" y="504.0199999999999" font-size="6.9" text-anchor="end" fill="#333" stroke="#333" stroke-width="0.14" font-family='"Liberation Sans", sans-serif'>4</text>
<text x="97.0" y="540.4" font-size="7.6" text-anchor="middle" textLength="67.4" lengthAdjust="spacingAndGlyphs" transform="rotate(-90 97.0 540.4)" fill="#333" stroke="#333" stroke-width="0.14" font-family='"Liberation Sans", sans-serif'>Cell number of LT-HSC</text>
<text x="108.5" y="540.4" font-size="7.6" text-anchor="middle" textLength="21.8" lengthAdjust="spacingAndGlyphs" transform="rotate(-90 108.5 540.4)" fill="#333" stroke="#333" stroke-width="0.14" font-family='"Liberation Sans", sans-serif'>(×10<tspan font-size="4.5" dy="-2.2">4</tspan><tspan dy="2.2">)</tspan></text>
<text x="183.6" y="496.2" font-size="11.2" font-weight="bold" fill="#111" font-family='"Liberation Sans", sans-serif' stroke="#111" stroke-width="0.35">K</text>
<line x1="209.4" y1="524.7760000000001" x2="209.4" y2="518.392" stroke="#22558a" stroke-width="0.9"/>
<line x1="207.8" y1="518.392" x2="211.0" y2="518.392" stroke="#22558a" stroke-width="0.9"/>
<line x1="246.8" y1="537.5440000000001" x2="246.8" y2="529.032" stroke="#22558a" stroke-width="0.9"/>
<line x1="245.20000000000002" y1="529.032" x2="248.4" y2="529.032" stroke="#22558a" stroke-width="0.9"/>
<line x1="293.55" y1="551.3760000000001" x2="293.55" y2="542.864" stroke="#22558a" stroke-width="0.9"/>
<line x1="291.95" y1="542.864" x2="295.15000000000003" y2="542.864" stroke="#22558a" stroke-width="0.9"/>
<line x1="302.9" y1="541.8000000000001" x2="302.9" y2="537.5440000000001" stroke="#22558a" stroke-width="0.9"/>
<line x1="301.29999999999995" y1="537.5440000000001" x2="304.5" y2="537.5440000000001" stroke="#22558a" stroke-width="0.9"/>
<line x1="209.4" y1="557.2280000000001" x2="209.4" y2="547.12" stroke="#c8172e" stroke-width="0.9"/>
<line x1="207.8" y1="547.12" x2="211.0" y2="547.12" stroke="#c8172e" stroke-width="0.9"/>
<line x1="246.8" y1="568.4000000000001" x2="246.8" y2="563.08" stroke="#c8172e" stroke-width="0.9"/>
<line x1="245.20000000000002" y1="563.08" x2="248.4" y2="563.08" stroke="#c8172e" stroke-width="0.9"/>
<line x1="293.55" y1="575.316" x2="293.55" y2="574.2520000000001" stroke="#c8172e" stroke-width="0.9"/>
<line x1="291.95" y1="574.2520000000001" x2="295.15000000000003" y2="574.2520000000001" stroke="#c8172e" stroke-width="0.9"/>
<line x1="302.9" y1="575.8480000000001" x2="302.9" y2="574.784" stroke="#c8172e" stroke-width="0.9"/>
<line x1="301.29999999999995" y1="574.784" x2="304.5" y2="574.784" stroke="#c8172e" stroke-width="0.9"/>
<polyline points="209.4,557.2 246.8,568.4 293.6,575.3 302.9,575.8" stroke="#c8172e" stroke-width="1.1" fill="none" stroke-linejoin="round"/>
<polyline points="209.4,524.8 246.8,537.5 293.6,551.4 302.9,541.8" stroke="#22558a" stroke-width="1.1" fill="none" stroke-linejoin="round"/>
<rect x="208.20000000000002" y="556.028" width="2.4" height="2.4" fill="#c8172e"/>
<rect x="245.60000000000002" y="567.2" width="2.4" height="2.4" fill="#c8172e"/>
<rect x="292.35" y="574.116" width="2.4" height="2.4" fill="#c8172e"/>
<rect x="301.7" y="574.648" width="2.4" height="2.4" fill="#c8172e"/>
<rect x="208.20000000000002" y="523.576" width="2.4" height="2.4" fill="#22558a"/>
<rect x="245.60000000000002" y="536.344" width="2.4" height="2.4" fill="#22558a"/>
<rect x="292.35" y="550.176" width="2.4" height="2.4" fill="#22558a"/>
<rect x="301.7" y="540.6" width="2.4" height="2.4" fill="#22558a"/>
<line x1="209.4" y1="499.6" x2="209.4" y2="581.7" stroke="#222" stroke-width="1.2"/>
<line x1="209.4" y1="581.7" x2="305.8" y2="581.7" stroke="#222" stroke-width="1.2"/>
<line x1="206.8" y1="581.7" x2="209.4" y2="581.7" stroke="#222" stroke-width="1.0"/>
<text x="205.0" y="584.0" font-size="6.6" text-anchor="end" fill="#333" stroke="#333" stroke-width="0.14" font-family='"Liberation Sans", sans-serif'>0</text>
<line x1="206.8" y1="555.1" x2="209.4" y2="555.1" stroke="#222" stroke-width="1.0"/>
<text x="205.0" y="557.4" font-size="6.6" text-anchor="end" fill="#333" stroke="#333" stroke-width="0.14" font-family='"Liberation Sans", sans-serif'>5</text>
<line x1="206.8" y1="528.5" x2="209.4" y2="528.5" stroke="#222" stroke-width="1.0"/>
<text x="205.0" y="530.8" font-size="6.6" text-anchor="end" fill="#333" stroke="#333" stroke-width="0.14" font-family='"Liberation Sans", sans-serif'>10</text>
<line x1="206.8" y1="501.90000000000003" x2="209.4" y2="501.90000000000003" stroke="#222" stroke-width="1.0"/>
<text x="205.0" y="504.20000000000005" font-size="6.6" text-anchor="end" fill="#333" stroke="#333" stroke-width="0.14" font-family='"Liberation Sans", sans-serif'>15</text>
<line x1="209.4" y1="581.7" x2="209.4" y2="584.3000000000001" stroke="#222" stroke-width="1.0"/>
<text x="209.4" y="593.8" font-size="6.6" text-anchor="middle" fill="#333" stroke="#333" stroke-width="0.14" font-family='"Liberation Sans", sans-serif'>0</text>
<line x1="228.1" y1="581.7" x2="228.1" y2="584.3000000000001" stroke="#222" stroke-width="1.0"/>
<text x="228.1" y="593.8" font-size="6.6" text-anchor="middle" fill="#333" stroke="#333" stroke-width="0.14" font-family='"Liberation Sans", sans-serif'>2</text>
<line x1="246.8" y1="581.7" x2="246.8" y2="584.3000000000001" stroke="#222" stroke-width="1.0"/>
<text x="246.8" y="593.8" font-size="6.6" text-anchor="middle" fill="#333" stroke="#333" stroke-width="0.14" font-family='"Liberation Sans", sans-serif'>4</text>
<line x1="265.5" y1="581.7" x2="265.5" y2="584.3000000000001" stroke="#222" stroke-width="1.0"/>
<text x="265.5" y="593.8" font-size="6.6" text-anchor="middle" fill="#333" stroke="#333" stroke-width="0.14" font-family='"Liberation Sans", sans-serif'>6</text>
<line x1="284.2" y1="581.7" x2="284.2" y2="584.3000000000001" stroke="#222" stroke-width="1.0"/>
<text x="284.2" y="593.8" font-size="6.6" text-anchor="middle" fill="#333" stroke="#333" stroke-width="0.14" font-family='"Liberation Sans", sans-serif'>8</text>
<line x1="302.9" y1="581.7" x2="302.9" y2="584.3000000000001" stroke="#222" stroke-width="1.0"/>
<text x="302.9" y="593.8" font-size="6.6" text-anchor="middle" fill="#333" stroke="#333" stroke-width="0.14" font-family='"Liberation Sans", sans-serif'>10</text>
<rect x="213.0" y="522.0" width="1.6" height="1.6" fill="#3a3a3a"/>
<rect x="216.0" y="522.0" width="1.6" height="1.6" fill="#3a3a3a"/>
<rect x="219.0" y="522.0" width="1.6" height="1.6" fill="#3a3a3a"/>
<rect x="242.7" y="525.7" width="1.6" height="1.6" fill="#3a3a3a"/>
<rect x="245.7" y="525.7" width="1.6" height="1.6" fill="#3a3a3a"/>
<rect x="248.7" y="525.7" width="1.6" height="1.6" fill="#3a3a3a"/>
<rect x="289.5" y="539.2" width="1.6" height="1.6" fill="#3a3a3a"/>
<rect x="292.5" y="539.2" width="1.6" height="1.6" fill="#3a3a3a"/>
<rect x="295.5" y="539.2" width="1.6" height="1.6" fill="#3a3a3a"/>
<rect x="298.7" y="534.8" width="1.6" height="1.6" fill="#3a3a3a"/>
<rect x="301.7" y="534.8" width="1.6" height="1.6" fill="#3a3a3a"/>
<rect x="304.7" y="534.8" width="1.6" height="1.6" fill="#3a3a3a"/>
<line x1="308.7" y1="502.9" x2="317.2" y2="502.9" stroke="#22558a" stroke-width="1.1"/>
<rect x="311.9" y="501.79999999999995" width="2.2" height="2.2" fill="#22558a"/>
<text x="320.59999999999997" y="505.2" font-size="6.8" textLength="9.6" lengthAdjust="spacingAndGlyphs" fill="#333" stroke="#333" stroke-width="0.14" font-family='"Liberation Serif", serif'>fl/fl</text>
<line x1="308.7" y1="512.5" x2="317.2" y2="512.5" stroke="#c8172e" stroke-width="1.1"/>
<rect x="311.9" y="511.4" width="2.2" height="2.2" fill="#c8172e"/>
<text x="320.59999999999997" y="514.9" font-size="6.4" textLength="10.6" lengthAdjust="spacingAndGlyphs" fill="#333" stroke="#333" stroke-width="0.14" font-family='"Liberation Serif", serif'>Δ/Δ</text>
<text x="190.3" y="540.7" font-size="7.5" text-anchor="middle" textLength="45.5" lengthAdjust="spacingAndGlyphs" transform="rotate(-90 190.3 540.7)" fill="#333" stroke="#333" stroke-width="0.14" font-family='"Liberation Sans", sans-serif'>RBC (×10<tspan font-size="4.5" dy="-2.2">12</tspan><tspan dy="2.2">/L)</tspan></text>
<line x1="383.3" y1="557.0" x2="383.3" y2="555.04" stroke="#22558a" stroke-width="0.9"/>
<line x1="381.7" y1="555.04" x2="384.90000000000003" y2="555.04" stroke="#22558a" stroke-width="0.9"/>
<line x1="419.98" y1="564.84" x2="419.98" y2="559.94" stroke="#22558a" stroke-width="0.9"/>
<line x1="418.38" y1="559.94" x2="421.58000000000004" y2="559.94" stroke="#22558a" stroke-width="0.9"/>
<line x1="465.83000000000004" y1="570.72" x2="465.83000000000004" y2="568.76" stroke="#22558a" stroke-width="0.9"/>
<line x1="464.23" y1="568.76" x2="467.43000000000006" y2="568.76" stroke="#22558a" stroke-width="0.9"/>
<line x1="475.0" y1="534.46" x2="475.0" y2="524.66" stroke="#22558a" stroke-width="0.9"/>
<line x1="473.4" y1="524.66" x2="476.6" y2="524.66" stroke="#22558a" stroke-width="0.9"/>
<line x1="383.3" y1="553.08" x2="383.3" y2="542.3" stroke="#c8172e" stroke-width="0.9"/>
<line x1="381.7" y1="542.3" x2="384.90000000000003" y2="542.3" stroke="#c8172e" stroke-width="0.9"/>
<line x1="419.98" y1="566.8" x2="419.98" y2="565.82" stroke="#c8172e" stroke-width="0.9"/>
<line x1="418.38" y1="565.82" x2="421.58000000000004" y2="565.82" stroke="#c8172e" stroke-width="0.9"/>
<polyline points="383.3,553.1 420.0,566.8 465.8,580.5 475.0,581.1" stroke="#c8172e" stroke-width="1.1" fill="none" stroke-linejoin="round"/>
<polyline points="383.3,557.0 420.0,564.8 465.8,570.7 475.0,534.5" stroke="#22558a" stroke-width="1.1" fill="none" stroke-linejoin="round"/>
<rect x="382.1" y="551.88" width="2.4" height="2.4" fill="#c8172e"/>
<rect x="418.78000000000003" y="565.5999999999999" width="2.4" height="2.4" fill="#c8172e"/>
<rect x="464.63000000000005" y="579.3199999999999" width="2.4" height="2.4" fill="#c8172e"/>
<rect x="473.8" y="579.9079999999999" width="2.4" height="2.4" fill="#c8172e"/>
<rect x="382.1" y="555.8" width="2.4" height="2.4" fill="#22558a"/>
<rect x="418.78000000000003" y="563.64" width="2.4" height="2.4" fill="#22558a"/>
<rect x="464.63000000000005" y="569.52" width="2.4" height="2.4" fill="#22558a"/>
<rect x="473.8" y="533.26" width="2.4" height="2.4" fill="#22558a"/>
<line x1="383.3" y1="501.2" x2="383.3" y2="581.5" stroke="#222" stroke-width="1.2"/>
<line x1="383.3" y1="581.5" x2="477.3" y2="581.5" stroke="#222" stroke-width="1.2"/>
<line x1="380.7" y1="581.5" x2="383.3" y2="581.5" stroke="#222" stroke-width="1.0"/>
<text x="378.90000000000003" y="583.8" font-size="6.6" text-anchor="end" fill="#333" stroke="#333" stroke-width="0.14" font-family='"Liberation Sans", sans-serif'>0</text>
<line x1="380.7" y1="561.9" x2="383.3" y2="561.9" stroke="#222" stroke-width="1.0"/>
<text x="378.90000000000003" y="564.1999999999999" font-size="6.6" text-anchor="end" fill="#333" stroke="#333" stroke-width="0.14" font-family='"Liberation Sans", sans-serif'>1000</text>
<line x1="380.7" y1="542.3" x2="383.3" y2="542.3" stroke="#222" stroke-width="1.0"/>
<text x="378.90000000000003" y="544.5999999999999" font-size="6.6" text-anchor="end" fill="#333" stroke="#333" stroke-width="0.14" font-family='"Liberation Sans", sans-serif'>2000</text>
<line x1="380.7" y1="522.7" x2="383.3" y2="522.7" stroke="#222" stroke-width="1.0"/>
<text x="378.90000000000003" y="525.0" font-size="6.6" text-anchor="end" fill="#333" stroke="#333" stroke-width="0.14" font-family='"Liberation Sans", sans-serif'>3000</text>
<line x1="380.7" y1="503.1" x2="383.3" y2="503.1" stroke="#222" stroke-width="1.0"/>
<text x="378.90000000000003" y="505.40000000000003" font-size="6.6" text-anchor="end" fill="#333" stroke="#333" stroke-width="0.14" font-family='"Liberation Sans", sans-serif'>4000</text>
<line x1="383.3" y1="581.5" x2="383.3" y2="584.1" stroke="#222" stroke-width="1.0"/>
<text x="383.3" y="593.6" font-size="6.6" text-anchor="middle" fill="#333" stroke="#333" stroke-width="0.14" font-family='"Liberation Sans", sans-serif'>0</text>
<line x1="401.64" y1="581.5" x2="401.64" y2="584.1" stroke="#222" stroke-width="1.0"/>
<text x="401.64" y="593.6" font-size="6.6" text-anchor="middle" fill="#333" stroke="#333" stroke-width="0.14" font-family='"Liberation Sans", sans-serif'>2</text>
<line x1="419.98" y1="581.5" x2="419.98" y2="584.1" stroke="#222" stroke-width="1.0"/>
<text x="419.98" y="593.6" font-size="6.6" text-anchor="middle" fill="#333" stroke="#333" stroke-width="0.14" font-family='"Liberation Sans", sans-serif'>4</text>
<line x1="438.32" y1="581.5" x2="438.32" y2="584.1" stroke="#222" stroke-width="1.0"/>
<text x="438.32" y="593.6" font-size="6.6" text-anchor="middle" fill="#333" stroke="#333" stroke-width="0.14" font-family='"Liberation Sans", sans-serif'>6</text>
<line x1="456.66" y1="581.5" x2="456.66" y2="584.1" stroke="#222" stroke-width="1.0"/>
<text x="456.66" y="593.6" font-size="6.6" text-anchor="middle" fill="#333" stroke="#333" stroke-width="0.14" font-family='"Liberation Sans", sans-serif'>8</text>
<line x1="475.0" y1="581.5" x2="475.0" y2="584.1" stroke="#222" stroke-width="1.0"/>
<text x="475.0" y="593.6" font-size="6.6" text-anchor="middle" fill="#333" stroke="#333" stroke-width="0.14" font-family='"Liberation Sans", sans-serif'>10</text>
<rect x="460.0" y="556.2" width="1.6" height="1.6" fill="#3a3a3a"/>
<rect x="463.0" y="556.2" width="1.6" height="1.6" fill="#3a3a3a"/>
<rect x="466.0" y="556.2" width="1.6" height="1.6" fill="#3a3a3a"/>
<rect x="471.0" y="521.2" width="1.6" height="1.6" fill="#3a3a3a"/>
<rect x="474.0" y="521.2" width="1.6" height="1.6" fill="#3a3a3a"/>
<rect x="477.0" y="521.2" width="1.6" height="1.6" fill="#3a3a3a"/>
<line x1="481.2" y1="504" x2="489.7" y2="504" stroke="#22558a" stroke-width="1.1"/>
<rect x="484.4" y="502.9" width="2.2" height="2.2" fill="#22558a"/>
<text x="493.09999999999997" y="506.3" font-size="6.8" textLength="9.6" lengthAdjust="spacingAndGlyphs" fill="#333" stroke="#333" stroke-width="0.14" font-family='"Liberation Serif", serif'>fl/fl</text>
<line x1="481.2" y1="514.6" x2="489.7" y2="514.6" stroke="#c8172e" stroke-width="1.1"/>
<rect x="484.4" y="513.5" width="2.2" height="2.2" fill="#c8172e"/>
<text x="493.09999999999997" y="517.0" font-size="6.4" textLength="10.6" lengthAdjust="spacingAndGlyphs" fill="#333" stroke="#333" stroke-width="0.14" font-family='"Liberation Serif", serif'>Δ/Δ</text>
<text x="356.3" y="540.6" font-size="7.5" text-anchor="middle" textLength="38.2" lengthAdjust="spacingAndGlyphs" transform="rotate(-90 356.3 540.6)" fill="#333" stroke="#333" stroke-width="0.14" font-family='"Liberation Sans", sans-serif'>PLT (×10<tspan font-size="4.5" dy="-2.2">9</tspan><tspan dy="2.2">/L)</tspan></text>
<line x1="282.3" y1="646.072" x2="282.3" y2="631.1" stroke="#22558a" stroke-width="0.9"/>
<line x1="280.7" y1="631.1" x2="283.90000000000003" y2="631.1" stroke="#22558a" stroke-width="0.9"/>
<line x1="319.14" y1="660.2560000000001" x2="319.14" y2="649.224" stroke="#22558a" stroke-width="0.9"/>
<line x1="317.53999999999996" y1="649.224" x2="320.74" y2="649.224" stroke="#22558a" stroke-width="0.9"/>
<line x1="365.19000000000005" y1="666.5600000000001" x2="365.19000000000005" y2="658.6800000000001" stroke="#22558a" stroke-width="0.9"/>
<line x1="363.59000000000003" y1="658.6800000000001" x2="366.7900000000001" y2="658.6800000000001" stroke="#22558a" stroke-width="0.9"/>
<line x1="374.40000000000003" y1="660.6500000000001" x2="374.40000000000003" y2="655.922" stroke="#22558a" stroke-width="0.9"/>
<line x1="372.8" y1="655.922" x2="376.00000000000006" y2="655.922" stroke="#22558a" stroke-width="0.9"/>
<line x1="282.3" y1="654.74" x2="282.3" y2="644.8900000000001" stroke="#c8172e" stroke-width="0.9"/>
<line x1="280.7" y1="644.8900000000001" x2="283.90000000000003" y2="644.8900000000001" stroke="#c8172e" stroke-width="0.9"/>
<line x1="319.14" y1="668.9240000000001" x2="319.14" y2="668.1360000000001" stroke="#c8172e" stroke-width="0.9"/>
<line x1="317.53999999999996" y1="668.1360000000001" x2="320.74" y2="668.1360000000001" stroke="#c8172e" stroke-width="0.9"/>
<line x1="365.19000000000005" y1="681.138" x2="365.19000000000005" y2="676.4100000000001" stroke="#c8172e" stroke-width="0.9"/>
<line x1="363.59000000000003" y1="676.4100000000001" x2="366.7900000000001" y2="676.4100000000001" stroke="#c8172e" stroke-width="0.9"/>
<line x1="374.40000000000003" y1="685.8660000000001" x2="374.40000000000003" y2="684.2900000000001" stroke="#c8172e" stroke-width="0.9"/>
<line x1="372.8" y1="684.2900000000001" x2="376.00000000000006" y2="684.2900000000001" stroke="#c8172e" stroke-width="0.9"/>
<polyline points="282.3,654.7 319.1,668.9 365.2,681.1 374.4,685.9" stroke="#c8172e" stroke-width="1.1" fill="none" stroke-linejoin="round"/>
<polyline points="282.3,646.1 319.1,660.3 365.2,666.6 374.4,660.7" stroke="#22558a" stroke-width="1.1" fill="none" stroke-linejoin="round"/>
<rect x="281.1" y="653.54" width="2.4" height="2.4" fill="#c8172e"/>
<rect x="317.94" y="667.724" width="2.4" height="2.4" fill="#c8172e"/>
<rect x="363.99000000000007" y="679.938" width="2.4" height="2.4" fill="#c8172e"/>
<rect x="373.20000000000005" y="684.666" width="2.4" height="2.4" fill="#c8172e"/>
<rect x="281.1" y="644.872" width="2.4" height="2.4" fill="#22558a"/>
<rect x="317.94" y="659.056" width="2.4" height="2.4" fill="#22558a"/>
<rect x="363.99000000000007" y="665.36" width="2.4" height="2.4" fill="#22558a"/>
<rect x="373.20000000000005" y="659.45" width="2.4" height="2.4" fill="#22558a"/>
<line x1="282.3" y1="608.1" x2="282.3" y2="690.2" stroke="#222" stroke-width="1.2"/>
<line x1="282.3" y1="690.2" x2="376.5" y2="690.2" stroke="#222" stroke-width="1.2"/>
<line x1="279.7" y1="690.2" x2="282.3" y2="690.2" stroke="#222" stroke-width="1.0"/>
<text x="277.90000000000003" y="692.5" font-size="6.6" text-anchor="end" fill="#333" stroke="#333" stroke-width="0.14" font-family='"Liberation Sans", sans-serif'>0</text>
<line x1="279.7" y1="670.5" x2="282.3" y2="670.5" stroke="#222" stroke-width="1.0"/>
<text x="277.90000000000003" y="672.8" font-size="6.6" text-anchor="end" fill="#333" stroke="#333" stroke-width="0.14" font-family='"Liberation Sans", sans-serif'>5</text>
<line x1="279.7" y1="650.8000000000001" x2="282.3" y2="650.8000000000001" stroke="#222" stroke-width="1.0"/>
<text x="277.90000000000003" y="653.1" font-size="6.6" text-anchor="end" fill="#333" stroke="#333" stroke-width="0.14" font-family='"Liberation Sans", sans-serif'>10</text>
<line x1="279.7" y1="631.1" x2="282.3" y2="631.1" stroke="#222" stroke-width="1.0"/>
<text x="277.90000000000003" y="633.4" font-size="6.6" text-anchor="end" fill="#333" stroke="#333" stroke-width="0.14" font-family='"Liberation Sans", sans-serif'>15</text>
<line x1="279.7" y1="611.4000000000001" x2="282.3" y2="611.4000000000001" stroke="#222" stroke-width="1.0"/>
<text x="277.90000000000003" y="613.7" font-size="6.6" text-anchor="end" fill="#333" stroke="#333" stroke-width="0.14" font-family='"Liberation Sans", sans-serif'>20</text>
<line x1="282.3" y1="690.2" x2="282.3" y2="692.8000000000001" stroke="#222" stroke-width="1.0"/>
<text x="282.3" y="702" font-size="6.6" text-anchor="middle" fill="#333" stroke="#333" stroke-width="0.14" font-family='"Liberation Sans", sans-serif'>0</text>
<line x1="300.72" y1="690.2" x2="300.72" y2="692.8000000000001" stroke="#222" stroke-width="1.0"/>
<text x="300.72" y="702" font-size="6.6" text-anchor="middle" fill="#333" stroke="#333" stroke-width="0.14" font-family='"Liberation Sans", sans-serif'>2</text>
<line x1="319.14" y1="690.2" x2="319.14" y2="692.8000000000001" stroke="#222" stroke-width="1.0"/>
<text x="319.14" y="702" font-size="6.6" text-anchor="middle" fill="#333" stroke="#333" stroke-width="0.14" font-family='"Liberation Sans", sans-serif'>4</text>
<line x1="337.56" y1="690.2" x2="337.56" y2="692.8000000000001" stroke="#222" stroke-width="1.0"/>
<text x="337.56" y="702" font-size="6.6" text-anchor="middle" fill="#333" stroke="#333" stroke-width="0.14" font-family='"Liberation Sans", sans-serif'>6</text>
<line x1="355.98" y1="690.2" x2="355.98" y2="692.8000000000001" stroke="#222" stroke-width="1.0"/>
<text x="355.98" y="702" font-size="6.6" text-anchor="middle" fill="#333" stroke="#333" stroke-width="0.14" font-family='"Liberation Sans", sans-serif'>8</text>
<line x1="374.40000000000003" y1="690.2" x2="374.40000000000003" y2="692.8000000000001" stroke="#222" stroke-width="1.0"/>
<text x="374.40000000000003" y="702" font-size="6.6" text-anchor="middle" fill="#333" stroke="#333" stroke-width="0.14" font-family='"Liberation Sans", sans-serif'>10</text>
<rect x="362.0" y="654.4" width="1.6" height="1.6" fill="#3a3a3a"/>
<rect x="365.0" y="654.4" width="1.6" height="1.6" fill="#3a3a3a"/>
<rect x="368.0" y="654.4" width="1.6" height="1.6" fill="#3a3a3a"/>
<rect x="371.4" y="650.4" width="1.6" height="1.6" fill="#3a3a3a"/>
<rect x="374.4" y="650.4" width="1.6" height="1.6" fill="#3a3a3a"/>
<rect x="377.4" y="650.4" width="1.6" height="1.6" fill="#3a3a3a"/>
<line x1="381.2" y1="611.2" x2="389.7" y2="611.2" stroke="#22558a" stroke-width="1.1"/>
<rect x="384.4" y="610.1" width="2.2" height="2.2" fill="#22558a"/>
<text x="393.09999999999997" y="613.5" font-size="6.8" textLength="9.6" lengthAdjust="spacingAndGlyphs" fill="#333" stroke="#333" stroke-width="0.14" font-family='"Liberation Serif", serif'>fl/fl</text>
<line x1="381.2" y1="621.3" x2="389.7" y2="621.3" stroke="#c8172e" stroke-width="1.1"/>
<rect x="384.4" y="620.1999999999999" width="2.2" height="2.2" fill="#c8172e"/>
<text x="393.09999999999997" y="623.6999999999999" font-size="6.4" textLength="10.6" lengthAdjust="spacingAndGlyphs" fill="#333" stroke="#333" stroke-width="0.14" font-family='"Liberation Serif", serif'>Δ/Δ</text>
<text x="263.2" y="649.2" font-size="7.5" text-anchor="middle" textLength="44.6" lengthAdjust="spacingAndGlyphs" transform="rotate(-90 263.2 649.2)" fill="#333" stroke="#333" stroke-width="0.14" font-family='"Liberation Sans", sans-serif'>WBC (×10<tspan font-size="4.5" dy="-2.2">9</tspan><tspan dy="2.2">/L)</tspan></text>
<text x="40.6" y="618.0" font-size="11.2" font-weight="bold" fill="#111" font-family='"Liberation Sans", sans-serif' stroke="#111" stroke-width="0.35">L</text>
<text x="85.3" y="619.2" font-size="6.4" textLength="9.4" lengthAdjust="spacingAndGlyphs" transform="rotate(-55 85.3 619.2)" fill="#444" stroke="#444" stroke-width="0.14" font-family='"Liberation Sans", sans-serif'>fl/fl</text>
<text x="97.3" y="619.2" font-size="6.2" textLength="9.4" lengthAdjust="spacingAndGlyphs" transform="rotate(-55 97.3 619.2)" fill="#444" stroke="#444" stroke-width="0.14" font-family='"Liberation Serif", serif'>Δ/Δ</text>
<text x="109.0" y="619.2" font-size="6.4" textLength="9.4" lengthAdjust="spacingAndGlyphs" transform="rotate(-55 109.0 619.2)" fill="#444" stroke="#444" stroke-width="0.14" font-family='"Liberation Sans", sans-serif'>fl/fl</text>
<text x="121.3" y="619.2" font-size="6.2" textLength="9.4" lengthAdjust="spacingAndGlyphs" transform="rotate(-55 121.3 619.2)" fill="#444" stroke="#444" stroke-width="0.14" font-family='"Liberation Serif", serif'>Δ/Δ</text>
<text x="61.4" y="628" font-size="6.6" textLength="13.5" lengthAdjust="spacingAndGlyphs" fill="#333" stroke="#333" stroke-width="0.14" font-family='"Liberation Sans", sans-serif'>5-FU</text>
<text x="87" y="628.2" font-size="7.2" text-anchor="middle" fill="#444" stroke="#444" stroke-width="0.14" font-family='"Liberation Sans", sans-serif'>–</text>
<text x="98.8" y="628.2" font-size="7.2" text-anchor="middle" fill="#444" stroke="#444" stroke-width="0.14" font-family='"Liberation Sans", sans-serif'>–</text>
<text x="110.3" y="628.2" font-size="7.2" text-anchor="middle" fill="#444" stroke="#444" stroke-width="0.14" font-family='"Liberation Sans", sans-serif'>+</text>
<text x="122.6" y="628.2" font-size="7.2" text-anchor="middle" fill="#444" stroke="#444" stroke-width="0.14" font-family='"Liberation Sans", sans-serif'>+</text>
<rect x="79.4" y="629.6" width="51.2" height="56.5" fill="#f8f8f8"/>
<g filter="url(#bl)"><rect x="81.00" y="629.80" width="11.20" height="1.20" fill="rgb(215,215,215)"/><rect x="81.00" y="630.40" width="11.20" height="1.20" fill="rgb(212,212,212)"/><rect x="81.00" y="631.00" width="11.20" height="1.20" fill="rgb(205,205,205)"/><rect x="81.00" y="631.60" width="11.20" height="1.20" fill="rgb(206,206,206)"/><rect x="81.00" y="632.20" width="11.20" height="1.20" fill="rgb(202,202,202)"/><rect x="81.00" y="632.80" width="11.20" height="1.20" fill="rgb(198,198,198)"/><rect x="81.00" y="633.40" width="11.20" height="1.20" fill="rgb(199,199,199)"/><rect x="81.00" y="634.00" width="11.20" height="1.20" fill="rgb(191,191,191)"/><rect x="81.00" y="634.60" width="11.20" height="1.20" fill="rgb(186,186,186)"/><rect x="81.00" y="635.20" width="11.20" height="1.20" fill="rgb(180,180,180)"/><rect x="81.00" y="635.80" width="11.20" height="1.20" fill="rgb(184,184,184)"/><rect x="81.00" y="636.40" width="11.20" height="1.20" fill="rgb(178,178,178)"/><rect x="81.00" y="637.00" width="11.20" height="1.20" fill="rgb(176,176,176)"/><rect x="81.00" y="637.60" width="11.20" height="1.20" fill="rgb(162,162,162)"/><rect x="81.00" y="638.20" width="11.20" height="1.20" fill="rgb(157,157,157)"/><rect x="81.00" y="638.80" width="11.20" height="1.20" fill="rgb(158,158,158)"/><rect x="81.00" y="639.40" width="11.20" height="1.20" fill="rgb(141,141,141)"/><rect x="81.00" y="640.00" width="11.20" height="1.20" fill="rgb(135,135,135)"/><rect x="81.00" y="640.60" width="11.20" height="1.20" fill="rgb(127,127,127)"/><rect x="81.00" y="641.20" width="11.20" height="1.20" fill="rgb(117,117,117)"/><rect x="81.00" y="641.80" width="11.20" height="1.20" fill="rgb(111,111,111)"/><rect x="81.00" y="642.40" width="11.20" height="1.20" fill="rgb(102,102,102)"/><rect x="81.00" y="643.00" width="11.20" height="1.20" fill="rgb(86,86,86)"/><rect x="81.00" y="643.60" width="11.20" height="1.20" fill="rgb(81,81,81)"/><rect x="81.00" y="644.20" width="11.20" height="1.20" fill="rgb(70,70,70)"/><rect x="81.00" y="644.80" width="11.20" height="1.20" fill="rgb(60,60,60)"/><rect x="81.00" y="645.40" width="11.20" height="1.20" fill="rgb(53,53,53)"/><rect x="81.00" y="646.00" width="11.20" height="1.20" fill="rgb(39,39,39)"/><rect x="81.00" y="646.60" width="11.20" height="1.20" fill="rgb(41,41,41)"/><rect x="81.00" y="647.20" width="11.20" height="1.20" fill="rgb(38,38,38)"/><rect x="81.00" y="647.80" width="11.20" height="1.20" fill="rgb(44,44,44)"/><rect x="81.00" y="648.40" width="11.20" height="1.20" fill="rgb(44,44,44)"/><rect x="81.00" y="649.00" width="11.20" height="1.20" fill="rgb(47,47,47)"/><rect x="81.00" y="649.60" width="11.20" height="1.20" fill="rgb(45,45,45)"/><rect x="81.00" y="650.20" width="11.20" height="1.20" fill="rgb(46,46,46)"/><rect x="81.00" y="650.80" width="11.20" height="1.20" fill="rgb(47,47,47)"/><rect x="81.00" y="651.40" width="11.20" height="1.20" fill="rgb(39,39,39)"/><rect x="81.00" y="652.00" width="11.20" height="1.20" fill="rgb(38,38,38)"/><rect x="81.00" y="652.60" width="11.20" height="1.20" fill="rgb(33,33,33)"/><rect x="81.00" y="653.20" width="11.20" height="1.20" fill="rgb(28,28,28)"/><rect x="81.00" y="653.80" width="11.20" height="1.20" fill="rgb(26,26,26)"/><rect x="81.00" y="654.40" width="11.20" height="1.20" fill="rgb(20,20,20)"/><rect x="81.00" y="655.00" width="11.20" height="1.20" fill="rgb(13,13,13)"/><rect x="81.00" y="655.60" width="11.20" height="1.20" fill="rgb(18,18,18)"/><rect x="81.00" y="656.20" width="11.20" height="1.20" fill="rgb(14,14,14)"/><rect x="81.00" y="656.80" width="11.20" height="1.20" fill="rgb(21,21,21)"/><rect x="81.00" y="657.40" width="11.20" height="1.20" fill="rgb(19,19,19)"/><rect x="81.00" y="658.00" width="11.20" height="1.20" fill="rgb(27,27,27)"/><rect x="81.00" y="658.60" width="11.20" height="1.20" fill="rgb(32,32,32)"/><rect x="81.00" y="659.20" width="11.20" height="1.20" fill="rgb(44,44,44)"/><rect x="81.00" y="659.80" width="11.20" height="1.20" fill="rgb(65,65,65)"/><rect x="81.00" y="660.40" width="11.20" height="1.20" fill="rgb(74,74,74)"/><rect x="81.00" y="661.00" width="11.20" height="1.20" fill="rgb(77,77,77)"/><rect x="81.00" y="661.60" width="11.20" height="1.20" fill="rgb(86,86,86)"/><rect x="81.00" y="662.20" width="11.20" height="1.20" fill="rgb(84,84,84)"/><rect x="81.00" y="662.80" width="11.20" height="1.20" fill="rgb(94,94,94)"/><rect x="81.00" y="663.40" width="11.20" height="1.20" fill="rgb(102,102,102)"/><rect x="81.00" y="664.00" width="11.20" height="1.20" fill="rgb(100,100,100)"/><rect x="81.00" y="664.60" width="11.20" height="1.20" fill="rgb(102,102,102)"/><rect x="81.00" y="665.20" width="11.20" height="1.20" fill="rgb(111,111,111)"/><rect x="81.00" y="665.80" width="11.20" height="1.20" fill="rgb(114,114,114)"/><rect x="81.00" y="666.40" width="11.20" height="1.20" fill="rgb(113,113,113)"/><rect x="81.00" y="667.00" width="11.20" height="1.20" fill="rgb(108,108,108)"/><rect x="81.00" y="667.60" width="11.20" height="1.20" fill="rgb(112,112,112)"/><rect x="81.00" y="668.20" width="11.20" height="1.20" fill="rgb(120,120,120)"/><rect x="81.00" y="668.80" width="11.20" height="1.20" fill="rgb(120,120,120)"/><rect x="81.00" y="669.40" width="11.20" height="1.20" fill="rgb(121,121,121)"/><rect x="81.00" y="670.00" width="11.20" height="1.20" fill="rgb(119,119,119)"/><rect x="81.00" y="670.60" width="11.20" height="1.20" fill="rgb(109,109,109)"/><rect x="81.00" y="671.20" width="11.20" height="1.20" fill="rgb(114,114,114)"/><rect x="81.00" y="671.80" width="11.20" height="1.20" fill="rgb(108,108,108)"/><rect x="81.00" y="672.40" width="11.20" height="1.20" fill="rgb(109,109,109)"/><rect x="81.00" y="673.00" width="11.20" height="1.20" fill="rgb(114,114,114)"/><rect x="81.00" y="673.60" width="11.20" height="1.20" fill="rgb(111,111,111)"/><rect x="81.00" y="674.20" width="11.20" height="1.20" fill="rgb(119,119,119)"/><rect x="81.00" y="674.80" width="11.20" height="1.20" fill="rgb(116,116,116)"/><rect x="81.00" y="675.40" width="11.20" height="1.20" fill="rgb(120,120,120)"/><rect x="81.00" y="676.00" width="11.20" height="1.20" fill="rgb(112,112,112)"/><rect x="81.00" y="676.60" width="11.20" height="1.20" fill="rgb(110,110,110)"/><rect x="81.00" y="677.20" width="11.20" height="1.20" fill="rgb(105,105,105)"/><rect x="81.00" y="677.80" width="11.20" height="1.20" fill="rgb(93,93,93)"/><rect x="81.00" y="678.40" width="11.20" height="1.20" fill="rgb(95,95,95)"/><rect x="81.00" y="679.00" width="11.20" height="1.20" fill="rgb(104,104,104)"/><rect x="81.00" y="679.60" width="11.20" height="1.20" fill="rgb(101,101,101)"/><rect x="81.00" y="680.20" width="11.20" height="1.20" fill="rgb(111,111,111)"/><rect x="81.00" y="680.80" width="11.20" height="1.20" fill="rgb(112,112,112)"/><rect x="81.00" y="681.40" width="11.20" height="1.20" fill="rgb(115,115,115)"/><rect x="81.00" y="682.00" width="11.20" height="1.20" fill="rgb(127,127,127)"/><rect x="81.00" y="682.60" width="11.20" height="1.20" fill="rgb(142,142,142)"/><rect x="81.00" y="683.20" width="11.20" height="1.20" fill="rgb(143,143,143)"/><rect x="81.00" y="683.80" width="11.20" height="1.20" fill="rgb(161,161,161)"/><rect x="81.00" y="684.40" width="11.20" height="1.20" fill="rgb(172,172,172)"/><rect x="81.00" y="685.00" width="11.20" height="1.20" fill="rgb(180,180,180)"/><rect x="81.00" y="685.60" width="11.20" height="1.20" fill="rgb(197,197,197)"/><rect x="93.00" y="629.80" width="10.40" height="1.20" fill="rgb(215,215,215)"/><rect x="93.00" y="630.40" width="10.40" height="1.20" fill="rgb(212,212,212)"/><rect x="93.00" y="631.00" width="10.40" height="1.20" fill="rgb(210,210,210)"/><rect x="93.00" y="631.60" width="10.40" height="1.20" fill="rgb(213,213,213)"/><rect x="93.00" y="632.20" width="10.40" height="1.20" fill="rgb(212,212,212)"/><rect x="93.00" y="632.80" width="10.40" height="1.20" fill="rgb(206,206,206)"/><rect x="93.00" y="633.40" width="10.40" height="1.20" fill="rgb(205,205,205)"/><rect x="93.00" y="634.00" width="10.40" height="1.20" fill="rgb(196,196,196)"/><rect x="93.00" y="634.60" width="10.40" height="1.20" fill="rgb(194,194,194)"/><rect x="93.00" y="635.20" width="10.40" height="1.20" fill="rgb(193,193,193)"/><rect x="93.00" y="635.80" width="10.40" height="1.20" fill="rgb(190,190,190)"/><rect x="93.00" y="636.40" width="10.40" height="1.20" fill="rgb(186,186,186)"/><rect x="93.00" y="637.00" width="10.40" height="1.20" fill="rgb(189,189,189)"/><rect x="93.00" y="637.60" width="10.40" height="1.20" fill="rgb(181,181,181)"/><rect x="93.00" y="638.20" width="10.40" height="1.20" fill="rgb(179,179,179)"/><rect x="93.00" y="638.80" width="10.40" height="1.20" fill="rgb(166,166,166)"/><rect x="93.00" y="639.40" width="10.40" height="1.20" fill="rgb(171,171,171)"/><rect x="93.00" y="640.00" width="10.40" height="1.20" fill="rgb(158,158,158)"/><rect x="93.00" y="640.60" width="10.40" height="1.20" fill="rgb(157,157,157)"/><rect x="93.00" y="641.20" width="10.40" height="1.20" fill="rgb(142,142,142)"/><rect x="93.00" y="641.80" width="10.40" height="1.20" fill="rgb(137,137,137)"/><rect x="93.00" y="642.40" width="10.40" height="1.20" fill="rgb(128,128,128)"/><rect x="93.00" y="643.00" width="10.40" height="1.20" fill="rgb(115,115,115)"/><rect x="93.00" y="643.60" width="10.40" height="1.20" fill="rgb(117,117,117)"/><rect x="93.00" y="644.20" width="10.40" height="1.20" fill="rgb(110,110,110)"/><rect x="93.00" y="644.80" width="10.40" height="1.20" fill="rgb(94,94,94)"/><rect x="93.00" y="645.40" width="10.40" height="1.20" fill="rgb(92,92,92)"/><rect x="93.00" y="646.00" width="10.40" height="1.20" fill="rgb(90,90,90)"/><rect x="93.00" y="646.60" width="10.40" height="1.20" fill="rgb(83,83,83)"/><rect x="93.00" y="647.20" width="10.40" height="1.20" fill="rgb(85,85,85)"/><rect x="93.00" y="647.80" width="10.40" height="1.20" fill="rgb(97,97,97)"/><rect x="93.00" y="648.40" width="10.40" height="1.20" fill="rgb(95,95,95)"/><rect x="93.00" y="649.00" width="10.40" height="1.20" fill="rgb(101,101,101)"/><rect x="93.00" y="649.60" width="10.40" height="1.20" fill="rgb(97,97,97)"/><rect x="93.00" y="650.20" width="10.40" height="1.20" fill="rgb(93,93,93)"/><rect x="93.00" y="650.80" width="10.40" height="1.20" fill="rgb(96,96,96)"/><rect x="93.00" y="651.40" width="10.40" height="1.20" fill="rgb(89,89,89)"/><rect x="93.00" y="652.00" width="10.40" height="1.20" fill="rgb(95,95,95)"/><rect x="93.00" y="652.60" width="10.40" height="1.20" fill="rgb(84,84,84)"/><rect x="93.00" y="653.20" width="10.40" height="1.20" fill="rgb(68,68,68)"/><rect x="93.00" y="653.80" width="10.40" height="1.20" fill="rgb(63,63,63)"/><rect x="93.00" y="654.40" width="10.40" height="1.20" fill="rgb(53,53,53)"/><rect x="93.00" y="655.00" width="10.40" height="1.20" fill="rgb(42,42,42)"/><rect x="93.00" y="655.60" width="10.40" height="1.20" fill="rgb(47,47,47)"/><rect x="93.00" y="656.20" width="10.40" height="1.20" fill="rgb(51,51,51)"/><rect x="93.00" y="656.80" width="10.40" height="1.20" fill="rgb(58,58,58)"/><rect x="93.00" y="657.40" width="10.40" height="1.20" fill="rgb(54,54,54)"/><rect x="93.00" y="658.00" width="10.40" height="1.20" fill="rgb(55,55,55)"/><rect x="93.00" y="658.60" width="10.40" height="1.20" fill="rgb(68,68,68)"/><rect x="93.00" y="659.20" width="10.40" height="1.20" fill="rgb(84,84,84)"/><rect x="93.00" y="659.80" width="10.40" height="1.20" fill="rgb(100,100,100)"/><rect x="93.00" y="660.40" width="10.40" height="1.20" fill="rgb(113,113,113)"/><rect x="93.00" y="661.00" width="10.40" height="1.20" fill="rgb(123,123,123)"/><rect x="93.00" y="661.60" width="10.40" height="1.20" fill="rgb(126,126,126)"/><rect x="93.00" y="662.20" width="10.40" height="1.20" fill="rgb(135,135,135)"/><rect x="93.00" y="662.80" width="10.40" height="1.20" fill="rgb(136,136,136)"/><rect x="93.00" y="663.40" width="10.40" height="1.20" fill="rgb(138,138,138)"/><rect x="93.00" y="664.00" width="10.40" height="1.20" fill="rgb(139,139,139)"/><rect x="93.00" y="664.60" width="10.40" height="1.20" fill="rgb(139,139,139)"/><rect x="93.00" y="665.20" width="10.40" height="1.20" fill="rgb(144,144,144)"/><rect x="93.00" y="665.80" width="10.40" height="1.20" fill="rgb(150,150,150)"/><rect x="93.00" y="666.40" width="10.40" height="1.20" fill="rgb(143,143,143)"/><rect x="93.00" y="667.00" width="10.40" height="1.20" fill="rgb(148,148,148)"/><rect x="93.00" y="667.60" width="10.40" height="1.20" fill="rgb(148,148,148)"/><rect x="93.00" y="668.20" width="10.40" height="1.20" fill="rgb(152,152,152)"/><rect x="93.00" y="668.80" width="10.40" height="1.20" fill="rgb(151,151,151)"/><rect x="93.00" y="669.40" width="10.40" height="1.20" fill="rgb(150,150,150)"/><rect x="93.00" y="670.00" width="10.40" height="1.20" fill="rgb(143,143,143)"/><rect x="93.00" y="670.60" width="10.40" height="1.20" fill="rgb(148,148,148)"/><rect x="93.00" y="671.20" width="10.40" height="1.20" fill="rgb(141,141,141)"/><rect x="93.00" y="671.80" width="10.40" height="1.20" fill="rgb(142,142,142)"/><rect x="93.00" y="672.40" width="10.40" height="1.20" fill="rgb(136,136,136)"/><rect x="93.00" y="673.00" width="10.40" height="1.20" fill="rgb(145,145,145)"/><rect x="93.00" y="673.60" width="10.40" height="1.20" fill="rgb(143,143,143)"/><rect x="93.00" y="674.20" width="10.40" height="1.20" fill="rgb(144,144,144)"/><rect x="93.00" y="674.80" width="10.40" height="1.20" fill="rgb(142,142,142)"/><rect x="93.00" y="675.40" width="10.40" height="1.20" fill="rgb(147,147,147)"/><rect x="93.00" y="676.00" width="10.40" height="1.20" fill="rgb(139,139,139)"/><rect x="93.00" y="676.60" width="10.40" height="1.20" fill="rgb(139,139,139)"/><rect x="93.00" y="677.20" width="10.40" height="1.20" fill="rgb(135,135,135)"/><rect x="93.00" y="677.80" width="10.40" height="1.20" fill="rgb(130,130,130)"/><rect x="93.00" y="678.40" width="10.40" height="1.20" fill="rgb(126,126,126)"/><rect x="93.00" y="679.00" width="10.40" height="1.20" fill="rgb(133,133,133)"/><rect x="93.00" y="679.60" width="10.40" height="1.20" fill="rgb(130,130,130)"/><rect x="93.00" y="680.20" width="10.40" height="1.20" fill="rgb(140,140,140)"/><rect x="93.00" y="680.80" width="10.40" height="1.20" fill="rgb(134,134,134)"/><rect x="93.00" y="681.40" width="10.40" height="1.20" fill="rgb(147,147,147)"/><rect x="93.00" y="682.00" width="10.40" height="1.20" fill="rgb(157,157,157)"/><rect x="93.00" y="682.60" width="10.40" height="1.20" fill="rgb(160,160,160)"/><rect x="93.00" y="683.20" width="10.40" height="1.20" fill="rgb(167,167,167)"/><rect x="93.00" y="683.80" width="10.40" height="1.20" fill="rgb(185,185,185)"/><rect x="93.00" y="684.40" width="10.40" height="1.20" fill="rgb(190,190,190)"/><rect x="93.00" y="685.00" width="10.40" height="1.20" fill="rgb(193,193,193)"/><rect x="93.00" y="685.60" width="10.40" height="1.20" fill="rgb(205,205,205)"/><rect x="104.70" y="629.80" width="12.00" height="1.20" fill="rgb(213,213,213)"/><rect x="104.70" y="630.40" width="12.00" height="1.20" fill="rgb(206,206,206)"/><rect x="104.70" y="631.00" width="12.00" height="1.20" fill="rgb(202,202,202)"/><rect x="104.70" y="631.60" width="12.00" height="1.20" fill="rgb(196,196,196)"/><rect x="104.70" y="632.20" width="12.00" height="1.20" fill="rgb(198,198,198)"/><rect x="104.70" y="632.80" width="12.00" height="1.20" fill="rgb(193,193,193)"/><rect x="104.70" y="633.40" width="12.00" height="1.20" fill="rgb(188,188,188)"/><rect x="104.70" y="634.00" width="12.00" height="1.20" fill="rgb(182,182,182)"/><rect x="104.70" y="634.60" width="12.00" height="1.20" fill="rgb(172,172,172)"/><rect x="104.70" y="635.20" width="12.00" height="1.20" fill="rgb(171,171,171)"/><rect x="104.70" y="635.80" width="12.00" height="1.20" fill="rgb(162,162,162)"/><rect x="104.70" y="636.40" width="12.00" height="1.20" fill="rgb(159,159,159)"/><rect x="104.70" y="637.00" width="12.00" height="1.20" fill="rgb(152,152,152)"/><rect x="104.70" y="637.60" width="12.00" height="1.20" fill="rgb(140,140,140)"/><rect x="104.70" y="638.20" width="12.00" height="1.20" fill="rgb(126,126,126)"/><rect x="104.70" y="638.80" width="12.00" height="1.20" fill="rgb(117,117,117)"/><rect x="104.70" y="639.40" width="12.00" height="1.20" fill="rgb(112,112,112)"/><rect x="104.70" y="640.00" width="12.00" height="1.20" fill="rgb(99,99,99)"/><rect x="104.70" y="640.60" width="12.00" height="1.20" fill="rgb(86,86,86)"/><rect x="104.70" y="641.20" width="12.00" height="1.20" fill="rgb(65,65,65)"/><rect x="104.70" y="641.80" width="12.00" height="1.20" fill="rgb(52,52,52)"/><rect x="104.70" y="642.40" width="12.00" height="1.20" fill="rgb(37,37,37)"/><rect x="104.70" y="643.00" width="12.00" height="1.20" fill="rgb(23,23,23)"/><rect x="104.70" y="643.60" width="12.00" height="1.20" fill="rgb(19,19,19)"/><rect x="104.70" y="644.20" width="12.00" height="1.20" fill="rgb(12,12,12)"/><rect x="104.70" y="644.80" width="12.00" height="1.20" fill="rgb(8,8,8)"/><rect x="104.70" y="645.40" width="12.00" height="1.20" fill="rgb(7,7,7)"/><rect x="104.70" y="646.00" width="12.00" height="1.20" fill="rgb(0,0,0)"/><rect x="104.70" y="646.60" width="12.00" height="1.20" fill="rgb(0,0,0)"/><rect x="104.70" y="647.20" width="12.00" height="1.20" fill="rgb(0,0,0)"/><rect x="104.70" y="647.80" width="12.00" height="1.20" fill="rgb(0,0,0)"/><rect x="104.70" y="648.40" width="12.00" height="1.20" fill="rgb(1,1,1)"/><rect x="104.70" y="649.00" width="12.00" height="1.20" fill="rgb(1,1,1)"/><rect x="104.70" y="649.60" width="12.00" height="1.20" fill="rgb(1,1,1)"/><rect x="104.70" y="650.20" width="12.00" height="1.20" fill="rgb(2,2,2)"/><rect x="104.70" y="650.80" width="12.00" height="1.20" fill="rgb(3,3,3)"/><rect x="104.70" y="651.40" width="12.00" height="1.20" fill="rgb(0,0,0)"/><rect x="104.70" y="652.00" width="12.00" height="1.20" fill="rgb(0,0,0)"/><rect x="104.70" y="652.60" width="12.00" height="1.20" fill="rgb(0,0,0)"/><rect x="104.70" y="653.20" width="12.00" height="1.20" fill="rgb(0,0,0)"/><rect x="104.70" y="653.80" width="12.00" height="1.20" fill="rgb(0,0,0)"/><rect x="104.70" y="654.40" width="12.00" height="1.20" fill="rgb(0,0,0)"/><rect x="104.70" y="655.00" width="12.00" height="1.20" fill="rgb(3,3,3)"/><rect x="104.70" y="655.60" width="12.00" height="1.20" fill="rgb(0,0,0)"/><rect x="104.70" y="656.20" width="12.00" height="1.20" fill="rgb(0,0,0)"/><rect x="104.70" y="656.80" width="12.00" height="1.20" fill="rgb(3,3,3)"/><rect x="104.70" y="657.40" width="12.00" height="1.20" fill="rgb(3,3,3)"/><rect x="104.70" y="658.00" width="12.00" height="1.20" fill="rgb(0,0,0)"/><rect x="104.70" y="658.60" width="12.00" height="1.20" fill="rgb(2,2,2)"/><rect x="104.70" y="659.20" width="12.00" height="1.20" fill="rgb(0,0,0)"/><rect x="104.70" y="659.80" width="12.00" height="1.20" fill="rgb(0,0,0)"/><rect x="104.70" y="660.40" width="12.00" height="1.20" fill="rgb(5,5,5)"/><rect x="104.70" y="661.00" width="12.00" height="1.20" fill="rgb(14,14,14)"/><rect x="104.70" y="661.60" width="12.00" height="1.20" fill="rgb(17,17,17)"/><rect x="104.70" y="662.20" width="12.00" height="1.20" fill="rgb(26,26,26)"/><rect x="104.70" y="662.80" width="12.00" height="1.20" fill="rgb(32,32,32)"/><rect x="104.70" y="663.40" width="12.00" height="1.20" fill="rgb(39,39,39)"/><rect x="104.70" y="664.00" width="12.00" height="1.20" fill="rgb(44,44,44)"/><rect x="104.70" y="664.60" width="12.00" height="1.20" fill="rgb(53,53,53)"/><rect x="104.70" y="665.20" width="12.00" height="1.20" fill="rgb(55,55,55)"/><rect x="104.70" y="665.80" width="12.00" height="1.20" fill="rgb(58,58,58)"/><rect x="104.70" y="666.40" width="12.00" height="1.20" fill="rgb(65,65,65)"/><rect x="104.70" y="667.00" width="12.00" height="1.20" fill="rgb(62,62,62)"/><rect x="104.70" y="667.60" width="12.00" height="1.20" fill="rgb(59,59,59)"/><rect x="104.70" y="668.20" width="12.00" height="1.20" fill="rgb(66,66,66)"/><rect x="104.70" y="668.80" width="12.00" height="1.20" fill="rgb(65,65,65)"/><rect x="104.70" y="669.40" width="12.00" height="1.20" fill="rgb(58,58,58)"/><rect x="104.70" y="670.00" width="12.00" height="1.20" fill="rgb(57,57,57)"/><rect x="104.70" y="670.60" width="12.00" height="1.20" fill="rgb(56,56,56)"/><rect x="104.70" y="671.20" width="12.00" height="1.20" fill="rgb(56,56,56)"/><rect x="104.70" y="671.80" width="12.00" height="1.20" fill="rgb(51,51,51)"/><rect x="104.70" y="672.40" width="12.00" height="1.20" fill="rgb(43,43,43)"/><rect x="104.70" y="673.00" width="12.00" height="1.20" fill="rgb(40,40,40)"/><rect x="104.70" y="673.60" width="12.00" height="1.20" fill="rgb(41,41,41)"/><rect x="104.70" y="674.20" width="12.00" height="1.20" fill="rgb(47,47,47)"/><rect x="104.70" y="674.80" width="12.00" height="1.20" fill="rgb(43,43,43)"/><rect x="104.70" y="675.40" width="12.00" height="1.20" fill="rgb(48,48,48)"/><rect x="104.70" y="676.00" width="12.00" height="1.20" fill="rgb(45,45,45)"/><rect x="104.70" y="676.60" width="12.00" height="1.20" fill="rgb(54,54,54)"/><rect x="104.70" y="677.20" width="12.00" height="1.20" fill="rgb(50,50,50)"/><rect x="104.70" y="677.80" width="12.00" height="1.20" fill="rgb(57,57,57)"/><rect x="104.70" y="678.40" width="12.00" height="1.20" fill="rgb(59,59,59)"/><rect x="104.70" y="679.00" width="12.00" height="1.20" fill="rgb(67,67,67)"/><rect x="104.70" y="679.60" width="12.00" height="1.20" fill="rgb(71,71,71)"/><rect x="104.70" y="680.20" width="12.00" height="1.20" fill="rgb(79,79,79)"/><rect x="104.70" y="680.80" width="12.00" height="1.20" fill="rgb(87,87,87)"/><rect x="104.70" y="681.40" width="12.00" height="1.20" fill="rgb(97,97,97)"/><rect x="104.70" y="682.00" width="12.00" height="1.20" fill="rgb(101,101,101)"/><rect x="104.70" y="682.60" width="12.00" height="1.20" fill="rgb(119,119,119)"/><rect x="104.70" y="683.20" width="12.00" height="1.20" fill="rgb(133,133,133)"/><rect x="104.70" y="683.80" width="12.00" height="1.20" fill="rgb(149,149,149)"/><rect x="104.70" y="684.40" width="12.00" height="1.20" fill="rgb(158,158,158)"/><rect x="104.70" y="685.00" width="12.00" height="1.20" fill="rgb(177,177,177)"/><rect x="104.70" y="685.60" width="12.00" height="1.20" fill="rgb(191,191,191)"/><rect x="117.10" y="629.80" width="11.20" height="1.20" fill="rgb(215,215,215)"/><rect x="117.10" y="630.40" width="11.20" height="1.20" fill="rgb(211,211,211)"/><rect x="117.10" y="631.00" width="11.20" height="1.20" fill="rgb(208,208,208)"/><rect x="117.10" y="631.60" width="11.20" height="1.20" fill="rgb(201,201,201)"/><rect x="117.10" y="632.20" width="11.20" height="1.20" fill="rgb(205,205,205)"/><rect x="117.10" y="632.80" width="11.20" height="1.20" fill="rgb(202,202,202)"/><rect x="117.10" y="633.40" width="11.20" height="1.20" fill="rgb(193,193,193)"/><rect x="117.10" y="634.00" width="11.20" height="1.20" fill="rgb(190,190,190)"/><rect x="117.10" y="634.60" width="11.20" height="1.20" fill="rgb(190,190,190)"/><rect x="117.10" y="635.20" width="11.20" height="1.20" fill="rgb(182,182,182)"/><rect x="117.10" y="635.80" width="11.20" height="1.20" fill="rgb(181,181,181)"/><rect x="117.10" y="636.40" width="11.20" height="1.20" fill="rgb(173,173,173)"/><rect x="117.10" y="637.00" width="11.20" height="1.20" fill="rgb(176,176,176)"/><rect x="117.10" y="637.60" width="11.20" height="1.20" fill="rgb(169,169,169)"/><rect x="117.10" y="638.20" width="11.20" height="1.20" fill="rgb(155,155,155)"/><rect x="117.10" y="638.80" width="11.20" height="1.20" fill="rgb(154,154,154)"/><rect x="117.10" y="639.40" width="11.20" height="1.20" fill="rgb(149,149,149)"/><rect x="117.10" y="640.00" width="11.20" height="1.20" fill="rgb(136,136,136)"/><rect x="117.10" y="640.60" width="11.20" height="1.20" fill="rgb(125,125,125)"/><rect x="117.10" y="641.20" width="11.20" height="1.20" fill="rgb(118,118,118)"/><rect x="117.10" y="641.80" width="11.20" height="1.20" fill="rgb(100,100,100)"/><rect x="117.10" y="642.40" width="11.20" height="1.20" fill="rgb(86,86,86)"/><rect x="117.10" y="643.00" width="11.20" height="1.20" fill="rgb(79,79,79)"/><rect x="117.10" y="643.60" width="11.20" height="1.20" fill="rgb(64,64,64)"/><rect x="117.10" y="644.20" width="11.20" height="1.20" fill="rgb(60,60,60)"/><rect x="117.10" y="644.80" width="11.20" height="1.20" fill="rgb(47,47,47)"/><rect x="117.10" y="645.40" width="11.20" height="1.20" fill="rgb(40,40,40)"/><rect x="117.10" y="646.00" width="11.20" height="1.20" fill="rgb(29,29,29)"/><rect x="117.10" y="646.60" width="11.20" height="1.20" fill="rgb(23,23,23)"/><rect x="117.10" y="647.20" width="11.20" height="1.20" fill="rgb(32,32,32)"/><rect x="117.10" y="647.80" width="11.20" height="1.20" fill="rgb(28,28,28)"/><rect x="117.10" y="648.40" width="11.20" height="1.20" fill="rgb(37,37,37)"/><rect x="117.10" y="649.00" width="11.20" height="1.20" fill="rgb(38,38,38)"/><rect x="117.10" y="649.60" width="11.20" height="1.20" fill="rgb(33,33,33)"/><rect x="117.10" y="650.20" width="11.20" height="1.20" fill="rgb(34,34,34)"/><rect x="117.10" y="650.80" width="11.20" height="1.20" fill="rgb(39,39,39)"/><rect x="117.10" y="651.40" width="11.20" height="1.20" fill="rgb(33,33,33)"/><rect x="117.10" y="652.00" width="11.20" height="1.20" fill="rgb(31,31,31)"/><rect x="117.10" y="652.60" width="11.20" height="1.20" fill="rgb(31,31,31)"/><rect x="117.10" y="653.20" width="11.20" height="1.20" fill="rgb(28,28,28)"/><rect x="117.10" y="653.80" width="11.20" height="1.20" fill="rgb(15,15,15)"/><rect x="117.10" y="654.40" width="11.20" height="1.20" fill="rgb(15,15,15)"/><rect x="117.10" y="655.00" width="11.20" height="1.20" fill="rgb(14,14,14)"/><rect x="117.10" y="655.60" width="11.20" height="1.20" fill="rgb(16,16,16)"/><rect x="117.10" y="656.20" width="11.20" height="1.20" fill="rgb(22,22,22)"/><rect x="117.10" y="656.80" width="11.20" height="1.20" fill="rgb(20,20,20)"/><rect x="117.10" y="657.40" width="11.20" height="1.20" fill="rgb(28,28,28)"/><rect x="117.10" y="658.00" width="11.20" height="1.20" fill="rgb(37,37,37)"/><rect x="117.10" y="658.60" width="11.20" height="1.20" fill="rgb(40,40,40)"/><rect x="117.10" y="659.20" width="11.20" height="1.20" fill="rgb(58,58,58)"/><rect x="117.10" y="659.80" width="11.20" height="1.20" fill="rgb(67,67,67)"/><rect x="117.10" y="660.40" width="11.20" height="1.20" fill="rgb(80,80,80)"/><rect x="117.10" y="661.00" width="11.20" height="1.20" fill="rgb(83,83,83)"/><rect x="117.10" y="661.60" width="11.20" height="1.20" fill="rgb(93,93,93)"/><rect x="117.10" y="662.20" width="11.20" height="1.20" fill="rgb(92,92,92)"/><rect x="117.10" y="662.80" width="11.20" height="1.20" fill="rgb(100,100,100)"/><rect x="117.10" y="663.40" width="11.20" height="1.20" fill="rgb(99,99,99)"/><rect x="117.10" y="664.00" width="11.20" height="1.20" fill="rgb(100,100,100)"/><rect x="117.10" y="664.60" width="11.20" height="1.20" fill="rgb(105,105,105)"/><rect x="117.10" y="665.20" width="11.20" height="1.20" fill="rgb(108,108,108)"/><rect x="117.10" y="665.80" width="11.20" height="1.20" fill="rgb(109,109,109)"/><rect x="117.10" y="666.40" width="11.20" height="1.20" fill="rgb(110,110,110)"/><rect x="117.10" y="667.00" width="11.20" height="1.20" fill="rgb(109,109,109)"/><rect x="117.10" y="667.60" width="11.20" height="1.20" fill="rgb(115,115,115)"/><rect x="117.10" y="668.20" width="11.20" height="1.20" fill="rgb(111,111,111)"/><rect x="117.10" y="668.80" width="11.20" height="1.20" fill="rgb(114,114,114)"/><rect x="117.10" y="669.40" width="11.20" height="1.20" fill="rgb(106,106,106)"/><rect x="117.10" y="670.00" width="11.20" height="1.20" fill="rgb(103,103,103)"/><rect x="117.10" y="670.60" width="11.20" height="1.20" fill="rgb(110,110,110)"/><rect x="117.10" y="671.20" width="11.20" height="1.20" fill="rgb(107,107,107)"/><rect x="117.10" y="671.80" width="11.20" height="1.20" fill="rgb(99,99,99)"/><rect x="117.10" y="672.40" width="11.20" height="1.20" fill="rgb(98,98,98)"/><rect x="117.10" y="673.00" width="11.20" height="1.20" fill="rgb(102,102,102)"/><rect x="117.10" y="673.60" width="11.20" height="1.20" fill="rgb(96,96,96)"/><rect x="117.10" y="674.20" width="11.20" height="1.20" fill="rgb(95,95,95)"/><rect x="117.10" y="674.80" width="11.20" height="1.20" fill="rgb(102,102,102)"/><rect x="117.10" y="675.40" width="11.20" height="1.20" fill="rgb(105,105,105)"/><rect x="117.10" y="676.00" width="11.20" height="1.20" fill="rgb(104,104,104)"/><rect x="117.10" y="676.60" width="11.20" height="1.20" fill="rgb(102,102,102)"/><rect x="117.10" y="677.20" width="11.20" height="1.20" fill="rgb(111,111,111)"/><rect x="117.10" y="677.80" width="11.20" height="1.20" fill="rgb(112,112,112)"/><rect x="117.10" y="678.40" width="11.20" height="1.20" fill="rgb(116,116,116)"/><rect x="117.10" y="679.00" width="11.20" height="1.20" fill="rgb(113,113,113)"/><rect x="117.10" y="679.60" width="11.20" height="1.20" fill="rgb(117,117,117)"/><rect x="117.10" y="680.20" width="11.20" height="1.20" fill="rgb(123,123,123)"/><rect x="117.10" y="680.80" width="11.20" height="1.20" fill="rgb(129,129,129)"/><rect x="117.10" y="681.40" width="11.20" height="1.20" fill="rgb(141,141,141)"/><rect x="117.10" y="682.00" width="11.20" height="1.20" fill="rgb(145,145,145)"/><rect x="117.10" y="682.60" width="11.20" height="1.20" fill="rgb(145,145,145)"/><rect x="117.10" y="683.20" width="11.20" height="1.20" fill="rgb(157,157,157)"/><rect x="117.10" y="683.80" width="11.20" height="1.20" fill="rgb(168,168,168)"/><rect x="117.10" y="684.40" width="11.20" height="1.20" fill="rgb(170,170,170)"/><rect x="117.10" y="685.00" width="11.20" height="1.20" fill="rgb(186,186,186)"/><rect x="117.10" y="685.60" width="11.20" height="1.20" fill="rgb(198,198,198)"/></g>
<text x="74.6" y="657.2" font-size="6.6" text-anchor="middle" textLength="44.4" lengthAdjust="spacingAndGlyphs" transform="rotate(-90 74.6 657.2)" fill="#333" stroke="#333" stroke-width="0.14" font-family='"Liberation Sans", sans-serif'>Anti-puromycin</text>
<rect x="79.2" y="687.8" width="51.2" height="10.2" fill="#dcdcdc"/>
<g filter="url(#blur1)"><rect x="81.0" y="691.2" width="11" height="3.6" rx="1" fill="#111"/><rect x="93.8" y="691.9" width="9.4" height="2.2" rx="1" fill="#333"/><rect x="104.9" y="691.2" width="11.4" height="3.6" rx="1" fill="#111"/><rect x="118.3" y="692.0" width="9.4" height="2.0" rx="1" fill="#555"/></g>
<text x="61.2" y="695.6" font-size="7.3" textLength="13.8" lengthAdjust="spacingAndGlyphs" fill="#333" stroke="#333" stroke-width="0.14" font-family='"Liberation Sans", sans-serif'>ATF4</text>
<rect x="79.2" y="699.6" width="51.2" height="11" fill="#cfcfcf"/>
<g filter="url(#blur1)"><rect x="81.0" y="702.5" width="11.0" height="5.0" rx="1.4" fill="#0a0a0a"/><rect x="93.0" y="702.5" width="10.4" height="5.0" rx="1.4" fill="#0a0a0a"/><rect x="104.8" y="702.5" width="11.8" height="5.0" rx="1.4" fill="#0a0a0a"/><rect x="117.2" y="702.5" width="11.0" height="5.0" rx="1.4" fill="#0a0a0a"/></g>
<text x="49.6" y="707.6" font-size="7.3" textLength="25.4" lengthAdjust="spacingAndGlyphs" fill="#333" stroke="#333" stroke-width="0.14" font-family='"Liberation Sans", sans-serif'>β-ACTIN</text>
</svg>
<div class="brd"></div>
</body></html>
